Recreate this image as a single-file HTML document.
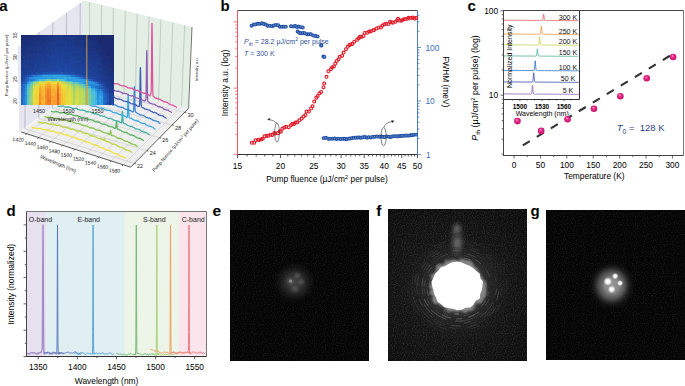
<!DOCTYPE html>
<html><head><meta charset="utf-8"><title>Figure</title>
<style>html,body{margin:0;padding:0;background:#fff;width:685px;height:386px;overflow:hidden}svg{display:block}text{font-family:"Liberation Sans",sans-serif}</style>
</head><body>
<svg width="685" height="386" viewBox="0 0 685 386" font-family='"Liberation Sans", sans-serif'><defs><radialGradient id="sph" cx="0.5" cy="0.5" r="0.5" fx="0.38" fy="0.3"><stop offset="0" stop-color="#ffd0e6"/><stop offset="0.35" stop-color="#f0308c"/><stop offset="1" stop-color="#c8106a"/></radialGradient><filter id="grain" x="0" y="0" width="100%" height="100%"><feTurbulence type="fractalNoise" baseFrequency="0.9" numOctaves="1" seed="3" result="n"/><feColorMatrix in="n" type="matrix" values="0 0 0 0 0.22  0 0 0 0 0.22  0 0 0 0 0.22  1.6 0 0 0 -0.72" result="g"/><feComposite in="g" in2="SourceGraphic" operator="in"/></filter><filter id="bl1" x="-50%" y="-50%" width="200%" height="200%"><feGaussianBlur stdDeviation="1.0"/></filter><filter id="bl2" x="-50%" y="-50%" width="200%" height="200%"><feGaussianBlur stdDeviation="2.2"/></filter><filter id="bl05" x="-50%" y="-50%" width="200%" height="200%"><feGaussianBlur stdDeviation="0.6"/></filter><radialGradient id="ge"><stop offset="0" stop-color="#4a4a4a" stop-opacity="0.9"/><stop offset="0.45" stop-color="#404040" stop-opacity="0.65"/><stop offset="0.75" stop-color="#2a2a2a" stop-opacity="0.35"/><stop offset="1" stop-color="#222" stop-opacity="0"/></radialGradient><radialGradient id="gdot"><stop offset="0" stop-color="#fff" stop-opacity="0.17"/><stop offset="1" stop-color="#fff" stop-opacity="0"/></radialGradient><clipPath id="cf"><rect x="388" y="209" width="139" height="152"/></clipPath><radialGradient id="gfw" cx="0.5" cy="0.5" r="0.5"><stop offset="0" stop-color="#444" stop-opacity="0.45"/><stop offset="0.5" stop-color="#333" stop-opacity="0.32"/><stop offset="1" stop-color="#262626" stop-opacity="0.2"/></radialGradient><radialGradient id="gfh" cx="0.5" cy="0.5" r="0.5"><stop offset="0.45" stop-color="#555" stop-opacity="0.5"/><stop offset="0.6" stop-color="#404040" stop-opacity="0.3"/><stop offset="0.8" stop-color="#303030" stop-opacity="0.15"/><stop offset="1" stop-color="#222" stop-opacity="0"/></radialGradient><radialGradient id="gg"><stop offset="0" stop-color="#a0a0a0" stop-opacity="0.95"/><stop offset="0.3" stop-color="#959595" stop-opacity="0.9"/><stop offset="0.5" stop-color="#707070" stop-opacity="0.72"/><stop offset="0.7" stop-color="#444" stop-opacity="0.42"/><stop offset="0.86" stop-color="#282828" stop-opacity="0.2"/><stop offset="1" stop-color="#222" stop-opacity="0"/></radialGradient><radialGradient id="gdot2"><stop offset="0" stop-color="#fff"/><stop offset="0.45" stop-color="#fff" stop-opacity="0.9"/><stop offset="1" stop-color="#fff" stop-opacity="0"/></radialGradient></defs><text x="-0.8" y="10.8" font-size="15" font-weight="bold">a</text>
<polygon points="83.7,0.6 17.6,47.4 19.2,131.9 84,84.2" fill="#e6e6f1" stroke="none" stroke-width="1"/>
<polygon points="83.7,0.6 192,27 188.6,108.3 84,84.2" fill="#e3eee5" stroke="none" stroke-width="1"/>
<line x1="89.44" y1="85.45" x2="89.62" y2="2.04" stroke="#aab4ac" stroke-width="0.6"/>
<line x1="100.95" y1="88.1" x2="101.5" y2="4.94" stroke="#aab4ac" stroke-width="0.6"/>
<line x1="112.45" y1="90.76" x2="113.38" y2="7.83" stroke="#aab4ac" stroke-width="0.6"/>
<line x1="123.96" y1="93.41" x2="125.26" y2="10.73" stroke="#aab4ac" stroke-width="0.6"/>
<line x1="135.46" y1="96.06" x2="137.14" y2="13.63" stroke="#aab4ac" stroke-width="0.6"/>
<line x1="146.97" y1="98.71" x2="149.02" y2="16.52" stroke="#aab4ac" stroke-width="0.6"/>
<line x1="158.48" y1="101.36" x2="160.9" y2="19.42" stroke="#aab4ac" stroke-width="0.6"/>
<line x1="169.98" y1="104.01" x2="172.78" y2="22.31" stroke="#aab4ac" stroke-width="0.6"/>
<line x1="181.49" y1="106.66" x2="184.66" y2="25.21" stroke="#aab4ac" stroke-width="0.6"/>
<line x1="24.94" y1="128.85" x2="25.34" y2="41.92" stroke="#a0a0aa" stroke-width="0.6"/>
<line x1="38.66" y1="118.47" x2="39.06" y2="32.2" stroke="#a0a0aa" stroke-width="0.6"/>
<line x1="52.39" y1="108.1" x2="52.79" y2="22.49" stroke="#a0a0aa" stroke-width="0.6"/>
<line x1="66.11" y1="97.72" x2="66.51" y2="12.77" stroke="#a0a0aa" stroke-width="0.6"/>
<line x1="79.84" y1="87.35" x2="80.24" y2="3.05" stroke="#a0a0aa" stroke-width="0.6"/>
<polygon points="20.9,131.9 130.6,167.2 188.6,108.3 84,84.2" fill="#efefef" stroke="none" stroke-width="1"/>
<line x1="26.6" y1="133.74" x2="89.44" y2="85.45" stroke="#c4c4c4" stroke-width="0.55"/>
<line x1="38.67" y1="137.62" x2="100.95" y2="88.1" stroke="#c4c4c4" stroke-width="0.55"/>
<line x1="50.74" y1="141.5" x2="112.45" y2="90.76" stroke="#c4c4c4" stroke-width="0.55"/>
<line x1="62.81" y1="145.38" x2="123.96" y2="93.41" stroke="#c4c4c4" stroke-width="0.55"/>
<line x1="74.87" y1="149.27" x2="135.46" y2="96.06" stroke="#c4c4c4" stroke-width="0.55"/>
<line x1="86.94" y1="153.15" x2="146.97" y2="98.71" stroke="#c4c4c4" stroke-width="0.55"/>
<line x1="99.01" y1="157.03" x2="158.48" y2="101.36" stroke="#c4c4c4" stroke-width="0.55"/>
<line x1="111.07" y1="160.92" x2="169.98" y2="104.01" stroke="#c4c4c4" stroke-width="0.55"/>
<line x1="123.14" y1="164.8" x2="181.49" y2="106.66" stroke="#c4c4c4" stroke-width="0.55"/>
<line x1="24.94" y1="128.85" x2="134.31" y2="163.43" stroke="#c4c4c4" stroke-width="0.55"/>
<line x1="38.66" y1="118.47" x2="146.93" y2="150.62" stroke="#c4c4c4" stroke-width="0.55"/>
<line x1="52.39" y1="108.1" x2="159.54" y2="137.81" stroke="#c4c4c4" stroke-width="0.55"/>
<line x1="66.11" y1="97.72" x2="172.16" y2="125" stroke="#c4c4c4" stroke-width="0.55"/>
<line x1="79.84" y1="87.35" x2="184.77" y2="112.19" stroke="#c4c4c4" stroke-width="0.55"/>
<line x1="188.6" y1="108.3" x2="192" y2="27" stroke="#555" stroke-width="0.8"/>
<line x1="20.9" y1="131.9" x2="130.6" y2="167.2" stroke="#333" stroke-width="0.8"/>
<line x1="130.6" y1="167.2" x2="188.6" y2="108.3" stroke="#333" stroke-width="0.8"/>
<line x1="26.6" y1="133.74" x2="25.4" y2="135.04" stroke="#333" stroke-width="0.7"/>
<text x="18" y="141.34" font-size="5.1" fill="#222" text-anchor="middle" transform="rotate(4 18 141.34)">1420</text>
<line x1="38.67" y1="137.62" x2="37.47" y2="138.92" stroke="#333" stroke-width="0.7"/>
<text x="30.07" y="145.22" font-size="5.1" fill="#222" text-anchor="middle" transform="rotate(4 30.07 145.22)">1440</text>
<line x1="50.74" y1="141.5" x2="49.54" y2="142.8" stroke="#333" stroke-width="0.7"/>
<text x="42.14" y="149.1" font-size="5.1" fill="#222" text-anchor="middle" transform="rotate(4 42.14 149.1)">1460</text>
<line x1="62.81" y1="145.38" x2="61.61" y2="146.68" stroke="#333" stroke-width="0.7"/>
<text x="54.21" y="152.98" font-size="5.1" fill="#222" text-anchor="middle" transform="rotate(4 54.21 152.98)">1480</text>
<line x1="74.87" y1="149.27" x2="73.67" y2="150.57" stroke="#333" stroke-width="0.7"/>
<text x="66.27" y="156.87" font-size="5.1" fill="#222" text-anchor="middle" transform="rotate(4 66.27 156.87)">1500</text>
<line x1="86.94" y1="153.15" x2="85.74" y2="154.45" stroke="#333" stroke-width="0.7"/>
<text x="78.34" y="160.75" font-size="5.1" fill="#222" text-anchor="middle" transform="rotate(4 78.34 160.75)">1520</text>
<line x1="99.01" y1="157.03" x2="97.81" y2="158.33" stroke="#333" stroke-width="0.7"/>
<text x="90.41" y="164.63" font-size="5.1" fill="#222" text-anchor="middle" transform="rotate(4 90.41 164.63)">1540</text>
<line x1="111.07" y1="160.92" x2="109.87" y2="162.22" stroke="#333" stroke-width="0.7"/>
<text x="102.47" y="168.52" font-size="5.1" fill="#222" text-anchor="middle" transform="rotate(4 102.47 168.52)">1560</text>
<line x1="123.14" y1="164.8" x2="121.94" y2="166.1" stroke="#333" stroke-width="0.7"/>
<text x="114.54" y="172.4" font-size="5.1" fill="#222" text-anchor="middle" transform="rotate(4 114.54 172.4)">1580</text>
<line x1="134.31" y1="163.43" x2="135.91" y2="163.93" stroke="#333" stroke-width="0.7"/>
<text x="140.11" y="168.03" font-size="5.4" fill="#222" text-anchor="middle">22</text>
<line x1="146.93" y1="150.62" x2="148.53" y2="151.12" stroke="#333" stroke-width="0.7"/>
<text x="152.73" y="155.22" font-size="5.4" fill="#222" text-anchor="middle">24</text>
<line x1="159.54" y1="137.81" x2="161.14" y2="138.31" stroke="#333" stroke-width="0.7"/>
<text x="165.34" y="142.41" font-size="5.4" fill="#222" text-anchor="middle">26</text>
<line x1="172.16" y1="125" x2="173.76" y2="125.5" stroke="#333" stroke-width="0.7"/>
<text x="177.96" y="129.6" font-size="5.4" fill="#222" text-anchor="middle">28</text>
<line x1="184.77" y1="112.19" x2="186.37" y2="112.69" stroke="#333" stroke-width="0.7"/>
<text x="190.57" y="116.79" font-size="5.4" fill="#222" text-anchor="middle">30</text>
<text x="57.6" y="165.4" font-size="5.1" fill="#222" text-anchor="middle" transform="rotate(23 57.6 165.4)">Wavelength (nm)</text>
<text x="176.5" y="146.5" font-size="4.7" fill="#222" text-anchor="middle" transform="rotate(-49 176.5 146.5)">Pump fluence (μJ/cm<tspan font-size="3.3" dy="-1.6">2</tspan><tspan dy="1.6"> per pulse)</tspan></text>
<text x="198.2" y="69.2" font-size="4.2" fill="#222" text-anchor="middle" transform="rotate(-90 198.2 69.2)">Intensity a.u.</text>
<polyline points="31.4,127.81 32.6,127.45 33.8,127.83 35,127.87 36.2,128.78 37.4,128.4 38.6,128.65 39.8,128.28 41,128.67 42.2,129.29 43.4,129.51 44.6,130.01 45.8,129.42 47,129.94 48.2,129.9 49.4,130.85 50.6,131.15 51.8,131.22 53,131.35 54.2,131.13 55.4,132.1 56.6,132.27 57.8,133.16 59,132.89 60.2,133.07 61.4,133.29 62.6,133.73 63.8,134.74 65,134.71 66.2,135.27 67.4,134.83 68.6,135.56 69.8,136 71,136.75 72.2,137.25 73.4,137.02 74.6,137.54 75.8,137.5 77,138.72 78.2,138.99 79.4,139.6 80.6,139.56 81.8,139.66 83,140.46 84.2,140.85 85.4,141.98 86.6,141.78 87.8,142.29 89,142.24 90.2,143.03 91.4,143.88 92.6,144.28 93.8,144.9 95,144.55 96.2,145.39 97.4,145.64 97.5,145.66 97.6,145.69 97.7,145.7 97.8,145.7 97.9,145.67 98,145.64 98.1,145.6 98.2,145.58 98.3,145.61 98.4,145.7 98.5,145.86 98.6,146.07 98.7,146.31 98.8,146.56 98.9,146.78 99,146.96 99.1,147.1 99.2,147.19 99.3,147.24 99.4,147.27 99.5,147.27 99.6,147.26 99.7,147.24 99.8,147.22 99.9,147.19 100,147.17 100.1,147.16 100.2,147.15 100.3,147.15 100.4,147.16 100.5,147.19 101.7,147.81 102.9,147.64 104.1,148.67 105.3,149.31 106.5,150.03 107.7,150.49 108.9,150.34 110.1,151.14 111.3,151.39 112.5,152.75 113.7,152.99 114.9,153.53 116.1,153.63 117.3,154 118.5,155.08 119.7,155.56 120.9,156.62 122.1,156.39 123.3,157.05 124.5,157.3 125.7,158.31" fill="none" stroke="#f0e23a" stroke-width="1.25" stroke-linejoin="round"/>
<polyline points="37.9,122.14 39.1,122.12 40.3,122.32 41.5,123.1 42.7,122.82 43.9,123.16 45.1,122.55 46.3,123.11 47.5,123.39 48.7,123.94 49.9,124.25 51.1,123.84 52.3,124.22 53.5,124.05 54.7,125.13 55.9,125.23 57.1,125.66 58.3,125.48 59.5,125.45 60.7,126.15 61.9,126.4 63.1,127.37 64.3,127.02 65.5,127.4 66.7,127.26 67.9,127.92 69.1,128.66 70.3,128.91 71.5,129.39 72.7,128.92 73.9,129.67 75.1,129.85 76.3,130.89 77.5,131.15 78.7,131.24 79.9,131.48 81.1,131.49 82.3,132.64 83.5,132.86 84.7,133.71 85.9,133.43 87.1,133.77 88.3,134.19 89.5,134.79 90.7,135.8 91.9,135.72 93.1,136.3 94.3,136.01 95.5,136.95 96.7,137.5 97.9,138.25 99.1,138.66 100.3,138.49 101.5,139.16 102.7,139.32 102.8,139.4 102.9,139.49 103,139.59 103.1,139.7 103.2,139.82 103.3,139.94 103.4,140.07 103.5,140.19 103.6,140.29 103.7,140.36 103.8,140.4 103.9,140.37 104,140.27 104.1,140.08 104.2,139.83 104.3,139.54 104.4,139.27 104.5,139.07 104.6,139 104.7,139.07 104.8,139.26 104.9,139.55 105,139.86 105.1,140.16 105.2,140.41 105.3,140.6 105.4,140.74 105.5,140.85 105.6,140.93 105.7,141 105.8,141.07 105.9,141.14 106,141.21 106.1,141.28 106.2,141.35 106.3,141.42 106.4,141.48 106.5,141.53 106.6,141.56 106.7,141.59 107.9,141.3 109.1,142.13 110.3,142.74 111.5,143.55 112.7,144.18 113.9,144.02 115.1,144.69 116.3,144.77 117.5,146.09 118.7,146.49 119.9,147.14 121.1,147.25 122.3,147.42 123.5,148.37 124.7,148.84 125.9,150.06 127.1,149.95 128.3,150.54 129.5,150.64 130.7,151.49 131.9,152.48" fill="none" stroke="#bcd43a" stroke-width="1.25" stroke-linejoin="round"/>
<polyline points="44.4,116.45 45.6,116.85 46.8,117.36 48,117.34 49.2,117.6 50.4,116.94 51.6,117.53 52.8,117.55 54,118.4 55.2,118.47 56.4,118.37 57.6,118.47 58.8,118.35 60,119.37 61.2,119.42 62.4,120.1 63.6,119.68 64.8,119.88 66,120.21 67.2,120.68 68.4,121.55 69.6,121.31 70.8,121.76 72,121.37 73.2,122.22 74.4,122.66 75.6,123.26 76.8,123.54 78,123.24 79.2,123.84 80.4,123.91 81.6,125.11 82.8,125.2 84,125.63 85.2,125.54 86.4,125.74 87.6,126.63 88.8,126.98 90,127.92 91.2,127.55 92.4,128.06 93.6,128.12 94.8,128.99 96,129.75 97.2,129.96 98.4,130.43 99.6,130.11 100.8,131.07 102,131.39 103.2,132.46 104.4,132.65 105.6,132.77 106.8,133.14 108,133.38 109.2,134.64 109.3,134.68 109.4,134.71 109.5,134.71 109.6,134.68 109.7,134.6 109.8,134.44 109.9,134.17 110,133.76 110.1,133.22 110.2,132.56 110.3,131.86 110.4,131.23 110.5,130.81 110.6,130.7 110.7,130.93 110.8,131.46 110.9,132.19 111,132.99 111.1,133.75 111.2,134.39 111.3,134.87 111.4,135.21 111.5,135.43 111.6,135.57 111.7,135.65 111.8,135.69 111.9,135.7 112,135.7 112.1,135.68 112.2,135.65 112.3,135.61 112.4,135.56 112.5,135.51 112.6,135.47 112.7,135.42 113.9,135.81 115.1,136.49 116.3,137.1 117.5,138.16 118.7,138.02 119.9,138.64 121.1,138.54 122.3,139.58 123.5,140.27 124.7,140.91 125.9,141.38 127.1,141.2 128.3,142.08 129.5,142.37 130.7,143.7 131.9,143.94 133.1,144.4 134.3,144.58 135.5,144.94 136.7,146.1 137.9,146.53" fill="none" stroke="#86c44a" stroke-width="1.25" stroke-linejoin="round"/>
<polyline points="50.9,111.42 52.1,111.6 53.3,111.93 54.5,111.97 55.7,111.45 56.9,111.88 58.1,111.79 59.3,112.8 60.5,112.69 61.7,112.91 62.9,112.68 64.1,112.74 65.3,113.5 66.5,113.68 67.7,114.44 68.9,113.91 70.1,114.28 71.3,114.24 72.5,114.98 73.7,115.61 74.9,115.65 76.1,115.98 77.3,115.54 78.5,116.41 79.7,116.62 80.9,117.54 82.1,117.59 83.3,117.57 84.5,117.86 85.7,118 86.9,119.16 88.1,119.23 89.3,119.89 90.5,119.52 91.7,119.94 92.9,120.47 94.1,121.07 95.3,121.91 96.5,121.65 97.7,122.17 98.9,121.99 100.1,123.04 101.3,123.54 102.5,124.11 103.7,124.35 104.9,124.17 106.1,124.96 107.3,125.21 108.5,126.45 109.7,126.47 110.9,126.9 112.1,126.91 113.3,127.34 114.5,128.36 114.6,128.38 114.7,128.39 114.8,128.4 114.9,128.41 115,128.42 115.1,128.44 115.2,128.45 115.3,128.47 115.4,128.47 115.5,128.44 115.6,128.33 115.7,128.09 115.8,127.64 115.9,126.94 116,125.96 116.1,124.74 116.2,123.44 116.3,122.26 116.4,121.45 116.5,121.2 116.6,121.58 116.7,122.53 116.8,123.83 116.9,125.25 117,126.56 117.1,127.63 117.2,128.4 117.3,128.88 117.4,129.15 117.5,129.28 117.6,129.32 117.7,129.31 117.8,129.28 117.9,129.25 118,129.23 118.1,129.22 118.2,129.22 118.3,129.23 118.4,129.26 118.5,129.3 118.6,129.36 119.8,130.08 121,130.33 122.2,131.65 123.4,131.78 124.6,132.33 125.8,132.31 127,132.74 128.2,133.72 129.4,134.2 130.6,135.17 131.8,134.88 133,135.54 134.2,135.71 135.4,136.77 136.6,137.54 137.8,137.86 139,138.37 140.2,138.2 141.4,139.31 142.6,139.72 143.8,140.89" fill="none" stroke="#58b45c" stroke-width="1.25" stroke-linejoin="round"/>
<polyline points="57.4,105.91 58.6,106.53 59.8,106.32 61,106.07 62.2,106.18 63.4,106.14 64.6,107.12 65.8,106.98 67,107.44 68.2,106.92 69.4,107.19 70.6,107.6 71.8,108.03 73,108.7 74.2,108.26 75.4,108.65 76.6,108.36 77.8,109.29 79,109.65 80.2,110.06 81.4,110.16 82.6,109.85 83.8,110.56 85,110.69 86.2,111.8 87.4,111.68 88.6,111.96 89.8,111.89 91,112.22 92.2,113.15 93.4,113.37 94.6,114.1 95.8,113.62 97,114.19 98.2,114.36 99.4,115.25 100.6,115.86 101.8,115.88 103,116.27 104.2,116.02 105.4,117.1 106.6,117.41 107.8,118.32 109,118.31 110.2,118.38 111.4,118.85 112.6,119.2 113.8,120.41 115,120.43 116.2,121.07 117.4,120.79 118.6,121.43 119.8,122.11 121,122.75 121.1,122.85 121.2,122.93 121.3,122.98 121.4,122.96 121.5,122.79 121.6,122.41 121.7,121.71 121.8,120.61 121.9,119.06 122,117.16 122.1,115.11 122.2,113.24 122.3,111.9 122.4,111.4 122.5,111.83 122.6,113.1 122.7,114.92 122.8,116.94 122.9,118.82 123,120.38 123.1,121.52 123.2,122.28 123.3,122.75 123.4,123.02 123.5,123.18 123.6,123.28 123.7,123.36 123.8,123.43 123.9,123.5 124,123.57 124.1,123.64 124.2,123.7 124.3,123.76 124.4,123.81 124.5,123.85 125.7,123.87 126.9,124.99 128.1,125.58 129.3,126.03 130.5,126.37 131.7,126.23 132.9,127.23 134.1,127.57 135.3,128.78 136.5,128.82 137.7,129.19 138.9,129.42 140.1,129.91 141.3,131.09 142.5,131.38 143.7,132.23 144.9,131.91 146.1,132.66 147.3,133.12 148.5,134.09 149.7,134.88" fill="none" stroke="#3fb0a2" stroke-width="1.25" stroke-linejoin="round"/>
<polyline points="63.9,101.1 65.1,100.7 66.3,100.73 67.5,100.47 68.7,100.61 69.9,101.36 71.1,101.38 72.3,101.91 73.5,101.25 74.7,101.67 75.9,101.72 77.1,102.45 78.3,102.9 79.5,102.73 80.7,102.99 81.9,102.63 83.1,103.59 84.3,103.77 85.5,104.51 86.7,104.36 87.9,104.31 89.1,104.7 90.3,104.93 91.5,106.03 92.7,105.9 93.9,106.4 95.1,106.03 96.3,106.58 97.5,107.17 98.7,107.69 99.9,108.32 101.1,107.93 102.3,108.49 103.5,108.43 104.7,109.54 105.9,109.91 107.1,110.3 108.3,110.43 109.5,110.31 110.7,111.23 111.9,111.51 113.1,112.61 114.3,112.44 115.5,112.79 116.7,112.89 117.9,113.45 119.1,114.46 120.3,114.67 121.5,115.35 122.7,114.94 123.9,115.71 125.1,116.06 126.3,117.04 126.4,117.15 126.5,117.26 126.6,117.36 126.7,117.44 126.8,117.5 126.9,117.54 127,117.53 127.1,117.44 127.2,117.21 127.3,116.72 127.4,115.81 127.5,114.31 127.6,112.05 127.7,108.98 127.8,105.24 127.9,101.26 128,97.65 128.1,95.11 128.2,94.2 128.3,95.12 128.4,97.67 128.5,101.29 128.6,105.29 128.7,109.04 128.8,112.14 128.9,114.44 129,115.98 129.1,116.93 129.2,117.47 129.3,117.76 129.4,117.92 129.5,118 129.6,118.04 129.7,118.06 129.8,118.06 129.9,118.05 130,118.04 130.1,118.01 130.2,117.98 130.3,117.95 131.5,118.38 132.7,119.48 133.9,119.79 135.1,120.64 136.3,120.29 137.5,120.96 138.7,121.31 139.9,122.28 141.1,123.04 142.3,123.11 143.5,123.64 144.7,123.51 145.9,124.72 147.1,125.15 148.3,126.12 149.5,126.24 150.7,126.39 151.9,127.02 153.1,127.45 154.3,128.79 155.5,128.89" fill="none" stroke="#3aa8e0" stroke-width="1.25" stroke-linejoin="round"/>
<polyline points="70.4,95.16 71.6,95.37 72.8,94.79 74,95.14 75.2,95.56 76.4,95.86 77.6,96.29 78.8,95.7 80,96.11 81.2,95.92 82.4,96.87 83.6,97.09 84.8,97.29 86,97.28 87.2,97.03 88.4,97.85 89.6,97.99 90.8,98.94 92,98.63 93.2,98.85 94.4,98.86 95.6,99.31 96.8,100.21 98,100.28 99.2,100.83 100.4,100.32 101.6,101 102.8,101.27 104,102.12 105.2,102.55 106.4,102.42 107.6,102.81 108.8,102.7 110,103.87 111.2,104.1 112.4,104.83 113.6,104.68 114.8,104.81 116,105.41 117.2,105.83 118.4,106.94 119.6,106.78 120.8,107.32 122,107.11 123.2,107.9 124.4,108.61 125.6,109.14 126.8,109.72 128,109.39 129.2,110.12 130.4,110.27 131.6,111.5 132.8,111.83 132.9,111.81 133,111.8 133.1,111.78 133.2,111.73 133.3,111.63 133.4,111.39 133.5,110.89 133.6,109.95 133.7,108.38 133.8,105.97 133.9,102.67 134,98.63 134.1,94.32 134.2,90.4 134.3,87.66 134.4,86.7 134.5,87.74 134.6,90.56 134.7,94.54 134.8,98.92 134.9,103.01 135,106.35 135.1,108.79 135.2,110.39 135.3,111.33 135.4,111.83 135.5,112.06 135.6,112.15 135.7,112.18 135.8,112.19 135.9,112.21 136,112.23 136.1,112.27 136.2,112.32 136.3,112.39 136.4,112.47 136.5,112.57 137.7,113.61 138.9,114 140.1,115.03 141.3,114.76 142.5,115.31 143.7,115.52 144.9,116.4 146.1,117.32 147.3,117.54 148.5,118.13 149.7,117.87 150.9,118.91 152.1,119.34 153.3,120.43 154.5,120.75 155.7,120.87 156.9,121.39 158.1,121.66 159.3,123.02 160.5,123.29" fill="none" stroke="#3a86d6" stroke-width="1.25" stroke-linejoin="round"/>
<polyline points="76.9,89.98 78.1,89.2 79.3,89.67 80.5,89.75 81.7,90.37 82.9,90.59 84.1,90.25 85.3,90.47 86.5,90.22 87.7,91.23 88.9,91.29 90.1,91.83 91.3,91.54 92.5,91.52 93.7,92.02 94.9,92.3 96.1,93.26 97.3,92.94 98.5,93.34 99.7,93.03 100.9,93.71 102.1,94.32 103.3,94.7 104.5,95.14 105.7,94.69 106.9,95.34 108.1,95.41 109.3,96.51 110.5,96.72 111.7,96.95 112.9,97.04 114.1,97.05 115.3,98.08 116.5,98.33 117.7,99.26 118.9,98.94 120.1,99.31 121.3,99.54 122.5,100.2 123.7,101.14 124.9,101.18 126.1,101.74 127.3,101.38 128.5,102.29 129.7,102.72 130.9,103.61 132.1,103.97 133.3,103.89 134.5,104.43 135.7,104.54 136.9,105.85 138.1,106.07 139.3,106.45 139.4,106.09 139.5,105.32 139.6,103.86 139.7,101.39 139.8,97.64 139.9,92.5 140,86.25 140.1,79.55 140.2,73.47 140.3,69.18 140.4,67.6 140.5,69.09 140.6,73.29 140.7,79.3 140.8,85.94 140.9,92.16 141,97.28 141.1,101.06 141.2,103.58 141.3,105.12 141.4,106 141.5,106.48 141.6,106.75 141.7,106.92 141.8,107.05 141.9,107.16 142,107.26 142.1,107.35 142.2,107.44 142.3,107.51 142.4,107.58 142.5,107.64 143.7,107.96 144.9,109.17 146.1,109.22 147.3,109.55 148.5,109.79 149.7,110.24 150.9,111.43 152.1,111.71 153.3,112.56 154.5,112.24 155.7,112.95 156.9,113.43 158.1,114.37 159.3,115.18 160.5,115.19 161.7,115.79 162.9,115.73 164.1,116.99 165.3,117.48 166.5,118.38" fill="none" stroke="#3a5cb8" stroke-width="1.25" stroke-linejoin="round"/>
<polyline points="83.4,83.76 84.6,84.16 85.8,84.01 87,84.88 88.2,84.86 89.4,84.85 90.6,84.78 91.8,84.62 93,85.5 94.2,85.56 95.4,86.31 96.6,85.81 97.8,86.03 99,86.15 100.2,86.67 101.4,87.47 102.6,87.33 103.8,87.75 105,87.27 106.2,88.08 107.4,88.4 108.6,89.14 109.8,89.36 111,89.14 112.2,89.59 113.4,89.61 114.6,90.81 115.8,90.89 117,91.44 118.2,91.23 119.4,91.46 120.6,92.18 121.8,92.6 123,93.56 124.2,93.23 125.4,93.74 126.6,93.65 127.8,94.56 129,95.23 130.2,95.61 131.4,96.02 132.6,95.71 133.8,96.58 135,96.83 136.2,98 137.4,98.15 138.6,98.4 139.8,98.61 141,98.86 142.2,100.04 143.4,100.31 144.6,101.19 145.8,99.95 145.9,98.87 146,96.93 146.1,93.71 146.2,88.85 146.3,82.24 146.4,74.2 146.5,65.61 146.6,57.84 146.7,52.41 146.8,50.5 146.9,52.57 147,58.17 147.1,66.09 147.2,74.81 147.3,82.97 147.4,89.67 147.5,94.59 147.6,97.85 147.7,99.82 147.8,100.89 147.9,101.43 148,101.68 148.1,101.78 148.2,101.83 148.3,101.85 148.4,101.87 148.5,101.9 148.6,101.93 148.7,101.98 148.8,102.04 148.9,102.12 150.1,103.42 151.3,103.47 152.5,104.01 153.7,104 154.9,104.53 156.1,105.53 157.3,106 158.5,106.9 159.7,106.59 160.9,107.31 162.1,107.54 163.3,108.65 164.5,109.37 165.7,109.65 166.9,110.13 168.1,110.04 169.3,111.22 170.5,111.64 171.7,112.79" fill="none" stroke="#8c5cb4" stroke-width="1.25" stroke-linejoin="round"/>
<polyline points="89.9,78.61 91.1,78.38 92.3,79.33 93.5,79.17 94.7,79.48 95.9,79.08 97.1,79.14 98.3,79.72 99.5,79.95 100.7,80.72 101.9,80.21 103.1,80.57 104.3,80.36 105.5,81.14 106.7,81.67 107.9,81.87 109.1,82.15 110.3,81.71 111.5,82.48 112.7,82.63 113.9,83.66 115.1,83.67 116.3,83.78 117.5,83.91 118.7,84.07 119.9,85.15 121.1,85.29 122.3,86.05 123.5,85.63 124.7,86.09 125.9,86.45 127.1,87.16 128.3,87.97 129.5,87.84 130.7,88.35 131.9,88.09 133.1,89.15 134.3,89.58 135.5,90.34 136.7,90.54 137.9,90.44 139.1,91.11 140.3,91.36 141.5,92.64 142.7,92.71 143.9,93.27 145.1,93.16 146.3,93.64 147.5,94.55 148.7,95.04 149.9,95.95 151.1,92.79 151.2,90.02 151.3,85.42 151.4,78.46 151.5,68.98 151.6,57.43 151.7,45.09 151.8,33.92 151.9,26.08 152,23.3 152.1,26.22 152.2,34.2 152.3,45.5 152.4,57.95 152.5,69.6 152.6,79.16 152.7,86.17 152.8,90.8 152.9,93.58 153,95.09 153.1,95.84 153.2,96.18 153.3,96.32 153.4,96.38 153.5,96.42 153.6,96.45 153.7,96.49 153.8,96.54 153.9,96.61 154,96.69 154.1,96.78 155.3,98.09 156.5,98.23 157.7,98.96 158.9,98.77 160.1,99.4 161.3,100.16 162.5,100.86 163.7,101.77 164.9,101.58 166.1,102.28 167.3,102.32 168.5,103.56 169.7,104.17 170.9,104.78 172.1,105.13 173.3,105.11 174.5,106.13 175.7,106.55 176.9,107.87" fill="none" stroke="#e0509c" stroke-width="1.25" stroke-linejoin="round"/>
<g shape-rendering="crispEdges"><rect x="21" y="35" width="2.05" height="1.8" fill="#1a2a71"/><rect x="23" y="35" width="2.05" height="1.8" fill="#1a2a70"/><rect x="25" y="35" width="2.05" height="1.8" fill="#1a2d75"/><rect x="27" y="35" width="2.05" height="1.8" fill="#1a2a70"/><rect x="29" y="35" width="2.05" height="1.8" fill="#1a2d76"/><rect x="31" y="35" width="2.05" height="1.8" fill="#1a2d75"/><rect x="33" y="35" width="2.05" height="1.8" fill="#1a2b73"/><rect x="35" y="35" width="2.05" height="1.8" fill="#1a2f78"/><rect x="37" y="35" width="2.05" height="1.8" fill="#1a2d75"/><rect x="39" y="35" width="2.05" height="1.8" fill="#1a307a"/><rect x="41" y="35" width="2.05" height="1.8" fill="#1a2e78"/><rect x="43" y="35" width="2.05" height="1.8" fill="#1a2f79"/><rect x="45" y="35" width="2.05" height="1.8" fill="#1b327d"/><rect x="47" y="35" width="2.05" height="1.8" fill="#1b3582"/><rect x="49" y="35" width="2.05" height="1.8" fill="#1b317d"/><rect x="51" y="35" width="2.05" height="1.8" fill="#1b327f"/><rect x="53" y="35" width="2.05" height="1.8" fill="#1b3584"/><rect x="55" y="35" width="2.05" height="1.8" fill="#1b3787"/><rect x="57" y="35" width="2.05" height="1.8" fill="#1b3684"/><rect x="59" y="35" width="2.05" height="1.8" fill="#1b3583"/><rect x="61" y="35" width="2.05" height="1.8" fill="#1c3889"/><rect x="63" y="35" width="2.05" height="1.8" fill="#1b3380"/><rect x="65" y="35" width="2.05" height="1.8" fill="#1b3787"/><rect x="67" y="35" width="2.05" height="1.8" fill="#1b3482"/><rect x="69" y="35" width="2.05" height="1.8" fill="#1b3380"/><rect x="71" y="35" width="2.05" height="1.8" fill="#1b327f"/><rect x="73" y="35" width="2.05" height="1.8" fill="#1b337f"/><rect x="75" y="35" width="2.05" height="1.8" fill="#1b3583"/><rect x="77" y="35" width="2.05" height="1.8" fill="#1b317c"/><rect x="79" y="35" width="2.05" height="1.8" fill="#1b327f"/><rect x="81" y="35" width="2.05" height="1.8" fill="#1b327e"/><rect x="83" y="35" width="2.05" height="1.8" fill="#1a307a"/><rect x="85" y="35" width="2.05" height="1.8" fill="#1a307b"/><rect x="87" y="35" width="2.05" height="1.8" fill="#1a2d75"/><rect x="89" y="35" width="2.05" height="1.8" fill="#1a2c74"/><rect x="91" y="35" width="2.05" height="1.8" fill="#1a2c74"/><rect x="93" y="35" width="2.05" height="1.8" fill="#1a2e78"/><rect x="95" y="35" width="2.05" height="1.8" fill="#1a2c74"/><rect x="97" y="35" width="2.05" height="1.8" fill="#1a2a70"/><rect x="99" y="35" width="2.05" height="1.8" fill="#1a2a70"/><rect x="101" y="35" width="2.05" height="1.8" fill="#1a2a70"/><rect x="103" y="35" width="2.05" height="1.8" fill="#1a2a70"/><rect x="105" y="35" width="2.05" height="1.8" fill="#1a2a70"/><rect x="107" y="35" width="2.05" height="1.8" fill="#1a2a70"/><rect x="109" y="35" width="2.05" height="1.8" fill="#1a2a70"/><rect x="111" y="35" width="2.05" height="1.8" fill="#1a2a70"/><rect x="113" y="35" width="1.05" height="1.8" fill="#1a2a70"/><rect x="21" y="36.75" width="2.05" height="1.8" fill="#1a2e78"/><rect x="23" y="36.75" width="2.05" height="1.8" fill="#1a2e77"/><rect x="25" y="36.75" width="2.05" height="1.8" fill="#1a2c73"/><rect x="27" y="36.75" width="2.05" height="1.8" fill="#1a307b"/><rect x="29" y="36.75" width="2.05" height="1.8" fill="#1a2c73"/><rect x="31" y="36.75" width="2.05" height="1.8" fill="#1a2e77"/><rect x="33" y="36.75" width="2.05" height="1.8" fill="#1a307b"/><rect x="35" y="36.75" width="2.05" height="1.8" fill="#1a2d76"/><rect x="37" y="36.75" width="2.05" height="1.8" fill="#1a307b"/><rect x="39" y="36.75" width="2.05" height="1.8" fill="#1a2e78"/><rect x="41" y="36.75" width="2.05" height="1.8" fill="#1b327f"/><rect x="43" y="36.75" width="2.05" height="1.8" fill="#1b3481"/><rect x="45" y="36.75" width="2.05" height="1.8" fill="#1b3380"/><rect x="47" y="36.75" width="2.05" height="1.8" fill="#1b3684"/><rect x="49" y="36.75" width="2.05" height="1.8" fill="#1b3380"/><rect x="51" y="36.75" width="2.05" height="1.8" fill="#1b3685"/><rect x="53" y="36.75" width="2.05" height="1.8" fill="#1b3685"/><rect x="55" y="36.75" width="2.05" height="1.8" fill="#1b3685"/><rect x="57" y="36.75" width="2.05" height="1.8" fill="#1b3685"/><rect x="59" y="36.75" width="2.05" height="1.8" fill="#1c3889"/><rect x="61" y="36.75" width="2.05" height="1.8" fill="#1c398a"/><rect x="63" y="36.75" width="2.05" height="1.8" fill="#1b3685"/><rect x="65" y="36.75" width="2.05" height="1.8" fill="#1b3787"/><rect x="67" y="36.75" width="2.05" height="1.8" fill="#1b3481"/><rect x="69" y="36.75" width="2.05" height="1.8" fill="#1b3786"/><rect x="71" y="36.75" width="2.05" height="1.8" fill="#1b3685"/><rect x="73" y="36.75" width="2.05" height="1.8" fill="#1c3888"/><rect x="75" y="36.75" width="2.05" height="1.8" fill="#1b3685"/><rect x="77" y="36.75" width="2.05" height="1.8" fill="#1b327f"/><rect x="79" y="36.75" width="2.05" height="1.8" fill="#1b327e"/><rect x="81" y="36.75" width="2.05" height="1.8" fill="#1b3380"/><rect x="83" y="36.75" width="2.05" height="1.8" fill="#1a2f78"/><rect x="85" y="36.75" width="2.05" height="1.8" fill="#1a307b"/><rect x="87" y="36.75" width="2.05" height="1.8" fill="#1a2e77"/><rect x="89" y="36.75" width="2.05" height="1.8" fill="#1a2d76"/><rect x="91" y="36.75" width="2.05" height="1.8" fill="#1a2c74"/><rect x="93" y="36.75" width="2.05" height="1.8" fill="#1a307a"/><rect x="95" y="36.75" width="2.05" height="1.8" fill="#1a2b72"/><rect x="97" y="36.75" width="2.05" height="1.8" fill="#1a2a70"/><rect x="99" y="36.75" width="2.05" height="1.8" fill="#1a2a70"/><rect x="101" y="36.75" width="2.05" height="1.8" fill="#1a2a70"/><rect x="103" y="36.75" width="2.05" height="1.8" fill="#1a2a70"/><rect x="105" y="36.75" width="2.05" height="1.8" fill="#1a2a70"/><rect x="107" y="36.75" width="2.05" height="1.8" fill="#1a2a70"/><rect x="109" y="36.75" width="2.05" height="1.8" fill="#1a2a70"/><rect x="111" y="36.75" width="2.05" height="1.8" fill="#1a2a70"/><rect x="113" y="36.75" width="1.05" height="1.8" fill="#1a2a70"/><rect x="21" y="38.5" width="2.05" height="1.8" fill="#1a2c73"/><rect x="23" y="38.5" width="2.05" height="1.8" fill="#1a2d75"/><rect x="25" y="38.5" width="2.05" height="1.8" fill="#1a2d75"/><rect x="27" y="38.5" width="2.05" height="1.8" fill="#1a307b"/><rect x="29" y="38.5" width="2.05" height="1.8" fill="#1b317d"/><rect x="31" y="38.5" width="2.05" height="1.8" fill="#1a2d76"/><rect x="33" y="38.5" width="2.05" height="1.8" fill="#1a2e77"/><rect x="35" y="38.5" width="2.05" height="1.8" fill="#1a2f79"/><rect x="37" y="38.5" width="2.05" height="1.8" fill="#1a2f7a"/><rect x="39" y="38.5" width="2.05" height="1.8" fill="#1b327d"/><rect x="41" y="38.5" width="2.05" height="1.8" fill="#1b3380"/><rect x="43" y="38.5" width="2.05" height="1.8" fill="#1b327e"/><rect x="45" y="38.5" width="2.05" height="1.8" fill="#1b317c"/><rect x="47" y="38.5" width="2.05" height="1.8" fill="#1b3482"/><rect x="49" y="38.5" width="2.05" height="1.8" fill="#1b3482"/><rect x="51" y="38.5" width="2.05" height="1.8" fill="#1b3685"/><rect x="53" y="38.5" width="2.05" height="1.8" fill="#1c398a"/><rect x="55" y="38.5" width="2.05" height="1.8" fill="#1c3888"/><rect x="57" y="38.5" width="2.05" height="1.8" fill="#1b3787"/><rect x="59" y="38.5" width="2.05" height="1.8" fill="#1c3888"/><rect x="61" y="38.5" width="2.05" height="1.8" fill="#1c3889"/><rect x="63" y="38.5" width="2.05" height="1.8" fill="#1b3583"/><rect x="65" y="38.5" width="2.05" height="1.8" fill="#1c398b"/><rect x="67" y="38.5" width="2.05" height="1.8" fill="#1c3989"/><rect x="69" y="38.5" width="2.05" height="1.8" fill="#1c398a"/><rect x="71" y="38.5" width="2.05" height="1.8" fill="#1c3888"/><rect x="73" y="38.5" width="2.05" height="1.8" fill="#1b3583"/><rect x="75" y="38.5" width="2.05" height="1.8" fill="#1b3482"/><rect x="77" y="38.5" width="2.05" height="1.8" fill="#1b327e"/><rect x="79" y="38.5" width="2.05" height="1.8" fill="#1b3482"/><rect x="81" y="38.5" width="2.05" height="1.8" fill="#1b317c"/><rect x="83" y="38.5" width="2.05" height="1.8" fill="#1a307a"/><rect x="85" y="38.5" width="2.05" height="1.8" fill="#1a307b"/><rect x="87" y="38.5" width="2.05" height="1.8" fill="#1a2f79"/><rect x="89" y="38.5" width="2.05" height="1.8" fill="#1a2f79"/><rect x="91" y="38.5" width="2.05" height="1.8" fill="#1a2d76"/><rect x="93" y="38.5" width="2.05" height="1.8" fill="#1a2c74"/><rect x="95" y="38.5" width="2.05" height="1.8" fill="#1a2c74"/><rect x="97" y="38.5" width="2.05" height="1.8" fill="#1a2a70"/><rect x="99" y="38.5" width="2.05" height="1.8" fill="#1a2a70"/><rect x="101" y="38.5" width="2.05" height="1.8" fill="#1a2a70"/><rect x="103" y="38.5" width="2.05" height="1.8" fill="#1a2a70"/><rect x="105" y="38.5" width="2.05" height="1.8" fill="#1a2a70"/><rect x="107" y="38.5" width="2.05" height="1.8" fill="#1a2a70"/><rect x="109" y="38.5" width="2.05" height="1.8" fill="#1a2a70"/><rect x="111" y="38.5" width="2.05" height="1.8" fill="#1a2a70"/><rect x="113" y="38.5" width="1.05" height="1.8" fill="#1a2a70"/><rect x="21" y="40.25" width="2.05" height="1.8" fill="#1a2c73"/><rect x="23" y="40.25" width="2.05" height="1.8" fill="#1a307b"/><rect x="25" y="40.25" width="2.05" height="1.8" fill="#1b317d"/><rect x="27" y="40.25" width="2.05" height="1.8" fill="#1a2f79"/><rect x="29" y="40.25" width="2.05" height="1.8" fill="#1a2f7a"/><rect x="31" y="40.25" width="2.05" height="1.8" fill="#1a2e77"/><rect x="33" y="40.25" width="2.05" height="1.8" fill="#1a2e78"/><rect x="35" y="40.25" width="2.05" height="1.8" fill="#1a307b"/><rect x="37" y="40.25" width="2.05" height="1.8" fill="#1b317c"/><rect x="39" y="40.25" width="2.05" height="1.8" fill="#1b3482"/><rect x="41" y="40.25" width="2.05" height="1.8" fill="#1b317d"/><rect x="43" y="40.25" width="2.05" height="1.8" fill="#1b317d"/><rect x="45" y="40.25" width="2.05" height="1.8" fill="#1b3787"/><rect x="47" y="40.25" width="2.05" height="1.8" fill="#1b3684"/><rect x="49" y="40.25" width="2.05" height="1.8" fill="#1b3482"/><rect x="51" y="40.25" width="2.05" height="1.8" fill="#1b3786"/><rect x="53" y="40.25" width="2.05" height="1.8" fill="#1b3482"/><rect x="55" y="40.25" width="2.05" height="1.8" fill="#1c3888"/><rect x="57" y="40.25" width="2.05" height="1.8" fill="#1c3b8d"/><rect x="59" y="40.25" width="2.05" height="1.8" fill="#1c3a8c"/><rect x="61" y="40.25" width="2.05" height="1.8" fill="#1c398b"/><rect x="63" y="40.25" width="2.05" height="1.8" fill="#1b3786"/><rect x="65" y="40.25" width="2.05" height="1.8" fill="#1b3787"/><rect x="67" y="40.25" width="2.05" height="1.8" fill="#1b3685"/><rect x="69" y="40.25" width="2.05" height="1.8" fill="#1c398a"/><rect x="71" y="40.25" width="2.05" height="1.8" fill="#1b3787"/><rect x="73" y="40.25" width="2.05" height="1.8" fill="#1c3888"/><rect x="75" y="40.25" width="2.05" height="1.8" fill="#1b3583"/><rect x="77" y="40.25" width="2.05" height="1.8" fill="#1b3481"/><rect x="79" y="40.25" width="2.05" height="1.8" fill="#1b3685"/><rect x="81" y="40.25" width="2.05" height="1.8" fill="#1b3786"/><rect x="83" y="40.25" width="2.05" height="1.8" fill="#1b3583"/><rect x="85" y="40.25" width="2.05" height="1.8" fill="#1b3482"/><rect x="87" y="40.25" width="2.05" height="1.8" fill="#1b3481"/><rect x="89" y="40.25" width="2.05" height="1.8" fill="#1b327f"/><rect x="91" y="40.25" width="2.05" height="1.8" fill="#1a2f79"/><rect x="93" y="40.25" width="2.05" height="1.8" fill="#1a307b"/><rect x="95" y="40.25" width="2.05" height="1.8" fill="#1a2e77"/><rect x="97" y="40.25" width="2.05" height="1.8" fill="#1a2a71"/><rect x="99" y="40.25" width="2.05" height="1.8" fill="#1a2a70"/><rect x="101" y="40.25" width="2.05" height="1.8" fill="#1a2a70"/><rect x="103" y="40.25" width="2.05" height="1.8" fill="#1a2a70"/><rect x="105" y="40.25" width="2.05" height="1.8" fill="#1a2a70"/><rect x="107" y="40.25" width="2.05" height="1.8" fill="#1a2a70"/><rect x="109" y="40.25" width="2.05" height="1.8" fill="#1a2a70"/><rect x="111" y="40.25" width="2.05" height="1.8" fill="#1a2a70"/><rect x="113" y="40.25" width="1.05" height="1.8" fill="#1a2a70"/><rect x="21" y="42" width="2.05" height="1.8" fill="#1b317d"/><rect x="23" y="42" width="2.05" height="1.8" fill="#1a2e78"/><rect x="25" y="42" width="2.05" height="1.8" fill="#1a2e77"/><rect x="27" y="42" width="2.05" height="1.8" fill="#1a2e78"/><rect x="29" y="42" width="2.05" height="1.8" fill="#1a2f78"/><rect x="31" y="42" width="2.05" height="1.8" fill="#1a2f79"/><rect x="33" y="42" width="2.05" height="1.8" fill="#1b327e"/><rect x="35" y="42" width="2.05" height="1.8" fill="#1b3482"/><rect x="37" y="42" width="2.05" height="1.8" fill="#1b3583"/><rect x="39" y="42" width="2.05" height="1.8" fill="#1b3380"/><rect x="41" y="42" width="2.05" height="1.8" fill="#1b3583"/><rect x="43" y="42" width="2.05" height="1.8" fill="#1b3786"/><rect x="45" y="42" width="2.05" height="1.8" fill="#1b3380"/><rect x="47" y="42" width="2.05" height="1.8" fill="#1b3787"/><rect x="49" y="42" width="2.05" height="1.8" fill="#1c398a"/><rect x="51" y="42" width="2.05" height="1.8" fill="#1c398a"/><rect x="53" y="42" width="2.05" height="1.8" fill="#1c398b"/><rect x="55" y="42" width="2.05" height="1.8" fill="#1c3889"/><rect x="57" y="42" width="2.05" height="1.8" fill="#1b3787"/><rect x="59" y="42" width="2.05" height="1.8" fill="#1c3b8d"/><rect x="61" y="42" width="2.05" height="1.8" fill="#1c3889"/><rect x="63" y="42" width="2.05" height="1.8" fill="#1c3b8d"/><rect x="65" y="42" width="2.05" height="1.8" fill="#1c3c8f"/><rect x="67" y="42" width="2.05" height="1.8" fill="#1c3889"/><rect x="69" y="42" width="2.05" height="1.8" fill="#1c3888"/><rect x="71" y="42" width="2.05" height="1.8" fill="#1c3a8c"/><rect x="73" y="42" width="2.05" height="1.8" fill="#1c3989"/><rect x="75" y="42" width="2.05" height="1.8" fill="#1b3583"/><rect x="77" y="42" width="2.05" height="1.8" fill="#1b3482"/><rect x="79" y="42" width="2.05" height="1.8" fill="#1b3381"/><rect x="81" y="42" width="2.05" height="1.8" fill="#1b3787"/><rect x="83" y="42" width="2.05" height="1.8" fill="#1b3684"/><rect x="85" y="42" width="2.05" height="1.8" fill="#1b317d"/><rect x="87" y="42" width="2.05" height="1.8" fill="#1b3482"/><rect x="89" y="42" width="2.05" height="1.8" fill="#1b3583"/><rect x="91" y="42" width="2.05" height="1.8" fill="#1b327e"/><rect x="93" y="42" width="2.05" height="1.8" fill="#1a307b"/><rect x="95" y="42" width="2.05" height="1.8" fill="#1a307b"/><rect x="97" y="42" width="2.05" height="1.8" fill="#1a2c73"/><rect x="99" y="42" width="2.05" height="1.8" fill="#1a2a70"/><rect x="101" y="42" width="2.05" height="1.8" fill="#1a2d75"/><rect x="103" y="42" width="2.05" height="1.8" fill="#1a2a70"/><rect x="105" y="42" width="2.05" height="1.8" fill="#1a2a70"/><rect x="107" y="42" width="2.05" height="1.8" fill="#1a2a70"/><rect x="109" y="42" width="2.05" height="1.8" fill="#1a2a70"/><rect x="111" y="42" width="2.05" height="1.8" fill="#1a2a70"/><rect x="113" y="42" width="1.05" height="1.8" fill="#1a2a70"/><rect x="21" y="43.75" width="2.05" height="1.8" fill="#1a2e77"/><rect x="23" y="43.75" width="2.05" height="1.8" fill="#1a2f78"/><rect x="25" y="43.75" width="2.05" height="1.8" fill="#1a2f79"/><rect x="27" y="43.75" width="2.05" height="1.8" fill="#1a2f79"/><rect x="29" y="43.75" width="2.05" height="1.8" fill="#1b327e"/><rect x="31" y="43.75" width="2.05" height="1.8" fill="#1a307b"/><rect x="33" y="43.75" width="2.05" height="1.8" fill="#1b327e"/><rect x="35" y="43.75" width="2.05" height="1.8" fill="#1b317c"/><rect x="37" y="43.75" width="2.05" height="1.8" fill="#1b3685"/><rect x="39" y="43.75" width="2.05" height="1.8" fill="#1b3381"/><rect x="41" y="43.75" width="2.05" height="1.8" fill="#1b3583"/><rect x="43" y="43.75" width="2.05" height="1.8" fill="#1b3685"/><rect x="45" y="43.75" width="2.05" height="1.8" fill="#1c398a"/><rect x="47" y="43.75" width="2.05" height="1.8" fill="#1b3786"/><rect x="49" y="43.75" width="2.05" height="1.8" fill="#1c3a8c"/><rect x="51" y="43.75" width="2.05" height="1.8" fill="#1c3889"/><rect x="53" y="43.75" width="2.05" height="1.8" fill="#1c398a"/><rect x="55" y="43.75" width="2.05" height="1.8" fill="#1c398b"/><rect x="57" y="43.75" width="2.05" height="1.8" fill="#1b3787"/><rect x="59" y="43.75" width="2.05" height="1.8" fill="#1c3a8b"/><rect x="61" y="43.75" width="2.05" height="1.8" fill="#1c3889"/><rect x="63" y="43.75" width="2.05" height="1.8" fill="#1b3787"/><rect x="65" y="43.75" width="2.05" height="1.8" fill="#1c3c8e"/><rect x="67" y="43.75" width="2.05" height="1.8" fill="#1c3888"/><rect x="69" y="43.75" width="2.05" height="1.8" fill="#1c398a"/><rect x="71" y="43.75" width="2.05" height="1.8" fill="#1c3a8c"/><rect x="73" y="43.75" width="2.05" height="1.8" fill="#1c3989"/><rect x="75" y="43.75" width="2.05" height="1.8" fill="#1b3786"/><rect x="77" y="43.75" width="2.05" height="1.8" fill="#1b3787"/><rect x="79" y="43.75" width="2.05" height="1.8" fill="#1b3786"/><rect x="81" y="43.75" width="2.05" height="1.8" fill="#1b3787"/><rect x="83" y="43.75" width="2.05" height="1.8" fill="#1b337f"/><rect x="85" y="43.75" width="2.05" height="1.8" fill="#1b3582"/><rect x="87" y="43.75" width="2.05" height="1.8" fill="#1b327e"/><rect x="89" y="43.75" width="2.05" height="1.8" fill="#1b327d"/><rect x="91" y="43.75" width="2.05" height="1.8" fill="#1b3481"/><rect x="93" y="43.75" width="2.05" height="1.8" fill="#1b327e"/><rect x="95" y="43.75" width="2.05" height="1.8" fill="#1b317c"/><rect x="97" y="43.75" width="2.05" height="1.8" fill="#1a307b"/><rect x="99" y="43.75" width="2.05" height="1.8" fill="#1a2f79"/><rect x="101" y="43.75" width="2.05" height="1.8" fill="#1a2b71"/><rect x="103" y="43.75" width="2.05" height="1.8" fill="#1a2a70"/><rect x="105" y="43.75" width="2.05" height="1.8" fill="#1a2a70"/><rect x="107" y="43.75" width="2.05" height="1.8" fill="#1a2a70"/><rect x="109" y="43.75" width="2.05" height="1.8" fill="#1a2a70"/><rect x="111" y="43.75" width="2.05" height="1.8" fill="#1a2a70"/><rect x="113" y="43.75" width="1.05" height="1.8" fill="#1a2a70"/><rect x="21" y="45.5" width="2.05" height="1.8" fill="#1a307b"/><rect x="23" y="45.5" width="2.05" height="1.8" fill="#1b3380"/><rect x="25" y="45.5" width="2.05" height="1.8" fill="#1b327f"/><rect x="27" y="45.5" width="2.05" height="1.8" fill="#1b3481"/><rect x="29" y="45.5" width="2.05" height="1.8" fill="#1b3582"/><rect x="31" y="45.5" width="2.05" height="1.8" fill="#1b317d"/><rect x="33" y="45.5" width="2.05" height="1.8" fill="#1b3481"/><rect x="35" y="45.5" width="2.05" height="1.8" fill="#1b3685"/><rect x="37" y="45.5" width="2.05" height="1.8" fill="#1b3686"/><rect x="39" y="45.5" width="2.05" height="1.8" fill="#1b3380"/><rect x="41" y="45.5" width="2.05" height="1.8" fill="#1b3481"/><rect x="43" y="45.5" width="2.05" height="1.8" fill="#1b3685"/><rect x="45" y="45.5" width="2.05" height="1.8" fill="#1b3583"/><rect x="47" y="45.5" width="2.05" height="1.8" fill="#1b3786"/><rect x="49" y="45.5" width="2.05" height="1.8" fill="#1b3685"/><rect x="51" y="45.5" width="2.05" height="1.8" fill="#1c3a8c"/><rect x="53" y="45.5" width="2.05" height="1.8" fill="#1c3b8e"/><rect x="55" y="45.5" width="2.05" height="1.8" fill="#1c3c90"/><rect x="57" y="45.5" width="2.05" height="1.8" fill="#1c3989"/><rect x="59" y="45.5" width="2.05" height="1.8" fill="#1c3c8f"/><rect x="61" y="45.5" width="2.05" height="1.8" fill="#1c3c8f"/><rect x="63" y="45.5" width="2.05" height="1.8" fill="#1c398a"/><rect x="65" y="45.5" width="2.05" height="1.8" fill="#1c3d91"/><rect x="67" y="45.5" width="2.05" height="1.8" fill="#1c3d91"/><rect x="69" y="45.5" width="2.05" height="1.8" fill="#1c3989"/><rect x="71" y="45.5" width="2.05" height="1.8" fill="#1c3c90"/><rect x="73" y="45.5" width="2.05" height="1.8" fill="#1c3989"/><rect x="75" y="45.5" width="2.05" height="1.8" fill="#1c3889"/><rect x="77" y="45.5" width="2.05" height="1.8" fill="#1c3b8d"/><rect x="79" y="45.5" width="2.05" height="1.8" fill="#1c398a"/><rect x="81" y="45.5" width="2.05" height="1.8" fill="#1b3582"/><rect x="83" y="45.5" width="2.05" height="1.8" fill="#1b3584"/><rect x="85" y="45.5" width="2.05" height="1.8" fill="#1b3583"/><rect x="87" y="45.5" width="2.05" height="1.8" fill="#1b3381"/><rect x="89" y="45.5" width="2.05" height="1.8" fill="#1b327e"/><rect x="91" y="45.5" width="2.05" height="1.8" fill="#1b327e"/><rect x="93" y="45.5" width="2.05" height="1.8" fill="#1b3481"/><rect x="95" y="45.5" width="2.05" height="1.8" fill="#1a2f79"/><rect x="97" y="45.5" width="2.05" height="1.8" fill="#1a307b"/><rect x="99" y="45.5" width="2.05" height="1.8" fill="#1a2d76"/><rect x="101" y="45.5" width="2.05" height="1.8" fill="#1a2a70"/><rect x="103" y="45.5" width="2.05" height="1.8" fill="#1a2a70"/><rect x="105" y="45.5" width="2.05" height="1.8" fill="#1a2a70"/><rect x="107" y="45.5" width="2.05" height="1.8" fill="#1a2a70"/><rect x="109" y="45.5" width="2.05" height="1.8" fill="#1a2a70"/><rect x="111" y="45.5" width="2.05" height="1.8" fill="#1a2a70"/><rect x="113" y="45.5" width="1.05" height="1.8" fill="#1a2a70"/><rect x="21" y="47.25" width="2.05" height="1.8" fill="#1b3482"/><rect x="23" y="47.25" width="2.05" height="1.8" fill="#1a307a"/><rect x="25" y="47.25" width="2.05" height="1.8" fill="#1b317c"/><rect x="27" y="47.25" width="2.05" height="1.8" fill="#1a307b"/><rect x="29" y="47.25" width="2.05" height="1.8" fill="#1b3582"/><rect x="31" y="47.25" width="2.05" height="1.8" fill="#1b327e"/><rect x="33" y="47.25" width="2.05" height="1.8" fill="#1b327e"/><rect x="35" y="47.25" width="2.05" height="1.8" fill="#1b3482"/><rect x="37" y="47.25" width="2.05" height="1.8" fill="#1c3888"/><rect x="39" y="47.25" width="2.05" height="1.8" fill="#1c3888"/><rect x="41" y="47.25" width="2.05" height="1.8" fill="#1b3584"/><rect x="43" y="47.25" width="2.05" height="1.8" fill="#1b3584"/><rect x="45" y="47.25" width="2.05" height="1.8" fill="#1c3b8d"/><rect x="47" y="47.25" width="2.05" height="1.8" fill="#1c398a"/><rect x="49" y="47.25" width="2.05" height="1.8" fill="#1c3b8d"/><rect x="51" y="47.25" width="2.05" height="1.8" fill="#1c3888"/><rect x="53" y="47.25" width="2.05" height="1.8" fill="#1c3889"/><rect x="55" y="47.25" width="2.05" height="1.8" fill="#1c3c8f"/><rect x="57" y="47.25" width="2.05" height="1.8" fill="#1c3b8d"/><rect x="59" y="47.25" width="2.05" height="1.8" fill="#1c398a"/><rect x="61" y="47.25" width="2.05" height="1.8" fill="#1c3e93"/><rect x="63" y="47.25" width="2.05" height="1.8" fill="#1c3c90"/><rect x="65" y="47.25" width="2.05" height="1.8" fill="#1c3d91"/><rect x="67" y="47.25" width="2.05" height="1.8" fill="#1c398a"/><rect x="69" y="47.25" width="2.05" height="1.8" fill="#1c3d91"/><rect x="71" y="47.25" width="2.05" height="1.8" fill="#1c3889"/><rect x="73" y="47.25" width="2.05" height="1.8" fill="#1c3c8f"/><rect x="75" y="47.25" width="2.05" height="1.8" fill="#1c398a"/><rect x="77" y="47.25" width="2.05" height="1.8" fill="#1c3888"/><rect x="79" y="47.25" width="2.05" height="1.8" fill="#1c3889"/><rect x="81" y="47.25" width="2.05" height="1.8" fill="#1c3a8b"/><rect x="83" y="47.25" width="2.05" height="1.8" fill="#1b3584"/><rect x="85" y="47.25" width="2.05" height="1.8" fill="#1b3481"/><rect x="87" y="47.25" width="2.05" height="1.8" fill="#1b3584"/><rect x="89" y="47.25" width="2.05" height="1.8" fill="#1b3380"/><rect x="91" y="47.25" width="2.05" height="1.8" fill="#1b327e"/><rect x="93" y="47.25" width="2.05" height="1.8" fill="#1b327d"/><rect x="95" y="47.25" width="2.05" height="1.8" fill="#1a307b"/><rect x="97" y="47.25" width="2.05" height="1.8" fill="#1a2f79"/><rect x="99" y="47.25" width="2.05" height="1.8" fill="#1a2e76"/><rect x="101" y="47.25" width="2.05" height="1.8" fill="#1a2c73"/><rect x="103" y="47.25" width="2.05" height="1.8" fill="#1a2c74"/><rect x="105" y="47.25" width="2.05" height="1.8" fill="#1a2a70"/><rect x="107" y="47.25" width="2.05" height="1.8" fill="#1a2a70"/><rect x="109" y="47.25" width="2.05" height="1.8" fill="#1a2a70"/><rect x="111" y="47.25" width="2.05" height="1.8" fill="#1a2a70"/><rect x="113" y="47.25" width="1.05" height="1.8" fill="#1a2a70"/><rect x="21" y="49" width="2.05" height="1.8" fill="#1b317c"/><rect x="23" y="49" width="2.05" height="1.8" fill="#1a307a"/><rect x="25" y="49" width="2.05" height="1.8" fill="#1b3482"/><rect x="27" y="49" width="2.05" height="1.8" fill="#1b3481"/><rect x="29" y="49" width="2.05" height="1.8" fill="#1b327e"/><rect x="31" y="49" width="2.05" height="1.8" fill="#1b3482"/><rect x="33" y="49" width="2.05" height="1.8" fill="#1b3787"/><rect x="35" y="49" width="2.05" height="1.8" fill="#1b3380"/><rect x="37" y="49" width="2.05" height="1.8" fill="#1c3888"/><rect x="39" y="49" width="2.05" height="1.8" fill="#1b3786"/><rect x="41" y="49" width="2.05" height="1.8" fill="#1c3888"/><rect x="43" y="49" width="2.05" height="1.8" fill="#1c3a8c"/><rect x="45" y="49" width="2.05" height="1.8" fill="#1c3889"/><rect x="47" y="49" width="2.05" height="1.8" fill="#1c3a8b"/><rect x="49" y="49" width="2.05" height="1.8" fill="#1c3b8e"/><rect x="51" y="49" width="2.05" height="1.8" fill="#1c3e92"/><rect x="53" y="49" width="2.05" height="1.8" fill="#1c3b8d"/><rect x="55" y="49" width="2.05" height="1.8" fill="#1c3e92"/><rect x="57" y="49" width="2.05" height="1.8" fill="#1c3d92"/><rect x="59" y="49" width="2.05" height="1.8" fill="#1c3d91"/><rect x="61" y="49" width="2.05" height="1.8" fill="#1c3c8f"/><rect x="63" y="49" width="2.05" height="1.8" fill="#1c3c8f"/><rect x="65" y="49" width="2.05" height="1.8" fill="#1c3a8c"/><rect x="67" y="49" width="2.05" height="1.8" fill="#1c3a8c"/><rect x="69" y="49" width="2.05" height="1.8" fill="#1c398b"/><rect x="71" y="49" width="2.05" height="1.8" fill="#1c3d91"/><rect x="73" y="49" width="2.05" height="1.8" fill="#1c3a8b"/><rect x="75" y="49" width="2.05" height="1.8" fill="#1c3889"/><rect x="77" y="49" width="2.05" height="1.8" fill="#1b3787"/><rect x="79" y="49" width="2.05" height="1.8" fill="#1c3b8d"/><rect x="81" y="49" width="2.05" height="1.8" fill="#1c3a8c"/><rect x="83" y="49" width="2.05" height="1.8" fill="#1c3889"/><rect x="85" y="49" width="2.05" height="1.8" fill="#1b3684"/><rect x="87" y="49" width="2.05" height="1.8" fill="#1b3583"/><rect x="89" y="49" width="2.05" height="1.8" fill="#1b3482"/><rect x="91" y="49" width="2.05" height="1.8" fill="#1b3583"/><rect x="93" y="49" width="2.05" height="1.8" fill="#1b327f"/><rect x="95" y="49" width="2.05" height="1.8" fill="#1b3380"/><rect x="97" y="49" width="2.05" height="1.8" fill="#1a307b"/><rect x="99" y="49" width="2.05" height="1.8" fill="#1b327e"/><rect x="101" y="49" width="2.05" height="1.8" fill="#1a307b"/><rect x="103" y="49" width="2.05" height="1.8" fill="#1a2c74"/><rect x="105" y="49" width="2.05" height="1.8" fill="#1a2a70"/><rect x="107" y="49" width="2.05" height="1.8" fill="#1a2b72"/><rect x="109" y="49" width="2.05" height="1.8" fill="#1a2a70"/><rect x="111" y="49" width="2.05" height="1.8" fill="#1a2a70"/><rect x="113" y="49" width="1.05" height="1.8" fill="#1a2a70"/><rect x="21" y="50.75" width="2.05" height="1.8" fill="#1b337f"/><rect x="23" y="50.75" width="2.05" height="1.8" fill="#1b3380"/><rect x="25" y="50.75" width="2.05" height="1.8" fill="#1b3481"/><rect x="27" y="50.75" width="2.05" height="1.8" fill="#1b337f"/><rect x="29" y="50.75" width="2.05" height="1.8" fill="#1b3583"/><rect x="31" y="50.75" width="2.05" height="1.8" fill="#1b327f"/><rect x="33" y="50.75" width="2.05" height="1.8" fill="#1b3482"/><rect x="35" y="50.75" width="2.05" height="1.8" fill="#1b3482"/><rect x="37" y="50.75" width="2.05" height="1.8" fill="#1b3786"/><rect x="39" y="50.75" width="2.05" height="1.8" fill="#1b3584"/><rect x="41" y="50.75" width="2.05" height="1.8" fill="#1b3685"/><rect x="43" y="50.75" width="2.05" height="1.8" fill="#1c3889"/><rect x="45" y="50.75" width="2.05" height="1.8" fill="#1c3889"/><rect x="47" y="50.75" width="2.05" height="1.8" fill="#1c3b8e"/><rect x="49" y="50.75" width="2.05" height="1.8" fill="#1c3b8e"/><rect x="51" y="50.75" width="2.05" height="1.8" fill="#1c3d91"/><rect x="53" y="50.75" width="2.05" height="1.8" fill="#1c3d91"/><rect x="55" y="50.75" width="2.05" height="1.8" fill="#1c3e93"/><rect x="57" y="50.75" width="2.05" height="1.8" fill="#1d3f95"/><rect x="59" y="50.75" width="2.05" height="1.8" fill="#1c3d90"/><rect x="61" y="50.75" width="2.05" height="1.8" fill="#1c3c90"/><rect x="63" y="50.75" width="2.05" height="1.8" fill="#1d4096"/><rect x="65" y="50.75" width="2.05" height="1.8" fill="#1c3b8e"/><rect x="67" y="50.75" width="2.05" height="1.8" fill="#1c3e93"/><rect x="69" y="50.75" width="2.05" height="1.8" fill="#1c3e92"/><rect x="71" y="50.75" width="2.05" height="1.8" fill="#1c3a8b"/><rect x="73" y="50.75" width="2.05" height="1.8" fill="#1c3e92"/><rect x="75" y="50.75" width="2.05" height="1.8" fill="#1c3d92"/><rect x="77" y="50.75" width="2.05" height="1.8" fill="#1c3b8e"/><rect x="79" y="50.75" width="2.05" height="1.8" fill="#1c3b8e"/><rect x="81" y="50.75" width="2.05" height="1.8" fill="#1c3b8d"/><rect x="83" y="50.75" width="2.05" height="1.8" fill="#1b3686"/><rect x="85" y="50.75" width="2.05" height="1.8" fill="#1c3888"/><rect x="87" y="50.75" width="2.05" height="1.8" fill="#1b3787"/><rect x="89" y="50.75" width="2.05" height="1.8" fill="#1c3889"/><rect x="91" y="50.75" width="2.05" height="1.8" fill="#1b3787"/><rect x="93" y="50.75" width="2.05" height="1.8" fill="#1b3787"/><rect x="95" y="50.75" width="2.05" height="1.8" fill="#1b3583"/><rect x="97" y="50.75" width="2.05" height="1.8" fill="#1b3482"/><rect x="99" y="50.75" width="2.05" height="1.8" fill="#1b317d"/><rect x="101" y="50.75" width="2.05" height="1.8" fill="#1a307a"/><rect x="103" y="50.75" width="2.05" height="1.8" fill="#1a2b72"/><rect x="105" y="50.75" width="2.05" height="1.8" fill="#1a2a70"/><rect x="107" y="50.75" width="2.05" height="1.8" fill="#1a2a70"/><rect x="109" y="50.75" width="2.05" height="1.8" fill="#1a2a70"/><rect x="111" y="50.75" width="2.05" height="1.8" fill="#1a2a70"/><rect x="113" y="50.75" width="1.05" height="1.8" fill="#1a2a70"/><rect x="21" y="52.5" width="2.05" height="1.8" fill="#1b3482"/><rect x="23" y="52.5" width="2.05" height="1.8" fill="#1b3583"/><rect x="25" y="52.5" width="2.05" height="1.8" fill="#1b3584"/><rect x="27" y="52.5" width="2.05" height="1.8" fill="#1b3685"/><rect x="29" y="52.5" width="2.05" height="1.8" fill="#1b3684"/><rect x="31" y="52.5" width="2.05" height="1.8" fill="#1b3380"/><rect x="33" y="52.5" width="2.05" height="1.8" fill="#1c3889"/><rect x="35" y="52.5" width="2.05" height="1.8" fill="#1c398a"/><rect x="37" y="52.5" width="2.05" height="1.8" fill="#1c3888"/><rect x="39" y="52.5" width="2.05" height="1.8" fill="#1c398a"/><rect x="41" y="52.5" width="2.05" height="1.8" fill="#1c3a8c"/><rect x="43" y="52.5" width="2.05" height="1.8" fill="#1c3888"/><rect x="45" y="52.5" width="2.05" height="1.8" fill="#1c3c8f"/><rect x="47" y="52.5" width="2.05" height="1.8" fill="#1c3a8c"/><rect x="49" y="52.5" width="2.05" height="1.8" fill="#1c3a8b"/><rect x="51" y="52.5" width="2.05" height="1.8" fill="#1c3b8e"/><rect x="53" y="52.5" width="2.05" height="1.8" fill="#1d3f94"/><rect x="55" y="52.5" width="2.05" height="1.8" fill="#1c3c8f"/><rect x="57" y="52.5" width="2.05" height="1.8" fill="#1d3f95"/><rect x="59" y="52.5" width="2.05" height="1.8" fill="#1d4198"/><rect x="61" y="52.5" width="2.05" height="1.8" fill="#1c3e93"/><rect x="63" y="52.5" width="2.05" height="1.8" fill="#1c3e92"/><rect x="65" y="52.5" width="2.05" height="1.8" fill="#1c3e93"/><rect x="67" y="52.5" width="2.05" height="1.8" fill="#1d3f94"/><rect x="69" y="52.5" width="2.05" height="1.8" fill="#1d3f95"/><rect x="71" y="52.5" width="2.05" height="1.8" fill="#1c3e92"/><rect x="73" y="52.5" width="2.05" height="1.8" fill="#1c3d92"/><rect x="75" y="52.5" width="2.05" height="1.8" fill="#1c3a8b"/><rect x="77" y="52.5" width="2.05" height="1.8" fill="#1c398b"/><rect x="79" y="52.5" width="2.05" height="1.8" fill="#1c398b"/><rect x="81" y="52.5" width="2.05" height="1.8" fill="#1c3b8e"/><rect x="83" y="52.5" width="2.05" height="1.8" fill="#1c3889"/><rect x="85" y="52.5" width="2.05" height="1.8" fill="#1c398a"/><rect x="87" y="52.5" width="2.05" height="1.8" fill="#1b3583"/><rect x="89" y="52.5" width="2.05" height="1.8" fill="#1b3583"/><rect x="91" y="52.5" width="2.05" height="1.8" fill="#1b3584"/><rect x="93" y="52.5" width="2.05" height="1.8" fill="#1b3787"/><rect x="95" y="52.5" width="2.05" height="1.8" fill="#1b3685"/><rect x="97" y="52.5" width="2.05" height="1.8" fill="#1b3482"/><rect x="99" y="52.5" width="2.05" height="1.8" fill="#1a307b"/><rect x="101" y="52.5" width="2.05" height="1.8" fill="#1a2f7a"/><rect x="103" y="52.5" width="2.05" height="1.8" fill="#1a2d76"/><rect x="105" y="52.5" width="2.05" height="1.8" fill="#1a2c73"/><rect x="107" y="52.5" width="2.05" height="1.8" fill="#1a2a70"/><rect x="109" y="52.5" width="2.05" height="1.8" fill="#1a2b71"/><rect x="111" y="52.5" width="2.05" height="1.8" fill="#1a2a70"/><rect x="113" y="52.5" width="1.05" height="1.8" fill="#1a2a70"/><rect x="21" y="54.25" width="2.05" height="1.8" fill="#1b3787"/><rect x="23" y="54.25" width="2.05" height="1.8" fill="#1b337f"/><rect x="25" y="54.25" width="2.05" height="1.8" fill="#1b3584"/><rect x="27" y="54.25" width="2.05" height="1.8" fill="#1c3888"/><rect x="29" y="54.25" width="2.05" height="1.8" fill="#1c398a"/><rect x="31" y="54.25" width="2.05" height="1.8" fill="#1b3786"/><rect x="33" y="54.25" width="2.05" height="1.8" fill="#1b3685"/><rect x="35" y="54.25" width="2.05" height="1.8" fill="#1b3786"/><rect x="37" y="54.25" width="2.05" height="1.8" fill="#1c3b8e"/><rect x="39" y="54.25" width="2.05" height="1.8" fill="#1c3888"/><rect x="41" y="54.25" width="2.05" height="1.8" fill="#1c3b8d"/><rect x="43" y="54.25" width="2.05" height="1.8" fill="#1c398a"/><rect x="45" y="54.25" width="2.05" height="1.8" fill="#1c3c8f"/><rect x="47" y="54.25" width="2.05" height="1.8" fill="#1d3f94"/><rect x="49" y="54.25" width="2.05" height="1.8" fill="#1c3b8d"/><rect x="51" y="54.25" width="2.05" height="1.8" fill="#1d3f95"/><rect x="53" y="54.25" width="2.05" height="1.8" fill="#1c3e93"/><rect x="55" y="54.25" width="2.05" height="1.8" fill="#1d4197"/><rect x="57" y="54.25" width="2.05" height="1.8" fill="#1d4096"/><rect x="59" y="54.25" width="2.05" height="1.8" fill="#1c3e92"/><rect x="61" y="54.25" width="2.05" height="1.8" fill="#1d4199"/><rect x="63" y="54.25" width="2.05" height="1.8" fill="#1d3f95"/><rect x="65" y="54.25" width="2.05" height="1.8" fill="#1c3c90"/><rect x="67" y="54.25" width="2.05" height="1.8" fill="#1c3c8f"/><rect x="69" y="54.25" width="2.05" height="1.8" fill="#1c3e93"/><rect x="71" y="54.25" width="2.05" height="1.8" fill="#1c3e92"/><rect x="73" y="54.25" width="2.05" height="1.8" fill="#1c3c90"/><rect x="75" y="54.25" width="2.05" height="1.8" fill="#1c3b8d"/><rect x="77" y="54.25" width="2.05" height="1.8" fill="#1c3b8e"/><rect x="79" y="54.25" width="2.05" height="1.8" fill="#1c3b8d"/><rect x="81" y="54.25" width="2.05" height="1.8" fill="#1c3d91"/><rect x="83" y="54.25" width="2.05" height="1.8" fill="#1b3787"/><rect x="85" y="54.25" width="2.05" height="1.8" fill="#1c3b8d"/><rect x="87" y="54.25" width="2.05" height="1.8" fill="#1c3b8d"/><rect x="89" y="54.25" width="2.05" height="1.8" fill="#1b3685"/><rect x="91" y="54.25" width="2.05" height="1.8" fill="#1c3a8c"/><rect x="93" y="54.25" width="2.05" height="1.8" fill="#1c3889"/><rect x="95" y="54.25" width="2.05" height="1.8" fill="#1c3889"/><rect x="97" y="54.25" width="2.05" height="1.8" fill="#1b337f"/><rect x="99" y="54.25" width="2.05" height="1.8" fill="#1b317d"/><rect x="101" y="54.25" width="2.05" height="1.8" fill="#1a307a"/><rect x="103" y="54.25" width="2.05" height="1.8" fill="#1b317d"/><rect x="105" y="54.25" width="2.05" height="1.8" fill="#1a2d76"/><rect x="107" y="54.25" width="2.05" height="1.8" fill="#1a2a71"/><rect x="109" y="54.25" width="2.05" height="1.8" fill="#1a2a70"/><rect x="111" y="54.25" width="2.05" height="1.8" fill="#1a2a70"/><rect x="113" y="54.25" width="1.05" height="1.8" fill="#1a2a70"/><rect x="21" y="56" width="2.05" height="1.8" fill="#1b3481"/><rect x="23" y="56" width="2.05" height="1.8" fill="#1c3888"/><rect x="25" y="56" width="2.05" height="1.8" fill="#1b3584"/><rect x="27" y="56" width="2.05" height="1.8" fill="#1c398b"/><rect x="29" y="56" width="2.05" height="1.8" fill="#1b3685"/><rect x="31" y="56" width="2.05" height="1.8" fill="#1b3786"/><rect x="33" y="56" width="2.05" height="1.8" fill="#1c3989"/><rect x="35" y="56" width="2.05" height="1.8" fill="#1b3787"/><rect x="37" y="56" width="2.05" height="1.8" fill="#1c398a"/><rect x="39" y="56" width="2.05" height="1.8" fill="#1c3d91"/><rect x="41" y="56" width="2.05" height="1.8" fill="#1c3d91"/><rect x="43" y="56" width="2.05" height="1.8" fill="#1c3e92"/><rect x="45" y="56" width="2.05" height="1.8" fill="#1c3d91"/><rect x="47" y="56" width="2.05" height="1.8" fill="#1d4095"/><rect x="49" y="56" width="2.05" height="1.8" fill="#1d4097"/><rect x="51" y="56" width="2.05" height="1.8" fill="#1d3f94"/><rect x="53" y="56" width="2.05" height="1.8" fill="#1d4096"/><rect x="55" y="56" width="2.05" height="1.8" fill="#1c3d91"/><rect x="57" y="56" width="2.05" height="1.8" fill="#1d4198"/><rect x="59" y="56" width="2.05" height="1.8" fill="#1d4096"/><rect x="61" y="56" width="2.05" height="1.8" fill="#1d4299"/><rect x="63" y="56" width="2.05" height="1.8" fill="#1d4198"/><rect x="65" y="56" width="2.05" height="1.8" fill="#1d3f94"/><rect x="67" y="56" width="2.05" height="1.8" fill="#1c3d91"/><rect x="69" y="56" width="2.05" height="1.8" fill="#1d4299"/><rect x="71" y="56" width="2.05" height="1.8" fill="#1c3d91"/><rect x="73" y="56" width="2.05" height="1.8" fill="#1c3e93"/><rect x="75" y="56" width="2.05" height="1.8" fill="#1c3d91"/><rect x="77" y="56" width="2.05" height="1.8" fill="#1c3c8f"/><rect x="79" y="56" width="2.05" height="1.8" fill="#1c3e92"/><rect x="81" y="56" width="2.05" height="1.8" fill="#1c3e93"/><rect x="83" y="56" width="2.05" height="1.8" fill="#1c3a8b"/><rect x="85" y="56" width="2.05" height="1.8" fill="#1c3b8e"/><rect x="87" y="56" width="2.05" height="1.8" fill="#1c3889"/><rect x="89" y="56" width="2.05" height="1.8" fill="#1c398b"/><rect x="91" y="56" width="2.05" height="1.8" fill="#1c3888"/><rect x="93" y="56" width="2.05" height="1.8" fill="#1b3685"/><rect x="95" y="56" width="2.05" height="1.8" fill="#1b3583"/><rect x="97" y="56" width="2.05" height="1.8" fill="#1b3380"/><rect x="99" y="56" width="2.05" height="1.8" fill="#1b3584"/><rect x="101" y="56" width="2.05" height="1.8" fill="#1b317c"/><rect x="103" y="56" width="2.05" height="1.8" fill="#1a2e77"/><rect x="105" y="56" width="2.05" height="1.8" fill="#1a307a"/><rect x="107" y="56" width="2.05" height="1.8" fill="#1a2f78"/><rect x="109" y="56" width="2.05" height="1.8" fill="#1a2a70"/><rect x="111" y="56" width="2.05" height="1.8" fill="#1a2a70"/><rect x="113" y="56" width="1.05" height="1.8" fill="#1a2a70"/><rect x="21" y="57.75" width="2.05" height="1.8" fill="#1b3482"/><rect x="23" y="57.75" width="2.05" height="1.8" fill="#1b3685"/><rect x="25" y="57.75" width="2.05" height="1.8" fill="#1b3583"/><rect x="27" y="57.75" width="2.05" height="1.8" fill="#1b3685"/><rect x="29" y="57.75" width="2.05" height="1.8" fill="#1b3786"/><rect x="31" y="57.75" width="2.05" height="1.8" fill="#1c398a"/><rect x="33" y="57.75" width="2.05" height="1.8" fill="#1c3b8e"/><rect x="35" y="57.75" width="2.05" height="1.8" fill="#1c3b8e"/><rect x="37" y="57.75" width="2.05" height="1.8" fill="#1c3a8c"/><rect x="39" y="57.75" width="2.05" height="1.8" fill="#1c3b8d"/><rect x="41" y="57.75" width="2.05" height="1.8" fill="#1c3c8f"/><rect x="43" y="57.75" width="2.05" height="1.8" fill="#1c3c8f"/><rect x="45" y="57.75" width="2.05" height="1.8" fill="#1c3d90"/><rect x="47" y="57.75" width="2.05" height="1.8" fill="#1c3c8f"/><rect x="49" y="57.75" width="2.05" height="1.8" fill="#1c3e92"/><rect x="51" y="57.75" width="2.05" height="1.8" fill="#1d4299"/><rect x="53" y="57.75" width="2.05" height="1.8" fill="#1c3e92"/><rect x="55" y="57.75" width="2.05" height="1.8" fill="#1d4097"/><rect x="57" y="57.75" width="2.05" height="1.8" fill="#1d4198"/><rect x="59" y="57.75" width="2.05" height="1.8" fill="#1d439b"/><rect x="61" y="57.75" width="2.05" height="1.8" fill="#1d3f95"/><rect x="63" y="57.75" width="2.05" height="1.8" fill="#1d4096"/><rect x="65" y="57.75" width="2.05" height="1.8" fill="#1d3f95"/><rect x="67" y="57.75" width="2.05" height="1.8" fill="#1d4096"/><rect x="69" y="57.75" width="2.05" height="1.8" fill="#1d4096"/><rect x="71" y="57.75" width="2.05" height="1.8" fill="#1d429a"/><rect x="73" y="57.75" width="2.05" height="1.8" fill="#1d4198"/><rect x="75" y="57.75" width="2.05" height="1.8" fill="#1d4197"/><rect x="77" y="57.75" width="2.05" height="1.8" fill="#1c3b8e"/><rect x="79" y="57.75" width="2.05" height="1.8" fill="#1c3b8d"/><rect x="81" y="57.75" width="2.05" height="1.8" fill="#1c3e92"/><rect x="83" y="57.75" width="2.05" height="1.8" fill="#1c3e93"/><rect x="85" y="57.75" width="2.05" height="1.8" fill="#1c3b8e"/><rect x="87" y="57.75" width="2.05" height="1.8" fill="#1c3b8d"/><rect x="89" y="57.75" width="2.05" height="1.8" fill="#1b3787"/><rect x="91" y="57.75" width="2.05" height="1.8" fill="#1c3989"/><rect x="93" y="57.75" width="2.05" height="1.8" fill="#1c3b8e"/><rect x="95" y="57.75" width="2.05" height="1.8" fill="#1c3a8b"/><rect x="97" y="57.75" width="2.05" height="1.8" fill="#1c3888"/><rect x="99" y="57.75" width="2.05" height="1.8" fill="#1b3686"/><rect x="101" y="57.75" width="2.05" height="1.8" fill="#1b317c"/><rect x="103" y="57.75" width="2.05" height="1.8" fill="#1a2e77"/><rect x="105" y="57.75" width="2.05" height="1.8" fill="#1a2c75"/><rect x="107" y="57.75" width="2.05" height="1.8" fill="#1a2d75"/><rect x="109" y="57.75" width="2.05" height="1.8" fill="#1a2c74"/><rect x="111" y="57.75" width="2.05" height="1.8" fill="#1a2c73"/><rect x="113" y="57.75" width="1.05" height="1.8" fill="#1a2a70"/><rect x="21" y="59.5" width="2.05" height="1.8" fill="#1c3889"/><rect x="23" y="59.5" width="2.05" height="1.8" fill="#1c398b"/><rect x="25" y="59.5" width="2.05" height="1.8" fill="#1c3888"/><rect x="27" y="59.5" width="2.05" height="1.8" fill="#1c398a"/><rect x="29" y="59.5" width="2.05" height="1.8" fill="#1b3786"/><rect x="31" y="59.5" width="2.05" height="1.8" fill="#1c3b8e"/><rect x="33" y="59.5" width="2.05" height="1.8" fill="#1c398a"/><rect x="35" y="59.5" width="2.05" height="1.8" fill="#1c3d91"/><rect x="37" y="59.5" width="2.05" height="1.8" fill="#1c3c90"/><rect x="39" y="59.5" width="2.05" height="1.8" fill="#1c3b8e"/><rect x="41" y="59.5" width="2.05" height="1.8" fill="#1c3b8d"/><rect x="43" y="59.5" width="2.05" height="1.8" fill="#1c3c90"/><rect x="45" y="59.5" width="2.05" height="1.8" fill="#1d3f94"/><rect x="47" y="59.5" width="2.05" height="1.8" fill="#1d4096"/><rect x="49" y="59.5" width="2.05" height="1.8" fill="#1c3d92"/><rect x="51" y="59.5" width="2.05" height="1.8" fill="#1c3e92"/><rect x="53" y="59.5" width="2.05" height="1.8" fill="#1d4198"/><rect x="55" y="59.5" width="2.05" height="1.8" fill="#1d4299"/><rect x="57" y="59.5" width="2.05" height="1.8" fill="#1d4198"/><rect x="59" y="59.5" width="2.05" height="1.8" fill="#1d4096"/><rect x="61" y="59.5" width="2.05" height="1.8" fill="#1d429a"/><rect x="63" y="59.5" width="2.05" height="1.8" fill="#1d3f95"/><rect x="65" y="59.5" width="2.05" height="1.8" fill="#1d4197"/><rect x="67" y="59.5" width="2.05" height="1.8" fill="#1d4198"/><rect x="69" y="59.5" width="2.05" height="1.8" fill="#1d449c"/><rect x="71" y="59.5" width="2.05" height="1.8" fill="#1d4199"/><rect x="73" y="59.5" width="2.05" height="1.8" fill="#1d429a"/><rect x="75" y="59.5" width="2.05" height="1.8" fill="#1d3f95"/><rect x="77" y="59.5" width="2.05" height="1.8" fill="#1c3d92"/><rect x="79" y="59.5" width="2.05" height="1.8" fill="#1c3d91"/><rect x="81" y="59.5" width="2.05" height="1.8" fill="#1d4096"/><rect x="83" y="59.5" width="2.05" height="1.8" fill="#1c3e92"/><rect x="85" y="59.5" width="2.05" height="1.8" fill="#1c3b8d"/><rect x="87" y="59.5" width="2.05" height="1.8" fill="#1c398a"/><rect x="89" y="59.5" width="2.05" height="1.8" fill="#1c3b8d"/><rect x="91" y="59.5" width="2.05" height="1.8" fill="#1c3b8e"/><rect x="93" y="59.5" width="2.05" height="1.8" fill="#1c398a"/><rect x="95" y="59.5" width="2.05" height="1.8" fill="#1b3787"/><rect x="97" y="59.5" width="2.05" height="1.8" fill="#1c3888"/><rect x="99" y="59.5" width="2.05" height="1.8" fill="#1b3787"/><rect x="101" y="59.5" width="2.05" height="1.8" fill="#1b317d"/><rect x="103" y="59.5" width="2.05" height="1.8" fill="#1a2e78"/><rect x="105" y="59.5" width="2.05" height="1.8" fill="#1a2e78"/><rect x="107" y="59.5" width="2.05" height="1.8" fill="#1a2d76"/><rect x="109" y="59.5" width="2.05" height="1.8" fill="#1a2d75"/><rect x="111" y="59.5" width="2.05" height="1.8" fill="#1a2a70"/><rect x="113" y="59.5" width="1.05" height="1.8" fill="#1a2b71"/><rect x="21" y="61.25" width="2.05" height="1.8" fill="#1c3a8b"/><rect x="23" y="61.25" width="2.05" height="1.8" fill="#1c398a"/><rect x="25" y="61.25" width="2.05" height="1.8" fill="#1b3787"/><rect x="27" y="61.25" width="2.05" height="1.8" fill="#1c3c8f"/><rect x="29" y="61.25" width="2.05" height="1.8" fill="#1c398a"/><rect x="31" y="61.25" width="2.05" height="1.8" fill="#1c3c90"/><rect x="33" y="61.25" width="2.05" height="1.8" fill="#1c3a8b"/><rect x="35" y="61.25" width="2.05" height="1.8" fill="#1c3a8c"/><rect x="37" y="61.25" width="2.05" height="1.8" fill="#1c3e92"/><rect x="39" y="61.25" width="2.05" height="1.8" fill="#1c3c8f"/><rect x="41" y="61.25" width="2.05" height="1.8" fill="#1d4097"/><rect x="43" y="61.25" width="2.05" height="1.8" fill="#1c3e93"/><rect x="45" y="61.25" width="2.05" height="1.8" fill="#1c3d92"/><rect x="47" y="61.25" width="2.05" height="1.8" fill="#1c3e93"/><rect x="49" y="61.25" width="2.05" height="1.8" fill="#1d4096"/><rect x="51" y="61.25" width="2.05" height="1.8" fill="#1d429a"/><rect x="53" y="61.25" width="2.05" height="1.8" fill="#1d449d"/><rect x="55" y="61.25" width="2.05" height="1.8" fill="#1d4096"/><rect x="57" y="61.25" width="2.05" height="1.8" fill="#1d4299"/><rect x="59" y="61.25" width="2.05" height="1.8" fill="#1d4198"/><rect x="61" y="61.25" width="2.05" height="1.8" fill="#1d459f"/><rect x="63" y="61.25" width="2.05" height="1.8" fill="#1d4197"/><rect x="65" y="61.25" width="2.05" height="1.8" fill="#1d4096"/><rect x="67" y="61.25" width="2.05" height="1.8" fill="#1d4096"/><rect x="69" y="61.25" width="2.05" height="1.8" fill="#1d4198"/><rect x="71" y="61.25" width="2.05" height="1.8" fill="#1d449d"/><rect x="73" y="61.25" width="2.05" height="1.8" fill="#1d439b"/><rect x="75" y="61.25" width="2.05" height="1.8" fill="#1d4299"/><rect x="77" y="61.25" width="2.05" height="1.8" fill="#1d439a"/><rect x="79" y="61.25" width="2.05" height="1.8" fill="#1d4199"/><rect x="81" y="61.25" width="2.05" height="1.8" fill="#1c3d92"/><rect x="83" y="61.25" width="2.05" height="1.8" fill="#1c3c8f"/><rect x="85" y="61.25" width="2.05" height="1.8" fill="#1d3f95"/><rect x="87" y="61.25" width="2.05" height="1.8" fill="#1c3e92"/><rect x="89" y="61.25" width="2.05" height="1.8" fill="#1c398a"/><rect x="91" y="61.25" width="2.05" height="1.8" fill="#1c3c8f"/><rect x="93" y="61.25" width="2.05" height="1.8" fill="#1c3a8b"/><rect x="95" y="61.25" width="2.05" height="1.8" fill="#1c398a"/><rect x="97" y="61.25" width="2.05" height="1.8" fill="#1b3786"/><rect x="99" y="61.25" width="2.05" height="1.8" fill="#1b3481"/><rect x="101" y="61.25" width="2.05" height="1.8" fill="#1b317c"/><rect x="103" y="61.25" width="2.05" height="1.8" fill="#1b317c"/><rect x="105" y="61.25" width="2.05" height="1.8" fill="#1a2f79"/><rect x="107" y="61.25" width="2.05" height="1.8" fill="#1b317c"/><rect x="109" y="61.25" width="2.05" height="1.8" fill="#1a2b71"/><rect x="111" y="61.25" width="2.05" height="1.8" fill="#1a2e77"/><rect x="113" y="61.25" width="1.05" height="1.8" fill="#1a2a70"/><rect x="21" y="63" width="2.05" height="1.8" fill="#1c3989"/><rect x="23" y="63" width="2.05" height="1.8" fill="#1c3b8e"/><rect x="25" y="63" width="2.05" height="1.8" fill="#1c3c8f"/><rect x="27" y="63" width="2.05" height="1.8" fill="#1c3a8c"/><rect x="29" y="63" width="2.05" height="1.8" fill="#1c3889"/><rect x="31" y="63" width="2.05" height="1.8" fill="#1c3b8e"/><rect x="33" y="63" width="2.05" height="1.8" fill="#1c3b8e"/><rect x="35" y="63" width="2.05" height="1.8" fill="#1d3f94"/><rect x="37" y="63" width="2.05" height="1.8" fill="#1c3c8e"/><rect x="39" y="63" width="2.05" height="1.8" fill="#1c3d91"/><rect x="41" y="63" width="2.05" height="1.8" fill="#1d4198"/><rect x="43" y="63" width="2.05" height="1.8" fill="#1c3d90"/><rect x="45" y="63" width="2.05" height="1.8" fill="#1d4095"/><rect x="47" y="63" width="2.05" height="1.8" fill="#1d439a"/><rect x="49" y="63" width="2.05" height="1.8" fill="#1d439b"/><rect x="51" y="63" width="2.05" height="1.8" fill="#1d3f95"/><rect x="53" y="63" width="2.05" height="1.8" fill="#1d4096"/><rect x="55" y="63" width="2.05" height="1.8" fill="#1d4097"/><rect x="57" y="63" width="2.05" height="1.8" fill="#1e46a0"/><rect x="59" y="63" width="2.05" height="1.8" fill="#1d429a"/><rect x="61" y="63" width="2.05" height="1.8" fill="#1d459f"/><rect x="63" y="63" width="2.05" height="1.8" fill="#1e46a0"/><rect x="65" y="63" width="2.05" height="1.8" fill="#1d439a"/><rect x="67" y="63" width="2.05" height="1.8" fill="#1d4299"/><rect x="69" y="63" width="2.05" height="1.8" fill="#1d459f"/><rect x="71" y="63" width="2.05" height="1.8" fill="#1d439b"/><rect x="73" y="63" width="2.05" height="1.8" fill="#1d4197"/><rect x="75" y="63" width="2.05" height="1.8" fill="#1d429a"/><rect x="77" y="63" width="2.05" height="1.8" fill="#1d4095"/><rect x="79" y="63" width="2.05" height="1.8" fill="#1d3f94"/><rect x="81" y="63" width="2.05" height="1.8" fill="#1c3c90"/><rect x="83" y="63" width="2.05" height="1.8" fill="#1d4096"/><rect x="85" y="63" width="2.05" height="1.8" fill="#1d4096"/><rect x="87" y="63" width="2.05" height="1.8" fill="#1c3e92"/><rect x="89" y="63" width="2.05" height="1.8" fill="#1d3f94"/><rect x="91" y="63" width="2.05" height="1.8" fill="#1c398a"/><rect x="93" y="63" width="2.05" height="1.8" fill="#1c3a8b"/><rect x="95" y="63" width="2.05" height="1.8" fill="#1c3a8c"/><rect x="97" y="63" width="2.05" height="1.8" fill="#1c3b8d"/><rect x="99" y="63" width="2.05" height="1.8" fill="#1c398a"/><rect x="101" y="63" width="2.05" height="1.8" fill="#1b3481"/><rect x="103" y="63" width="2.05" height="1.8" fill="#1b317d"/><rect x="105" y="63" width="2.05" height="1.8" fill="#1b317c"/><rect x="107" y="63" width="2.05" height="1.8" fill="#1a2f79"/><rect x="109" y="63" width="2.05" height="1.8" fill="#1a307b"/><rect x="111" y="63" width="2.05" height="1.8" fill="#1a2a71"/><rect x="113" y="63" width="1.05" height="1.8" fill="#1a2c75"/><rect x="21" y="64.75" width="2.05" height="1.8" fill="#1c3c8e"/><rect x="23" y="64.75" width="2.05" height="1.8" fill="#1c3c90"/><rect x="25" y="64.75" width="2.05" height="1.8" fill="#1c3c90"/><rect x="27" y="64.75" width="2.05" height="1.8" fill="#1c3c8f"/><rect x="29" y="64.75" width="2.05" height="1.8" fill="#1c3b8d"/><rect x="31" y="64.75" width="2.05" height="1.8" fill="#1c3b8e"/><rect x="33" y="64.75" width="2.05" height="1.8" fill="#1c3c8f"/><rect x="35" y="64.75" width="2.05" height="1.8" fill="#1d3f94"/><rect x="37" y="64.75" width="2.05" height="1.8" fill="#1c3c8f"/><rect x="39" y="64.75" width="2.05" height="1.8" fill="#1c3d91"/><rect x="41" y="64.75" width="2.05" height="1.8" fill="#1d4198"/><rect x="43" y="64.75" width="2.05" height="1.8" fill="#1d3f94"/><rect x="45" y="64.75" width="2.05" height="1.8" fill="#1d3f94"/><rect x="47" y="64.75" width="2.05" height="1.8" fill="#1d3f94"/><rect x="49" y="64.75" width="2.05" height="1.8" fill="#1d439b"/><rect x="51" y="64.75" width="2.05" height="1.8" fill="#1d4299"/><rect x="53" y="64.75" width="2.05" height="1.8" fill="#1e46a0"/><rect x="55" y="64.75" width="2.05" height="1.8" fill="#1e46a0"/><rect x="57" y="64.75" width="2.05" height="1.8" fill="#1e47a1"/><rect x="59" y="64.75" width="2.05" height="1.8" fill="#1d439b"/><rect x="61" y="64.75" width="2.05" height="1.8" fill="#1d429a"/><rect x="63" y="64.75" width="2.05" height="1.8" fill="#1d429a"/><rect x="65" y="64.75" width="2.05" height="1.8" fill="#1d449e"/><rect x="67" y="64.75" width="2.05" height="1.8" fill="#1d459f"/><rect x="69" y="64.75" width="2.05" height="1.8" fill="#1d439c"/><rect x="71" y="64.75" width="2.05" height="1.8" fill="#1d4299"/><rect x="73" y="64.75" width="2.05" height="1.8" fill="#1d429a"/><rect x="75" y="64.75" width="2.05" height="1.8" fill="#1d439b"/><rect x="77" y="64.75" width="2.05" height="1.8" fill="#1d429a"/><rect x="79" y="64.75" width="2.05" height="1.8" fill="#1d429a"/><rect x="81" y="64.75" width="2.05" height="1.8" fill="#1d429a"/><rect x="83" y="64.75" width="2.05" height="1.8" fill="#1d4097"/><rect x="85" y="64.75" width="2.05" height="1.8" fill="#1c3d90"/><rect x="87" y="64.75" width="2.05" height="1.8" fill="#1d4096"/><rect x="89" y="64.75" width="2.05" height="1.8" fill="#1c3c90"/><rect x="91" y="64.75" width="2.05" height="1.8" fill="#1c3d91"/><rect x="93" y="64.75" width="2.05" height="1.8" fill="#1c3b8e"/><rect x="95" y="64.75" width="2.05" height="1.8" fill="#1c3d90"/><rect x="97" y="64.75" width="2.05" height="1.8" fill="#1c3888"/><rect x="99" y="64.75" width="2.05" height="1.8" fill="#1b3685"/><rect x="101" y="64.75" width="2.05" height="1.8" fill="#1b3482"/><rect x="103" y="64.75" width="2.05" height="1.8" fill="#1b327e"/><rect x="105" y="64.75" width="2.05" height="1.8" fill="#1b3482"/><rect x="107" y="64.75" width="2.05" height="1.8" fill="#1b317c"/><rect x="109" y="64.75" width="2.05" height="1.8" fill="#1a2e76"/><rect x="111" y="64.75" width="2.05" height="1.8" fill="#1a2c74"/><rect x="113" y="64.75" width="1.05" height="1.8" fill="#1a2e78"/><rect x="21" y="66.5" width="2.05" height="1.8" fill="#1c3b8e"/><rect x="23" y="66.5" width="2.05" height="1.8" fill="#1c3a8c"/><rect x="25" y="66.5" width="2.05" height="1.8" fill="#1c3d92"/><rect x="27" y="66.5" width="2.05" height="1.8" fill="#1c3d91"/><rect x="29" y="66.5" width="2.05" height="1.8" fill="#1d3f95"/><rect x="31" y="66.5" width="2.05" height="1.8" fill="#1c3b8d"/><rect x="33" y="66.5" width="2.05" height="1.8" fill="#1c3e92"/><rect x="35" y="66.5" width="2.05" height="1.8" fill="#1d4096"/><rect x="37" y="66.5" width="2.05" height="1.8" fill="#1d4198"/><rect x="39" y="66.5" width="2.05" height="1.8" fill="#1d429a"/><rect x="41" y="66.5" width="2.05" height="1.8" fill="#1c3e93"/><rect x="43" y="66.5" width="2.05" height="1.8" fill="#1d4096"/><rect x="45" y="66.5" width="2.05" height="1.8" fill="#1d4096"/><rect x="47" y="66.5" width="2.05" height="1.8" fill="#1d4198"/><rect x="49" y="66.5" width="2.05" height="1.8" fill="#1e46a0"/><rect x="51" y="66.5" width="2.05" height="1.8" fill="#1d449e"/><rect x="53" y="66.5" width="2.05" height="1.8" fill="#1e47a1"/><rect x="55" y="66.5" width="2.05" height="1.8" fill="#1d449d"/><rect x="57" y="66.5" width="2.05" height="1.8" fill="#1e47a2"/><rect x="59" y="66.5" width="2.05" height="1.8" fill="#1d459f"/><rect x="61" y="66.5" width="2.05" height="1.8" fill="#1d449d"/><rect x="63" y="66.5" width="2.05" height="1.8" fill="#1e47a2"/><rect x="65" y="66.5" width="2.05" height="1.8" fill="#1e48a3"/><rect x="67" y="66.5" width="2.05" height="1.8" fill="#1d439b"/><rect x="69" y="66.5" width="2.05" height="1.8" fill="#1d459f"/><rect x="71" y="66.5" width="2.05" height="1.8" fill="#1d459e"/><rect x="73" y="66.5" width="2.05" height="1.8" fill="#1d429a"/><rect x="75" y="66.5" width="2.05" height="1.8" fill="#1d429a"/><rect x="77" y="66.5" width="2.05" height="1.8" fill="#1d4097"/><rect x="79" y="66.5" width="2.05" height="1.8" fill="#1d4096"/><rect x="81" y="66.5" width="2.05" height="1.8" fill="#1d4095"/><rect x="83" y="66.5" width="2.05" height="1.8" fill="#1d4197"/><rect x="85" y="66.5" width="2.05" height="1.8" fill="#1d4097"/><rect x="87" y="66.5" width="2.05" height="1.8" fill="#1c3d91"/><rect x="89" y="66.5" width="2.05" height="1.8" fill="#1c3b8e"/><rect x="91" y="66.5" width="2.05" height="1.8" fill="#1c3d90"/><rect x="93" y="66.5" width="2.05" height="1.8" fill="#1c3e93"/><rect x="95" y="66.5" width="2.05" height="1.8" fill="#1c3a8c"/><rect x="97" y="66.5" width="2.05" height="1.8" fill="#1c398a"/><rect x="99" y="66.5" width="2.05" height="1.8" fill="#1b3786"/><rect x="101" y="66.5" width="2.05" height="1.8" fill="#1c3888"/><rect x="103" y="66.5" width="2.05" height="1.8" fill="#1b3583"/><rect x="105" y="66.5" width="2.05" height="1.8" fill="#1a307b"/><rect x="107" y="66.5" width="2.05" height="1.8" fill="#1a2f79"/><rect x="109" y="66.5" width="2.05" height="1.8" fill="#1a2f79"/><rect x="111" y="66.5" width="2.05" height="1.8" fill="#1a2e77"/><rect x="113" y="66.5" width="1.05" height="1.8" fill="#1a2d76"/><rect x="21" y="68.25" width="2.05" height="1.8" fill="#1c3a8b"/><rect x="23" y="68.25" width="2.05" height="1.8" fill="#1c3a8c"/><rect x="25" y="68.25" width="2.05" height="1.8" fill="#1c3e92"/><rect x="27" y="68.25" width="2.05" height="1.8" fill="#1c3d90"/><rect x="29" y="68.25" width="2.05" height="1.8" fill="#1c3c90"/><rect x="31" y="68.25" width="2.05" height="1.8" fill="#1c3d91"/><rect x="33" y="68.25" width="2.05" height="1.8" fill="#1d4198"/><rect x="35" y="68.25" width="2.05" height="1.8" fill="#1c3e93"/><rect x="37" y="68.25" width="2.05" height="1.8" fill="#1d4197"/><rect x="39" y="68.25" width="2.05" height="1.8" fill="#1d4096"/><rect x="41" y="68.25" width="2.05" height="1.8" fill="#1d4198"/><rect x="43" y="68.25" width="2.05" height="1.8" fill="#1d449e"/><rect x="45" y="68.25" width="2.05" height="1.8" fill="#1e46a0"/><rect x="47" y="68.25" width="2.05" height="1.8" fill="#1d439b"/><rect x="49" y="68.25" width="2.05" height="1.8" fill="#1d439b"/><rect x="51" y="68.25" width="2.05" height="1.8" fill="#1e46a1"/><rect x="53" y="68.25" width="2.05" height="1.8" fill="#1d449d"/><rect x="55" y="68.25" width="2.05" height="1.8" fill="#1d439c"/><rect x="57" y="68.25" width="2.05" height="1.8" fill="#1e49a4"/><rect x="59" y="68.25" width="2.05" height="1.8" fill="#1e46a0"/><rect x="61" y="68.25" width="2.05" height="1.8" fill="#1e49a3"/><rect x="63" y="68.25" width="2.05" height="1.8" fill="#1e46a0"/><rect x="65" y="68.25" width="2.05" height="1.8" fill="#1e49a4"/><rect x="67" y="68.25" width="2.05" height="1.8" fill="#1e46a0"/><rect x="69" y="68.25" width="2.05" height="1.8" fill="#1d449d"/><rect x="71" y="68.25" width="2.05" height="1.8" fill="#1d429a"/><rect x="73" y="68.25" width="2.05" height="1.8" fill="#1d459e"/><rect x="75" y="68.25" width="2.05" height="1.8" fill="#1d459e"/><rect x="77" y="68.25" width="2.05" height="1.8" fill="#1e46a0"/><rect x="79" y="68.25" width="2.05" height="1.8" fill="#1d4097"/><rect x="81" y="68.25" width="2.05" height="1.8" fill="#1d439a"/><rect x="83" y="68.25" width="2.05" height="1.8" fill="#1d4097"/><rect x="85" y="68.25" width="2.05" height="1.8" fill="#1d4097"/><rect x="87" y="68.25" width="2.05" height="1.8" fill="#1c3e92"/><rect x="89" y="68.25" width="2.05" height="1.8" fill="#1c3e92"/><rect x="91" y="68.25" width="2.05" height="1.8" fill="#1d3f94"/><rect x="93" y="68.25" width="2.05" height="1.8" fill="#1d4097"/><rect x="95" y="68.25" width="2.05" height="1.8" fill="#1c3b8d"/><rect x="97" y="68.25" width="2.05" height="1.8" fill="#1c3b8d"/><rect x="99" y="68.25" width="2.05" height="1.8" fill="#1c3b8d"/><rect x="101" y="68.25" width="2.05" height="1.8" fill="#1c3a8c"/><rect x="103" y="68.25" width="2.05" height="1.8" fill="#1b3481"/><rect x="105" y="68.25" width="2.05" height="1.8" fill="#1b327d"/><rect x="107" y="68.25" width="2.05" height="1.8" fill="#1b3482"/><rect x="109" y="68.25" width="2.05" height="1.8" fill="#1b3380"/><rect x="111" y="68.25" width="2.05" height="1.8" fill="#1a2e78"/><rect x="113" y="68.25" width="1.05" height="1.8" fill="#1a2b72"/><rect x="21" y="70" width="2.05" height="1.8" fill="#1d3f95"/><rect x="23" y="70" width="2.05" height="1.8" fill="#1c3d90"/><rect x="25" y="70" width="2.05" height="1.8" fill="#1d4096"/><rect x="27" y="70" width="2.05" height="1.8" fill="#1d3f94"/><rect x="29" y="70" width="2.05" height="1.8" fill="#1d4097"/><rect x="31" y="70" width="2.05" height="1.8" fill="#1c3d92"/><rect x="33" y="70" width="2.05" height="1.8" fill="#1d4299"/><rect x="35" y="70" width="2.05" height="1.8" fill="#1d3f95"/><rect x="37" y="70" width="2.05" height="1.8" fill="#1d4198"/><rect x="39" y="70" width="2.05" height="1.8" fill="#1d449e"/><rect x="41" y="70" width="2.05" height="1.8" fill="#1d459f"/><rect x="43" y="70" width="2.05" height="1.8" fill="#1d429a"/><rect x="45" y="70" width="2.05" height="1.8" fill="#1d449c"/><rect x="47" y="70" width="2.05" height="1.8" fill="#1d459f"/><rect x="49" y="70" width="2.05" height="1.8" fill="#1e47a1"/><rect x="51" y="70" width="2.05" height="1.8" fill="#1e47a1"/><rect x="53" y="70" width="2.05" height="1.8" fill="#1e46a0"/><rect x="55" y="70" width="2.05" height="1.8" fill="#1e47a1"/><rect x="57" y="70" width="2.05" height="1.8" fill="#1f4aa5"/><rect x="59" y="70" width="2.05" height="1.8" fill="#1f4ba6"/><rect x="61" y="70" width="2.05" height="1.8" fill="#1e46a0"/><rect x="63" y="70" width="2.05" height="1.8" fill="#1e49a3"/><rect x="65" y="70" width="2.05" height="1.8" fill="#1e4aa4"/><rect x="67" y="70" width="2.05" height="1.8" fill="#1d459e"/><rect x="69" y="70" width="2.05" height="1.8" fill="#1e49a4"/><rect x="71" y="70" width="2.05" height="1.8" fill="#1d449d"/><rect x="73" y="70" width="2.05" height="1.8" fill="#1e46a1"/><rect x="75" y="70" width="2.05" height="1.8" fill="#1d459f"/><rect x="77" y="70" width="2.05" height="1.8" fill="#1d459f"/><rect x="79" y="70" width="2.05" height="1.8" fill="#1d439a"/><rect x="81" y="70" width="2.05" height="1.8" fill="#1d429a"/><rect x="83" y="70" width="2.05" height="1.8" fill="#1d439a"/><rect x="85" y="70" width="2.05" height="1.8" fill="#1d4198"/><rect x="87" y="70" width="2.05" height="1.8" fill="#1d4299"/><rect x="89" y="70" width="2.05" height="1.8" fill="#1d4096"/><rect x="91" y="70" width="2.05" height="1.8" fill="#1d3f94"/><rect x="93" y="70" width="2.05" height="1.8" fill="#1c3c8f"/><rect x="95" y="70" width="2.05" height="1.8" fill="#1d3f94"/><rect x="97" y="70" width="2.05" height="1.8" fill="#1c3c8f"/><rect x="99" y="70" width="2.05" height="1.8" fill="#1c3889"/><rect x="101" y="70" width="2.05" height="1.8" fill="#1c3a8b"/><rect x="103" y="70" width="2.05" height="1.8" fill="#1c3888"/><rect x="105" y="70" width="2.05" height="1.8" fill="#1b3482"/><rect x="107" y="70" width="2.05" height="1.8" fill="#1b317c"/><rect x="109" y="70" width="2.05" height="1.8" fill="#1b317c"/><rect x="111" y="70" width="2.05" height="1.8" fill="#1a2d76"/><rect x="113" y="70" width="1.05" height="1.8" fill="#1a2c74"/><rect x="21" y="71.75" width="2.05" height="1.8" fill="#1c3d92"/><rect x="23" y="71.75" width="2.05" height="1.8" fill="#1c3c8f"/><rect x="25" y="71.75" width="2.05" height="1.8" fill="#1c3e93"/><rect x="27" y="71.75" width="2.05" height="1.8" fill="#1d3f95"/><rect x="29" y="71.75" width="2.05" height="1.8" fill="#1c3e92"/><rect x="31" y="71.75" width="2.05" height="1.8" fill="#1d439a"/><rect x="33" y="71.75" width="2.05" height="1.8" fill="#1d4198"/><rect x="35" y="71.75" width="2.05" height="1.8" fill="#1e46a1"/><rect x="37" y="71.75" width="2.05" height="1.8" fill="#1e49a3"/><rect x="39" y="71.75" width="2.05" height="1.8" fill="#1e49a4"/><rect x="41" y="71.75" width="2.05" height="1.8" fill="#1e48a3"/><rect x="43" y="71.75" width="2.05" height="1.8" fill="#1f4da8"/><rect x="45" y="71.75" width="2.05" height="1.8" fill="#1f4ea9"/><rect x="47" y="71.75" width="2.05" height="1.8" fill="#2153b0"/><rect x="49" y="71.75" width="2.05" height="1.8" fill="#204fab"/><rect x="51" y="71.75" width="2.05" height="1.8" fill="#2154b1"/><rect x="53" y="71.75" width="2.05" height="1.8" fill="#2155b3"/><rect x="55" y="71.75" width="2.05" height="1.8" fill="#2154b1"/><rect x="57" y="71.75" width="2.05" height="1.8" fill="#2154b1"/><rect x="59" y="71.75" width="2.05" height="1.8" fill="#204fac"/><rect x="61" y="71.75" width="2.05" height="1.8" fill="#2153b1"/><rect x="63" y="71.75" width="2.05" height="1.8" fill="#204fab"/><rect x="65" y="71.75" width="2.05" height="1.8" fill="#2051ad"/><rect x="67" y="71.75" width="2.05" height="1.8" fill="#204fab"/><rect x="69" y="71.75" width="2.05" height="1.8" fill="#1e49a4"/><rect x="71" y="71.75" width="2.05" height="1.8" fill="#1f4ba7"/><rect x="73" y="71.75" width="2.05" height="1.8" fill="#1f4ba6"/><rect x="75" y="71.75" width="2.05" height="1.8" fill="#1d449d"/><rect x="77" y="71.75" width="2.05" height="1.8" fill="#1d459e"/><rect x="79" y="71.75" width="2.05" height="1.8" fill="#1e46a0"/><rect x="81" y="71.75" width="2.05" height="1.8" fill="#1d429a"/><rect x="83" y="71.75" width="2.05" height="1.8" fill="#1d459f"/><rect x="85" y="71.75" width="2.05" height="1.8" fill="#1d4198"/><rect x="87" y="71.75" width="2.05" height="1.8" fill="#1d439c"/><rect x="89" y="71.75" width="2.05" height="1.8" fill="#1d3f94"/><rect x="91" y="71.75" width="2.05" height="1.8" fill="#1d4097"/><rect x="93" y="71.75" width="2.05" height="1.8" fill="#1d429a"/><rect x="95" y="71.75" width="2.05" height="1.8" fill="#1c3d91"/><rect x="97" y="71.75" width="2.05" height="1.8" fill="#1c3b8e"/><rect x="99" y="71.75" width="2.05" height="1.8" fill="#1c3b8d"/><rect x="101" y="71.75" width="2.05" height="1.8" fill="#1c3888"/><rect x="103" y="71.75" width="2.05" height="1.8" fill="#1b3582"/><rect x="105" y="71.75" width="2.05" height="1.8" fill="#1b3481"/><rect x="107" y="71.75" width="2.05" height="1.8" fill="#1b327e"/><rect x="109" y="71.75" width="2.05" height="1.8" fill="#1b3482"/><rect x="111" y="71.75" width="2.05" height="1.8" fill="#1b317d"/><rect x="113" y="71.75" width="1.05" height="1.8" fill="#1b317d"/><rect x="21" y="73.5" width="2.05" height="1.8" fill="#1c3d91"/><rect x="23" y="73.5" width="2.05" height="1.8" fill="#1d4198"/><rect x="25" y="73.5" width="2.05" height="1.8" fill="#1d3f94"/><rect x="27" y="73.5" width="2.05" height="1.8" fill="#1d449d"/><rect x="29" y="73.5" width="2.05" height="1.8" fill="#1e48a3"/><rect x="31" y="73.5" width="2.05" height="1.8" fill="#1f4ba6"/><rect x="33" y="73.5" width="2.05" height="1.8" fill="#2052af"/><rect x="35" y="73.5" width="2.05" height="1.8" fill="#2155b2"/><rect x="37" y="73.5" width="2.05" height="1.8" fill="#2259b7"/><rect x="39" y="73.5" width="2.05" height="1.8" fill="#235ebe"/><rect x="41" y="73.5" width="2.05" height="1.8" fill="#235dbc"/><rect x="43" y="73.5" width="2.05" height="1.8" fill="#246cc7"/><rect x="45" y="73.5" width="2.05" height="1.8" fill="#246cc7"/><rect x="47" y="73.5" width="2.05" height="1.8" fill="#256dc8"/><rect x="49" y="73.5" width="2.05" height="1.8" fill="#2576cd"/><rect x="51" y="73.5" width="2.05" height="1.8" fill="#2570ca"/><rect x="53" y="73.5" width="2.05" height="1.8" fill="#267bd0"/><rect x="55" y="73.5" width="2.05" height="1.8" fill="#2575cc"/><rect x="57" y="73.5" width="2.05" height="1.8" fill="#2570ca"/><rect x="59" y="73.5" width="2.05" height="1.8" fill="#2572cb"/><rect x="61" y="73.5" width="2.05" height="1.8" fill="#246ac6"/><rect x="63" y="73.5" width="2.05" height="1.8" fill="#2461c1"/><rect x="65" y="73.5" width="2.05" height="1.8" fill="#2462c1"/><rect x="67" y="73.5" width="2.05" height="1.8" fill="#2259b8"/><rect x="69" y="73.5" width="2.05" height="1.8" fill="#225ab9"/><rect x="71" y="73.5" width="2.05" height="1.8" fill="#2153b0"/><rect x="73" y="73.5" width="2.05" height="1.8" fill="#2052af"/><rect x="75" y="73.5" width="2.05" height="1.8" fill="#2051ad"/><rect x="77" y="73.5" width="2.05" height="1.8" fill="#1f4ba7"/><rect x="79" y="73.5" width="2.05" height="1.8" fill="#1e49a4"/><rect x="81" y="73.5" width="2.05" height="1.8" fill="#1d459f"/><rect x="83" y="73.5" width="2.05" height="1.8" fill="#1d4299"/><rect x="85" y="73.5" width="2.05" height="1.8" fill="#1d4198"/><rect x="87" y="73.5" width="2.05" height="1.8" fill="#1d4197"/><rect x="89" y="73.5" width="2.05" height="1.8" fill="#1d439b"/><rect x="91" y="73.5" width="2.05" height="1.8" fill="#1d4198"/><rect x="93" y="73.5" width="2.05" height="1.8" fill="#1d4197"/><rect x="95" y="73.5" width="2.05" height="1.8" fill="#1d4299"/><rect x="97" y="73.5" width="2.05" height="1.8" fill="#1c3c8f"/><rect x="99" y="73.5" width="2.05" height="1.8" fill="#1c3a8c"/><rect x="101" y="73.5" width="2.05" height="1.8" fill="#1c3b8d"/><rect x="103" y="73.5" width="2.05" height="1.8" fill="#1b3584"/><rect x="105" y="73.5" width="2.05" height="1.8" fill="#1b3381"/><rect x="107" y="73.5" width="2.05" height="1.8" fill="#1b3481"/><rect x="109" y="73.5" width="2.05" height="1.8" fill="#1b317c"/><rect x="111" y="73.5" width="2.05" height="1.8" fill="#1a307b"/><rect x="113" y="73.5" width="1.05" height="1.8" fill="#1a2e78"/><rect x="21" y="75.25" width="2.05" height="1.8" fill="#1d4197"/><rect x="23" y="75.25" width="2.05" height="1.8" fill="#1d439b"/><rect x="25" y="75.25" width="2.05" height="1.8" fill="#1d459f"/><rect x="27" y="75.25" width="2.05" height="1.8" fill="#2051ad"/><rect x="29" y="75.25" width="2.05" height="1.8" fill="#225ab8"/><rect x="31" y="75.25" width="2.05" height="1.8" fill="#2461c0"/><rect x="33" y="75.25" width="2.05" height="1.8" fill="#2579cf"/><rect x="35" y="75.25" width="2.05" height="1.8" fill="#267bd0"/><rect x="37" y="75.25" width="2.05" height="1.8" fill="#2683d5"/><rect x="39" y="75.25" width="2.05" height="1.8" fill="#2789d9"/><rect x="41" y="75.25" width="2.05" height="1.8" fill="#2896e1"/><rect x="43" y="75.25" width="2.05" height="1.8" fill="#2d9de1"/><rect x="45" y="75.25" width="2.05" height="1.8" fill="#2f9fe2"/><rect x="47" y="75.25" width="2.05" height="1.8" fill="#2d9de1"/><rect x="49" y="75.25" width="2.05" height="1.8" fill="#2d9de1"/><rect x="51" y="75.25" width="2.05" height="1.8" fill="#2c9ce1"/><rect x="53" y="75.25" width="2.05" height="1.8" fill="#33a4e2"/><rect x="55" y="75.25" width="2.05" height="1.8" fill="#32a4e2"/><rect x="57" y="75.25" width="2.05" height="1.8" fill="#30a1e2"/><rect x="59" y="75.25" width="2.05" height="1.8" fill="#32a3e2"/><rect x="61" y="75.25" width="2.05" height="1.8" fill="#2e9ee2"/><rect x="63" y="75.25" width="2.05" height="1.8" fill="#30a0e2"/><rect x="65" y="75.25" width="2.05" height="1.8" fill="#2a99e1"/><rect x="67" y="75.25" width="2.05" height="1.8" fill="#278cda"/><rect x="69" y="75.25" width="2.05" height="1.8" fill="#278bda"/><rect x="71" y="75.25" width="2.05" height="1.8" fill="#2575cd"/><rect x="73" y="75.25" width="2.05" height="1.8" fill="#2570ca"/><rect x="75" y="75.25" width="2.05" height="1.8" fill="#2462c1"/><rect x="77" y="75.25" width="2.05" height="1.8" fill="#2259b8"/><rect x="79" y="75.25" width="2.05" height="1.8" fill="#2052af"/><rect x="81" y="75.25" width="2.05" height="1.8" fill="#2051ae"/><rect x="83" y="75.25" width="2.05" height="1.8" fill="#1e48a3"/><rect x="85" y="75.25" width="2.05" height="1.8" fill="#1e48a3"/><rect x="87" y="75.25" width="2.05" height="1.8" fill="#1e48a3"/><rect x="89" y="75.25" width="2.05" height="1.8" fill="#1d4299"/><rect x="91" y="75.25" width="2.05" height="1.8" fill="#1d4197"/><rect x="93" y="75.25" width="2.05" height="1.8" fill="#1d429a"/><rect x="95" y="75.25" width="2.05" height="1.8" fill="#1d4197"/><rect x="97" y="75.25" width="2.05" height="1.8" fill="#1d3f95"/><rect x="99" y="75.25" width="2.05" height="1.8" fill="#1c3e93"/><rect x="101" y="75.25" width="2.05" height="1.8" fill="#1c398a"/><rect x="103" y="75.25" width="2.05" height="1.8" fill="#1c3888"/><rect x="105" y="75.25" width="2.05" height="1.8" fill="#1b3685"/><rect x="107" y="75.25" width="2.05" height="1.8" fill="#1b3380"/><rect x="109" y="75.25" width="2.05" height="1.8" fill="#1b3685"/><rect x="111" y="75.25" width="2.05" height="1.8" fill="#1b3481"/><rect x="113" y="75.25" width="1.05" height="1.8" fill="#1b327e"/><rect x="21" y="77" width="2.05" height="1.8" fill="#1d4096"/><rect x="23" y="77" width="2.05" height="1.8" fill="#1e49a4"/><rect x="25" y="77" width="2.05" height="1.8" fill="#2153b0"/><rect x="27" y="77" width="2.05" height="1.8" fill="#2461c0"/><rect x="29" y="77" width="2.05" height="1.8" fill="#2680d3"/><rect x="31" y="77" width="2.05" height="1.8" fill="#278edc"/><rect x="33" y="77" width="2.05" height="1.8" fill="#2793df"/><rect x="35" y="77" width="2.05" height="1.8" fill="#2795e0"/><rect x="37" y="77" width="2.05" height="1.8" fill="#2997e1"/><rect x="39" y="77" width="2.05" height="1.8" fill="#2795e0"/><rect x="41" y="77" width="2.05" height="1.8" fill="#2997e1"/><rect x="43" y="77" width="2.05" height="1.8" fill="#2c9ce1"/><rect x="45" y="77" width="2.05" height="1.8" fill="#2b9ae1"/><rect x="47" y="77" width="2.05" height="1.8" fill="#30a0e2"/><rect x="49" y="77" width="2.05" height="1.8" fill="#30a0e2"/><rect x="51" y="77" width="2.05" height="1.8" fill="#2896e1"/><rect x="53" y="77" width="2.05" height="1.8" fill="#2c9be1"/><rect x="55" y="77" width="2.05" height="1.8" fill="#2c9ce1"/><rect x="57" y="77" width="2.05" height="1.8" fill="#33a5e2"/><rect x="59" y="77" width="2.05" height="1.8" fill="#31a2e2"/><rect x="61" y="77" width="2.05" height="1.8" fill="#30a1e2"/><rect x="63" y="77" width="2.05" height="1.8" fill="#36a8e3"/><rect x="65" y="77" width="2.05" height="1.8" fill="#3aaee4"/><rect x="67" y="77" width="2.05" height="1.8" fill="#34a6e3"/><rect x="69" y="77" width="2.05" height="1.8" fill="#39ade3"/><rect x="71" y="77" width="2.05" height="1.8" fill="#2fa0e2"/><rect x="73" y="77" width="2.05" height="1.8" fill="#2e9ee2"/><rect x="75" y="77" width="2.05" height="1.8" fill="#2795e0"/><rect x="77" y="77" width="2.05" height="1.8" fill="#2790dd"/><rect x="79" y="77" width="2.05" height="1.8" fill="#2684d6"/><rect x="81" y="77" width="2.05" height="1.8" fill="#2571ca"/><rect x="83" y="77" width="2.05" height="1.8" fill="#235dbd"/><rect x="85" y="77" width="2.05" height="1.8" fill="#2259b7"/><rect x="87" y="77" width="2.05" height="1.8" fill="#204fab"/><rect x="89" y="77" width="2.05" height="1.8" fill="#1e49a3"/><rect x="91" y="77" width="2.05" height="1.8" fill="#1e49a4"/><rect x="93" y="77" width="2.05" height="1.8" fill="#1d459e"/><rect x="95" y="77" width="2.05" height="1.8" fill="#1d439b"/><rect x="97" y="77" width="2.05" height="1.8" fill="#1d4197"/><rect x="99" y="77" width="2.05" height="1.8" fill="#1d4097"/><rect x="101" y="77" width="2.05" height="1.8" fill="#1c3c8e"/><rect x="103" y="77" width="2.05" height="1.8" fill="#1c3c8f"/><rect x="105" y="77" width="2.05" height="1.8" fill="#1c398a"/><rect x="107" y="77" width="2.05" height="1.8" fill="#1c3889"/><rect x="109" y="77" width="2.05" height="1.8" fill="#1b3482"/><rect x="111" y="77" width="2.05" height="1.8" fill="#1b3482"/><rect x="113" y="77" width="1.05" height="1.8" fill="#1b327e"/><rect x="21" y="78.75" width="2.05" height="1.8" fill="#1d449e"/><rect x="23" y="78.75" width="2.05" height="1.8" fill="#1e4aa5"/><rect x="25" y="78.75" width="2.05" height="1.8" fill="#2258b6"/><rect x="27" y="78.75" width="2.05" height="1.8" fill="#2464c2"/><rect x="29" y="78.75" width="2.05" height="1.8" fill="#2681d4"/><rect x="31" y="78.75" width="2.05" height="1.8" fill="#267cd1"/><rect x="33" y="78.75" width="2.05" height="1.8" fill="#2685d7"/><rect x="35" y="78.75" width="2.05" height="1.8" fill="#2896e1"/><rect x="37" y="78.75" width="2.05" height="1.8" fill="#36a9e3"/><rect x="39" y="78.75" width="2.05" height="1.8" fill="#4fc0d8"/><rect x="41" y="78.75" width="2.05" height="1.8" fill="#48bee2"/><rect x="43" y="78.75" width="2.05" height="1.8" fill="#4abfe0"/><rect x="45" y="78.75" width="2.05" height="1.8" fill="#65c7b9"/><rect x="47" y="78.75" width="2.05" height="1.8" fill="#80ce97"/><rect x="49" y="78.75" width="2.05" height="1.8" fill="#80ce96"/><rect x="51" y="78.75" width="2.05" height="1.8" fill="#6cc9b0"/><rect x="53" y="78.75" width="2.05" height="1.8" fill="#6dc9ae"/><rect x="55" y="78.75" width="2.05" height="1.8" fill="#61c6bf"/><rect x="57" y="78.75" width="2.05" height="1.8" fill="#8acf8c"/><rect x="59" y="78.75" width="2.05" height="1.8" fill="#5cc4c5"/><rect x="61" y="78.75" width="2.05" height="1.8" fill="#4ec0da"/><rect x="63" y="78.75" width="2.05" height="1.8" fill="#43bae5"/><rect x="65" y="78.75" width="2.05" height="1.8" fill="#3cb0e4"/><rect x="67" y="78.75" width="2.05" height="1.8" fill="#2795e0"/><rect x="69" y="78.75" width="2.05" height="1.8" fill="#2b9be1"/><rect x="71" y="78.75" width="2.05" height="1.8" fill="#2d9de1"/><rect x="73" y="78.75" width="2.05" height="1.8" fill="#32a4e2"/><rect x="75" y="78.75" width="2.05" height="1.8" fill="#2e9fe2"/><rect x="77" y="78.75" width="2.05" height="1.8" fill="#31a2e2"/><rect x="79" y="78.75" width="2.05" height="1.8" fill="#2f9fe2"/><rect x="81" y="78.75" width="2.05" height="1.8" fill="#2a98e1"/><rect x="83" y="78.75" width="2.05" height="1.8" fill="#2998e1"/><rect x="85" y="78.75" width="2.05" height="1.8" fill="#2687d8"/><rect x="87" y="78.75" width="2.05" height="1.8" fill="#2572cb"/><rect x="89" y="78.75" width="2.05" height="1.8" fill="#2460c0"/><rect x="91" y="78.75" width="2.05" height="1.8" fill="#2155b3"/><rect x="93" y="78.75" width="2.05" height="1.8" fill="#1f4ca7"/><rect x="95" y="78.75" width="2.05" height="1.8" fill="#1d459e"/><rect x="97" y="78.75" width="2.05" height="1.8" fill="#1d4096"/><rect x="99" y="78.75" width="2.05" height="1.8" fill="#1d4097"/><rect x="101" y="78.75" width="2.05" height="1.8" fill="#1c3b8e"/><rect x="103" y="78.75" width="2.05" height="1.8" fill="#1c3a8b"/><rect x="105" y="78.75" width="2.05" height="1.8" fill="#1c3989"/><rect x="107" y="78.75" width="2.05" height="1.8" fill="#1b3582"/><rect x="109" y="78.75" width="2.05" height="1.8" fill="#1b3482"/><rect x="111" y="78.75" width="2.05" height="1.8" fill="#1b337f"/><rect x="113" y="78.75" width="1.05" height="1.8" fill="#1b3481"/><rect x="21" y="80.5" width="2.05" height="1.8" fill="#1f4ba6"/><rect x="23" y="80.5" width="2.05" height="1.8" fill="#204fab"/><rect x="25" y="80.5" width="2.05" height="1.8" fill="#225bba"/><rect x="27" y="80.5" width="2.05" height="1.8" fill="#2573cc"/><rect x="29" y="80.5" width="2.05" height="1.8" fill="#2791de"/><rect x="31" y="80.5" width="2.05" height="1.8" fill="#2fa0e2"/><rect x="33" y="80.5" width="2.05" height="1.8" fill="#4bbfdd"/><rect x="35" y="80.5" width="2.05" height="1.8" fill="#67c8b7"/><rect x="37" y="80.5" width="2.05" height="1.8" fill="#70caab"/><rect x="39" y="80.5" width="2.05" height="1.8" fill="#bfd856"/><rect x="41" y="80.5" width="2.05" height="1.8" fill="#a8d46c"/><rect x="43" y="80.5" width="2.05" height="1.8" fill="#aed565"/><rect x="45" y="80.5" width="2.05" height="1.8" fill="#d0db4c"/><rect x="47" y="80.5" width="2.05" height="1.8" fill="#dcde44"/><rect x="49" y="80.5" width="2.05" height="1.8" fill="#e5df3f"/><rect x="51" y="80.5" width="2.05" height="1.8" fill="#bed856"/><rect x="53" y="80.5" width="2.05" height="1.8" fill="#cada4f"/><rect x="55" y="80.5" width="2.05" height="1.8" fill="#bed856"/><rect x="57" y="80.5" width="2.05" height="1.8" fill="#e6e03e"/><rect x="59" y="80.5" width="2.05" height="1.8" fill="#b7d65b"/><rect x="61" y="80.5" width="2.05" height="1.8" fill="#a0d374"/><rect x="63" y="80.5" width="2.05" height="1.8" fill="#92d183"/><rect x="65" y="80.5" width="2.05" height="1.8" fill="#70caaa"/><rect x="67" y="80.5" width="2.05" height="1.8" fill="#5bc4c7"/><rect x="69" y="80.5" width="2.05" height="1.8" fill="#5bc4c7"/><rect x="71" y="80.5" width="2.05" height="1.8" fill="#45bde5"/><rect x="73" y="80.5" width="2.05" height="1.8" fill="#2d9de1"/><rect x="75" y="80.5" width="2.05" height="1.8" fill="#31a2e2"/><rect x="77" y="80.5" width="2.05" height="1.8" fill="#2896e1"/><rect x="79" y="80.5" width="2.05" height="1.8" fill="#2793df"/><rect x="81" y="80.5" width="2.05" height="1.8" fill="#2896e1"/><rect x="83" y="80.5" width="2.05" height="1.8" fill="#33a5e2"/><rect x="85" y="80.5" width="2.05" height="1.8" fill="#2e9fe2"/><rect x="87" y="80.5" width="2.05" height="1.8" fill="#2a99e1"/><rect x="89" y="80.5" width="2.05" height="1.8" fill="#2793df"/><rect x="91" y="80.5" width="2.05" height="1.8" fill="#267dd2"/><rect x="93" y="80.5" width="2.05" height="1.8" fill="#2461c0"/><rect x="95" y="80.5" width="2.05" height="1.8" fill="#2258b6"/><rect x="97" y="80.5" width="2.05" height="1.8" fill="#1e49a4"/><rect x="99" y="80.5" width="2.05" height="1.8" fill="#1d459f"/><rect x="101" y="80.5" width="2.05" height="1.8" fill="#1d4096"/><rect x="103" y="80.5" width="2.05" height="1.8" fill="#1c3e92"/><rect x="105" y="80.5" width="2.05" height="1.8" fill="#1c3b8d"/><rect x="107" y="80.5" width="2.05" height="1.8" fill="#1b3787"/><rect x="109" y="80.5" width="2.05" height="1.8" fill="#1b3685"/><rect x="111" y="80.5" width="2.05" height="1.8" fill="#1b3482"/><rect x="113" y="80.5" width="1.05" height="1.8" fill="#1b3684"/><rect x="21" y="82.25" width="2.05" height="1.8" fill="#2051ae"/><rect x="23" y="82.25" width="2.05" height="1.8" fill="#235cbb"/><rect x="25" y="82.25" width="2.05" height="1.8" fill="#2463c2"/><rect x="27" y="82.25" width="2.05" height="1.8" fill="#2896e1"/><rect x="29" y="82.25" width="2.05" height="1.8" fill="#3db2e4"/><rect x="31" y="82.25" width="2.05" height="1.8" fill="#57c3ce"/><rect x="33" y="82.25" width="2.05" height="1.8" fill="#95d180"/><rect x="35" y="82.25" width="2.05" height="1.8" fill="#add566"/><rect x="37" y="82.25" width="2.05" height="1.8" fill="#bbd758"/><rect x="39" y="82.25" width="2.05" height="1.8" fill="#edd93a"/><rect x="41" y="82.25" width="2.05" height="1.8" fill="#e2df40"/><rect x="43" y="82.25" width="2.05" height="1.8" fill="#dfde43"/><rect x="45" y="82.25" width="2.05" height="1.8" fill="#f2ca36"/><rect x="47" y="82.25" width="2.05" height="1.8" fill="#f6bc32"/><rect x="49" y="82.25" width="2.05" height="1.8" fill="#f5bf33"/><rect x="51" y="82.25" width="2.05" height="1.8" fill="#ecdc3a"/><rect x="53" y="82.25" width="2.05" height="1.8" fill="#ecdc3a"/><rect x="55" y="82.25" width="2.05" height="1.8" fill="#ebdf3b"/><rect x="57" y="82.25" width="2.05" height="1.8" fill="#f6aa2f"/><rect x="59" y="82.25" width="2.05" height="1.8" fill="#ecdc3a"/><rect x="61" y="82.25" width="2.05" height="1.8" fill="#d5dc48"/><rect x="63" y="82.25" width="2.05" height="1.8" fill="#c0d855"/><rect x="65" y="82.25" width="2.05" height="1.8" fill="#b8d65a"/><rect x="67" y="82.25" width="2.05" height="1.8" fill="#99d27c"/><rect x="69" y="82.25" width="2.05" height="1.8" fill="#9ed276"/><rect x="71" y="82.25" width="2.05" height="1.8" fill="#73cba6"/><rect x="73" y="82.25" width="2.05" height="1.8" fill="#54c2d1"/><rect x="75" y="82.25" width="2.05" height="1.8" fill="#66c7b7"/><rect x="77" y="82.25" width="2.05" height="1.8" fill="#54c2d1"/><rect x="79" y="82.25" width="2.05" height="1.8" fill="#3cb1e4"/><rect x="81" y="82.25" width="2.05" height="1.8" fill="#37aae3"/><rect x="83" y="82.25" width="2.05" height="1.8" fill="#2998e1"/><rect x="85" y="82.25" width="2.05" height="1.8" fill="#2789d9"/><rect x="87" y="82.25" width="2.05" height="1.8" fill="#278ddb"/><rect x="89" y="82.25" width="2.05" height="1.8" fill="#2896e1"/><rect x="91" y="82.25" width="2.05" height="1.8" fill="#2a99e1"/><rect x="93" y="82.25" width="2.05" height="1.8" fill="#2791de"/><rect x="95" y="82.25" width="2.05" height="1.8" fill="#267ed2"/><rect x="97" y="82.25" width="2.05" height="1.8" fill="#235ebd"/><rect x="99" y="82.25" width="2.05" height="1.8" fill="#2050ac"/><rect x="101" y="82.25" width="2.05" height="1.8" fill="#1d449d"/><rect x="103" y="82.25" width="2.05" height="1.8" fill="#1d4299"/><rect x="105" y="82.25" width="2.05" height="1.8" fill="#1c3d90"/><rect x="107" y="82.25" width="2.05" height="1.8" fill="#1b3786"/><rect x="109" y="82.25" width="2.05" height="1.8" fill="#1c3a8c"/><rect x="111" y="82.25" width="2.05" height="1.8" fill="#1b3381"/><rect x="113" y="82.25" width="1.05" height="1.8" fill="#1b3481"/><rect x="21" y="84" width="2.05" height="1.8" fill="#235ebd"/><rect x="23" y="84" width="2.05" height="1.8" fill="#2467c4"/><rect x="25" y="84" width="2.05" height="1.8" fill="#267fd3"/><rect x="27" y="84" width="2.05" height="1.8" fill="#3cb1e4"/><rect x="29" y="84" width="2.05" height="1.8" fill="#56c2cf"/><rect x="31" y="84" width="2.05" height="1.8" fill="#71cba8"/><rect x="33" y="84" width="2.05" height="1.8" fill="#bad759"/><rect x="35" y="84" width="2.05" height="1.8" fill="#cddb4d"/><rect x="37" y="84" width="2.05" height="1.8" fill="#d1db4b"/><rect x="39" y="84" width="2.05" height="1.8" fill="#f5c134"/><rect x="41" y="84" width="2.05" height="1.8" fill="#efd138"/><rect x="43" y="84" width="2.05" height="1.8" fill="#efd338"/><rect x="45" y="84" width="2.05" height="1.8" fill="#f7b431"/><rect x="47" y="84" width="2.05" height="1.8" fill="#f6a42e"/><rect x="49" y="84" width="2.05" height="1.8" fill="#f6a62f"/><rect x="51" y="84" width="2.05" height="1.8" fill="#f2c835"/><rect x="53" y="84" width="2.05" height="1.8" fill="#f1cb36"/><rect x="55" y="84" width="2.05" height="1.8" fill="#f3c735"/><rect x="57" y="84" width="2.05" height="1.8" fill="#f4932c"/><rect x="59" y="84" width="2.05" height="1.8" fill="#f3c635"/><rect x="61" y="84" width="2.05" height="1.8" fill="#ecdb3a"/><rect x="63" y="84" width="2.05" height="1.8" fill="#dede43"/><rect x="65" y="84" width="2.05" height="1.8" fill="#d6dc48"/><rect x="67" y="84" width="2.05" height="1.8" fill="#bcd758"/><rect x="69" y="84" width="2.05" height="1.8" fill="#c2d854"/><rect x="71" y="84" width="2.05" height="1.8" fill="#9fd375"/><rect x="73" y="84" width="2.05" height="1.8" fill="#7bcd9c"/><rect x="75" y="84" width="2.05" height="1.8" fill="#99d27c"/><rect x="77" y="84" width="2.05" height="1.8" fill="#94d181"/><rect x="79" y="84" width="2.05" height="1.8" fill="#70caaa"/><rect x="81" y="84" width="2.05" height="1.8" fill="#70caaa"/><rect x="83" y="84" width="2.05" height="1.8" fill="#50c1d7"/><rect x="85" y="84" width="2.05" height="1.8" fill="#31a2e2"/><rect x="87" y="84" width="2.05" height="1.8" fill="#2a99e1"/><rect x="89" y="84" width="2.05" height="1.8" fill="#2684d6"/><rect x="91" y="84" width="2.05" height="1.8" fill="#2681d4"/><rect x="93" y="84" width="2.05" height="1.8" fill="#2687d8"/><rect x="95" y="84" width="2.05" height="1.8" fill="#278edc"/><rect x="97" y="84" width="2.05" height="1.8" fill="#2684d6"/><rect x="99" y="84" width="2.05" height="1.8" fill="#2468c5"/><rect x="101" y="84" width="2.05" height="1.8" fill="#2154b1"/><rect x="103" y="84" width="2.05" height="1.8" fill="#1d459e"/><rect x="105" y="84" width="2.05" height="1.8" fill="#1c3e93"/><rect x="107" y="84" width="2.05" height="1.8" fill="#1c3b8d"/><rect x="109" y="84" width="2.05" height="1.8" fill="#1c398a"/><rect x="111" y="84" width="2.05" height="1.8" fill="#1b3685"/><rect x="113" y="84" width="1.05" height="1.8" fill="#1b3685"/><rect x="21" y="85.75" width="2.05" height="1.8" fill="#2464c2"/><rect x="23" y="85.75" width="2.05" height="1.8" fill="#2468c5"/><rect x="25" y="85.75" width="2.05" height="1.8" fill="#2789d9"/><rect x="27" y="85.75" width="2.05" height="1.8" fill="#4cbfdd"/><rect x="29" y="85.75" width="2.05" height="1.8" fill="#6ac8b3"/><rect x="31" y="85.75" width="2.05" height="1.8" fill="#81ce95"/><rect x="33" y="85.75" width="2.05" height="1.8" fill="#d9dd46"/><rect x="35" y="85.75" width="2.05" height="1.8" fill="#dcde44"/><rect x="37" y="85.75" width="2.05" height="1.8" fill="#e2df40"/><rect x="39" y="85.75" width="2.05" height="1.8" fill="#f7b030"/><rect x="41" y="85.75" width="2.05" height="1.8" fill="#f5c134"/><rect x="43" y="85.75" width="2.05" height="1.8" fill="#f3c635"/><rect x="45" y="85.75" width="2.05" height="1.8" fill="#f6a82f"/><rect x="47" y="85.75" width="2.05" height="1.8" fill="#f59b2d"/><rect x="49" y="85.75" width="2.05" height="1.8" fill="#f4982c"/><rect x="51" y="85.75" width="2.05" height="1.8" fill="#f6bd33"/><rect x="53" y="85.75" width="2.05" height="1.8" fill="#f7ba32"/><rect x="55" y="85.75" width="2.05" height="1.8" fill="#f6be33"/><rect x="57" y="85.75" width="2.05" height="1.8" fill="#f27f29"/><rect x="59" y="85.75" width="2.05" height="1.8" fill="#f7ba32"/><rect x="61" y="85.75" width="2.05" height="1.8" fill="#eed539"/><rect x="63" y="85.75" width="2.05" height="1.8" fill="#ebe03b"/><rect x="65" y="85.75" width="2.05" height="1.8" fill="#ebe03b"/><rect x="67" y="85.75" width="2.05" height="1.8" fill="#c2d854"/><rect x="69" y="85.75" width="2.05" height="1.8" fill="#d8dd47"/><rect x="71" y="85.75" width="2.05" height="1.8" fill="#b9d759"/><rect x="73" y="85.75" width="2.05" height="1.8" fill="#93d182"/><rect x="75" y="85.75" width="2.05" height="1.8" fill="#a9d46b"/><rect x="77" y="85.75" width="2.05" height="1.8" fill="#bcd757"/><rect x="79" y="85.75" width="2.05" height="1.8" fill="#8fd086"/><rect x="81" y="85.75" width="2.05" height="1.8" fill="#90d085"/><rect x="83" y="85.75" width="2.05" height="1.8" fill="#74cba5"/><rect x="85" y="85.75" width="2.05" height="1.8" fill="#47bee3"/><rect x="87" y="85.75" width="2.05" height="1.8" fill="#43bae5"/><rect x="89" y="85.75" width="2.05" height="1.8" fill="#3bafe4"/><rect x="91" y="85.75" width="2.05" height="1.8" fill="#278bda"/><rect x="93" y="85.75" width="2.05" height="1.8" fill="#2682d4"/><rect x="95" y="85.75" width="2.05" height="1.8" fill="#246ac6"/><rect x="97" y="85.75" width="2.05" height="1.8" fill="#256fc9"/><rect x="99" y="85.75" width="2.05" height="1.8" fill="#2468c5"/><rect x="101" y="85.75" width="2.05" height="1.8" fill="#235dbd"/><rect x="103" y="85.75" width="2.05" height="1.8" fill="#2052af"/><rect x="105" y="85.75" width="2.05" height="1.8" fill="#1d459e"/><rect x="107" y="85.75" width="2.05" height="1.8" fill="#1c3c90"/><rect x="109" y="85.75" width="2.05" height="1.8" fill="#1c3c8f"/><rect x="111" y="85.75" width="2.05" height="1.8" fill="#1b3787"/><rect x="113" y="85.75" width="1.05" height="1.8" fill="#1b3583"/><rect x="21" y="87.5" width="2.05" height="1.8" fill="#235fbf"/><rect x="23" y="87.5" width="2.05" height="1.8" fill="#2575cc"/><rect x="25" y="87.5" width="2.05" height="1.8" fill="#2790dd"/><rect x="27" y="87.5" width="2.05" height="1.8" fill="#52c1d4"/><rect x="29" y="87.5" width="2.05" height="1.8" fill="#74cba5"/><rect x="31" y="87.5" width="2.05" height="1.8" fill="#8dd088"/><rect x="33" y="87.5" width="2.05" height="1.8" fill="#d7dd47"/><rect x="35" y="87.5" width="2.05" height="1.8" fill="#edda3a"/><rect x="37" y="87.5" width="2.05" height="1.8" fill="#e8e03d"/><rect x="39" y="87.5" width="2.05" height="1.8" fill="#f59f2e"/><rect x="41" y="87.5" width="2.05" height="1.8" fill="#f7ba32"/><rect x="43" y="87.5" width="2.05" height="1.8" fill="#f5c134"/><rect x="45" y="87.5" width="2.05" height="1.8" fill="#f5a02e"/><rect x="47" y="87.5" width="2.05" height="1.8" fill="#f4902b"/><rect x="49" y="87.5" width="2.05" height="1.8" fill="#f4902b"/><rect x="51" y="87.5" width="2.05" height="1.8" fill="#f6bc32"/><rect x="53" y="87.5" width="2.05" height="1.8" fill="#f7b130"/><rect x="55" y="87.5" width="2.05" height="1.8" fill="#f7ba32"/><rect x="57" y="87.5" width="2.05" height="1.8" fill="#f07227"/><rect x="59" y="87.5" width="2.05" height="1.8" fill="#f7bb32"/><rect x="61" y="87.5" width="2.05" height="1.8" fill="#f0d138"/><rect x="63" y="87.5" width="2.05" height="1.8" fill="#ecdc3a"/><rect x="65" y="87.5" width="2.05" height="1.8" fill="#ebe03b"/><rect x="67" y="87.5" width="2.05" height="1.8" fill="#c9da4f"/><rect x="69" y="87.5" width="2.05" height="1.8" fill="#d6dc48"/><rect x="71" y="87.5" width="2.05" height="1.8" fill="#c7d951"/><rect x="73" y="87.5" width="2.05" height="1.8" fill="#95d180"/><rect x="75" y="87.5" width="2.05" height="1.8" fill="#bad759"/><rect x="77" y="87.5" width="2.05" height="1.8" fill="#c0d855"/><rect x="79" y="87.5" width="2.05" height="1.8" fill="#a6d46e"/><rect x="81" y="87.5" width="2.05" height="1.8" fill="#b1d561"/><rect x="83" y="87.5" width="2.05" height="1.8" fill="#97d17e"/><rect x="85" y="87.5" width="2.05" height="1.8" fill="#62c6be"/><rect x="87" y="87.5" width="2.05" height="1.8" fill="#64c7ba"/><rect x="89" y="87.5" width="2.05" height="1.8" fill="#5fc5c2"/><rect x="91" y="87.5" width="2.05" height="1.8" fill="#38ace3"/><rect x="93" y="87.5" width="2.05" height="1.8" fill="#2b9be1"/><rect x="95" y="87.5" width="2.05" height="1.8" fill="#278bda"/><rect x="97" y="87.5" width="2.05" height="1.8" fill="#2469c5"/><rect x="99" y="87.5" width="2.05" height="1.8" fill="#2464c2"/><rect x="101" y="87.5" width="2.05" height="1.8" fill="#2155b2"/><rect x="103" y="87.5" width="2.05" height="1.8" fill="#2052af"/><rect x="105" y="87.5" width="2.05" height="1.8" fill="#1e49a4"/><rect x="107" y="87.5" width="2.05" height="1.8" fill="#1d3f94"/><rect x="109" y="87.5" width="2.05" height="1.8" fill="#1c3a8b"/><rect x="111" y="87.5" width="2.05" height="1.8" fill="#1c3c8f"/><rect x="113" y="87.5" width="1.05" height="1.8" fill="#1c3889"/><rect x="21" y="89.25" width="2.05" height="1.8" fill="#2462c1"/><rect x="23" y="89.25" width="2.05" height="1.8" fill="#256ec9"/><rect x="25" y="89.25" width="2.05" height="1.8" fill="#278ada"/><rect x="27" y="89.25" width="2.05" height="1.8" fill="#51c1d6"/><rect x="29" y="89.25" width="2.05" height="1.8" fill="#7fce98"/><rect x="31" y="89.25" width="2.05" height="1.8" fill="#8fd086"/><rect x="33" y="89.25" width="2.05" height="1.8" fill="#dcde44"/><rect x="35" y="89.25" width="2.05" height="1.8" fill="#eed639"/><rect x="37" y="89.25" width="2.05" height="1.8" fill="#edd93a"/><rect x="39" y="89.25" width="2.05" height="1.8" fill="#f59f2e"/><rect x="41" y="89.25" width="2.05" height="1.8" fill="#f7b331"/><rect x="43" y="89.25" width="2.05" height="1.8" fill="#f5bf33"/><rect x="45" y="89.25" width="2.05" height="1.8" fill="#f4952c"/><rect x="47" y="89.25" width="2.05" height="1.8" fill="#f38429"/><rect x="49" y="89.25" width="2.05" height="1.8" fill="#f38429"/><rect x="51" y="89.25" width="2.05" height="1.8" fill="#f7ae30"/><rect x="53" y="89.25" width="2.05" height="1.8" fill="#f6ab2f"/><rect x="55" y="89.25" width="2.05" height="1.8" fill="#f7b731"/><rect x="57" y="89.25" width="2.05" height="1.8" fill="#ee6d27"/><rect x="59" y="89.25" width="2.05" height="1.8" fill="#f7b230"/><rect x="61" y="89.25" width="2.05" height="1.8" fill="#f2c936"/><rect x="63" y="89.25" width="2.05" height="1.8" fill="#eed639"/><rect x="65" y="89.25" width="2.05" height="1.8" fill="#eed739"/><rect x="67" y="89.25" width="2.05" height="1.8" fill="#d4dc49"/><rect x="69" y="89.25" width="2.05" height="1.8" fill="#e0de42"/><rect x="71" y="89.25" width="2.05" height="1.8" fill="#c5d952"/><rect x="73" y="89.25" width="2.05" height="1.8" fill="#99d27c"/><rect x="75" y="89.25" width="2.05" height="1.8" fill="#c4d953"/><rect x="77" y="89.25" width="2.05" height="1.8" fill="#c4d953"/><rect x="79" y="89.25" width="2.05" height="1.8" fill="#b0d563"/><rect x="81" y="89.25" width="2.05" height="1.8" fill="#b9d759"/><rect x="83" y="89.25" width="2.05" height="1.8" fill="#a2d371"/><rect x="85" y="89.25" width="2.05" height="1.8" fill="#6bc9b1"/><rect x="87" y="89.25" width="2.05" height="1.8" fill="#76cca1"/><rect x="89" y="89.25" width="2.05" height="1.8" fill="#71caa9"/><rect x="91" y="89.25" width="2.05" height="1.8" fill="#3cb1e4"/><rect x="93" y="89.25" width="2.05" height="1.8" fill="#41b8e5"/><rect x="95" y="89.25" width="2.05" height="1.8" fill="#2d9de1"/><rect x="97" y="89.25" width="2.05" height="1.8" fill="#257ad0"/><rect x="99" y="89.25" width="2.05" height="1.8" fill="#2680d3"/><rect x="101" y="89.25" width="2.05" height="1.8" fill="#2571ca"/><rect x="103" y="89.25" width="2.05" height="1.8" fill="#2051ae"/><rect x="105" y="89.25" width="2.05" height="1.8" fill="#1f4aa5"/><rect x="107" y="89.25" width="2.05" height="1.8" fill="#1d459f"/><rect x="109" y="89.25" width="2.05" height="1.8" fill="#1c3c8f"/><rect x="111" y="89.25" width="2.05" height="1.8" fill="#1c3c8f"/><rect x="113" y="89.25" width="1.05" height="1.8" fill="#1c398b"/><rect x="21" y="91" width="2.05" height="1.8" fill="#2461c0"/><rect x="23" y="91" width="2.05" height="1.8" fill="#2576cd"/><rect x="25" y="91" width="2.05" height="1.8" fill="#2793df"/><rect x="27" y="91" width="2.05" height="1.8" fill="#5ec5c3"/><rect x="29" y="91" width="2.05" height="1.8" fill="#7acd9c"/><rect x="31" y="91" width="2.05" height="1.8" fill="#a0d374"/><rect x="33" y="91" width="2.05" height="1.8" fill="#e5df3f"/><rect x="35" y="91" width="2.05" height="1.8" fill="#edd839"/><rect x="37" y="91" width="2.05" height="1.8" fill="#eed539"/><rect x="39" y="91" width="2.05" height="1.8" fill="#f59c2d"/><rect x="41" y="91" width="2.05" height="1.8" fill="#f7b130"/><rect x="43" y="91" width="2.05" height="1.8" fill="#f6bc32"/><rect x="45" y="91" width="2.05" height="1.8" fill="#f4972c"/><rect x="47" y="91" width="2.05" height="1.8" fill="#f27b28"/><rect x="49" y="91" width="2.05" height="1.8" fill="#f3872a"/><rect x="51" y="91" width="2.05" height="1.8" fill="#f7ae30"/><rect x="53" y="91" width="2.05" height="1.8" fill="#f6ac30"/><rect x="55" y="91" width="2.05" height="1.8" fill="#f6a92f"/><rect x="57" y="91" width="2.05" height="1.8" fill="#ef7027"/><rect x="59" y="91" width="2.05" height="1.8" fill="#f7af30"/><rect x="61" y="91" width="2.05" height="1.8" fill="#f2c936"/><rect x="63" y="91" width="2.05" height="1.8" fill="#f0d138"/><rect x="65" y="91" width="2.05" height="1.8" fill="#eed438"/><rect x="67" y="91" width="2.05" height="1.8" fill="#d3dc49"/><rect x="69" y="91" width="2.05" height="1.8" fill="#ebdf3b"/><rect x="71" y="91" width="2.05" height="1.8" fill="#ccda4e"/><rect x="73" y="91" width="2.05" height="1.8" fill="#a4d36f"/><rect x="75" y="91" width="2.05" height="1.8" fill="#c5d952"/><rect x="77" y="91" width="2.05" height="1.8" fill="#cfdb4c"/><rect x="79" y="91" width="2.05" height="1.8" fill="#bed856"/><rect x="81" y="91" width="2.05" height="1.8" fill="#c6d951"/><rect x="83" y="91" width="2.05" height="1.8" fill="#b0d563"/><rect x="85" y="91" width="2.05" height="1.8" fill="#6ecaac"/><rect x="87" y="91" width="2.05" height="1.8" fill="#7bcd9b"/><rect x="89" y="91" width="2.05" height="1.8" fill="#72cba8"/><rect x="91" y="91" width="2.05" height="1.8" fill="#48bee2"/><rect x="93" y="91" width="2.05" height="1.8" fill="#48bee2"/><rect x="95" y="91" width="2.05" height="1.8" fill="#38ace3"/><rect x="97" y="91" width="2.05" height="1.8" fill="#2680d3"/><rect x="99" y="91" width="2.05" height="1.8" fill="#2795e0"/><rect x="101" y="91" width="2.05" height="1.8" fill="#278ad9"/><rect x="103" y="91" width="2.05" height="1.8" fill="#225bba"/><rect x="105" y="91" width="2.05" height="1.8" fill="#2051ad"/><rect x="107" y="91" width="2.05" height="1.8" fill="#1e47a2"/><rect x="109" y="91" width="2.05" height="1.8" fill="#1c3b8e"/><rect x="111" y="91" width="2.05" height="1.8" fill="#1c3d91"/><rect x="113" y="91" width="1.05" height="1.8" fill="#1c3c90"/><rect x="21" y="92.75" width="2.05" height="1.8" fill="#2469c5"/><rect x="23" y="92.75" width="2.05" height="1.8" fill="#2578ce"/><rect x="25" y="92.75" width="2.05" height="1.8" fill="#2896e1"/><rect x="27" y="92.75" width="2.05" height="1.8" fill="#60c5c0"/><rect x="29" y="92.75" width="2.05" height="1.8" fill="#83ce93"/><rect x="31" y="92.75" width="2.05" height="1.8" fill="#9dd277"/><rect x="33" y="92.75" width="2.05" height="1.8" fill="#eae03c"/><rect x="35" y="92.75" width="2.05" height="1.8" fill="#efd238"/><rect x="37" y="92.75" width="2.05" height="1.8" fill="#eed539"/><rect x="39" y="92.75" width="2.05" height="1.8" fill="#f48e2b"/><rect x="41" y="92.75" width="2.05" height="1.8" fill="#f7b531"/><rect x="43" y="92.75" width="2.05" height="1.8" fill="#f7b831"/><rect x="45" y="92.75" width="2.05" height="1.8" fill="#f4912b"/><rect x="47" y="92.75" width="2.05" height="1.8" fill="#f27828"/><rect x="49" y="92.75" width="2.05" height="1.8" fill="#f3872a"/><rect x="51" y="92.75" width="2.05" height="1.8" fill="#f7af30"/><rect x="53" y="92.75" width="2.05" height="1.8" fill="#f7af30"/><rect x="55" y="92.75" width="2.05" height="1.8" fill="#f6a52f"/><rect x="57" y="92.75" width="2.05" height="1.8" fill="#ea5f26"/><rect x="59" y="92.75" width="2.05" height="1.8" fill="#f6a72f"/><rect x="61" y="92.75" width="2.05" height="1.8" fill="#f3c735"/><rect x="63" y="92.75" width="2.05" height="1.8" fill="#f2cb36"/><rect x="65" y="92.75" width="2.05" height="1.8" fill="#efd238"/><rect x="67" y="92.75" width="2.05" height="1.8" fill="#dbdd45"/><rect x="69" y="92.75" width="2.05" height="1.8" fill="#e7e03e"/><rect x="71" y="92.75" width="2.05" height="1.8" fill="#cddb4d"/><rect x="73" y="92.75" width="2.05" height="1.8" fill="#a6d46d"/><rect x="75" y="92.75" width="2.05" height="1.8" fill="#c9da50"/><rect x="77" y="92.75" width="2.05" height="1.8" fill="#d2dc4a"/><rect x="79" y="92.75" width="2.05" height="1.8" fill="#bdd757"/><rect x="81" y="92.75" width="2.05" height="1.8" fill="#cedb4d"/><rect x="83" y="92.75" width="2.05" height="1.8" fill="#a7d46d"/><rect x="85" y="92.75" width="2.05" height="1.8" fill="#75cca2"/><rect x="87" y="92.75" width="2.05" height="1.8" fill="#7ccd9b"/><rect x="89" y="92.75" width="2.05" height="1.8" fill="#74cba4"/><rect x="91" y="92.75" width="2.05" height="1.8" fill="#51c1d6"/><rect x="93" y="92.75" width="2.05" height="1.8" fill="#4dc0da"/><rect x="95" y="92.75" width="2.05" height="1.8" fill="#3eb3e4"/><rect x="97" y="92.75" width="2.05" height="1.8" fill="#278bda"/><rect x="99" y="92.75" width="2.05" height="1.8" fill="#2896e1"/><rect x="101" y="92.75" width="2.05" height="1.8" fill="#2792de"/><rect x="103" y="92.75" width="2.05" height="1.8" fill="#2463c1"/><rect x="105" y="92.75" width="2.05" height="1.8" fill="#235dbc"/><rect x="107" y="92.75" width="2.05" height="1.8" fill="#2051ae"/><rect x="109" y="92.75" width="2.05" height="1.8" fill="#1d3f95"/><rect x="111" y="92.75" width="2.05" height="1.8" fill="#1d439a"/><rect x="113" y="92.75" width="1.05" height="1.8" fill="#1c3a8b"/><rect x="21" y="94.5" width="2.05" height="1.8" fill="#246ac6"/><rect x="23" y="94.5" width="2.05" height="1.8" fill="#2573cb"/><rect x="25" y="94.5" width="2.05" height="1.8" fill="#278edc"/><rect x="27" y="94.5" width="2.05" height="1.8" fill="#55c2d0"/><rect x="29" y="94.5" width="2.05" height="1.8" fill="#7bcd9c"/><rect x="31" y="94.5" width="2.05" height="1.8" fill="#a2d372"/><rect x="33" y="94.5" width="2.05" height="1.8" fill="#e6e03e"/><rect x="35" y="94.5" width="2.05" height="1.8" fill="#f1cc36"/><rect x="37" y="94.5" width="2.05" height="1.8" fill="#edd93a"/><rect x="39" y="94.5" width="2.05" height="1.8" fill="#f3862a"/><rect x="41" y="94.5" width="2.05" height="1.8" fill="#f7b231"/><rect x="43" y="94.5" width="2.05" height="1.8" fill="#f6bd33"/><rect x="45" y="94.5" width="2.05" height="1.8" fill="#f3882a"/><rect x="47" y="94.5" width="2.05" height="1.8" fill="#f27c28"/><rect x="49" y="94.5" width="2.05" height="1.8" fill="#f27928"/><rect x="51" y="94.5" width="2.05" height="1.8" fill="#f6ab2f"/><rect x="53" y="94.5" width="2.05" height="1.8" fill="#f6ab2f"/><rect x="55" y="94.5" width="2.05" height="1.8" fill="#f5a12e"/><rect x="57" y="94.5" width="2.05" height="1.8" fill="#e95d26"/><rect x="59" y="94.5" width="2.05" height="1.8" fill="#f5a02e"/><rect x="61" y="94.5" width="2.05" height="1.8" fill="#f5c033"/><rect x="63" y="94.5" width="2.05" height="1.8" fill="#f0d138"/><rect x="65" y="94.5" width="2.05" height="1.8" fill="#efd138"/><rect x="67" y="94.5" width="2.05" height="1.8" fill="#e0de42"/><rect x="69" y="94.5" width="2.05" height="1.8" fill="#ebde3b"/><rect x="71" y="94.5" width="2.05" height="1.8" fill="#dadd46"/><rect x="73" y="94.5" width="2.05" height="1.8" fill="#a7d46d"/><rect x="75" y="94.5" width="2.05" height="1.8" fill="#d6dc48"/><rect x="77" y="94.5" width="2.05" height="1.8" fill="#d9dd46"/><rect x="79" y="94.5" width="2.05" height="1.8" fill="#b6d65d"/><rect x="81" y="94.5" width="2.05" height="1.8" fill="#c3d953"/><rect x="83" y="94.5" width="2.05" height="1.8" fill="#b6d65c"/><rect x="85" y="94.5" width="2.05" height="1.8" fill="#7dcd99"/><rect x="87" y="94.5" width="2.05" height="1.8" fill="#81ce96"/><rect x="89" y="94.5" width="2.05" height="1.8" fill="#7bcd9c"/><rect x="91" y="94.5" width="2.05" height="1.8" fill="#52c1d4"/><rect x="93" y="94.5" width="2.05" height="1.8" fill="#4bbfde"/><rect x="95" y="94.5" width="2.05" height="1.8" fill="#40b6e5"/><rect x="97" y="94.5" width="2.05" height="1.8" fill="#278fdd"/><rect x="99" y="94.5" width="2.05" height="1.8" fill="#2c9be1"/><rect x="101" y="94.5" width="2.05" height="1.8" fill="#2998e1"/><rect x="103" y="94.5" width="2.05" height="1.8" fill="#2468c5"/><rect x="105" y="94.5" width="2.05" height="1.8" fill="#235dbd"/><rect x="107" y="94.5" width="2.05" height="1.8" fill="#2153b0"/><rect x="109" y="94.5" width="2.05" height="1.8" fill="#1d3f94"/><rect x="111" y="94.5" width="2.05" height="1.8" fill="#1e49a4"/><rect x="113" y="94.5" width="1.05" height="1.8" fill="#1c3d90"/><rect x="21" y="96.25" width="2.05" height="1.8" fill="#246bc6"/><rect x="23" y="96.25" width="2.05" height="1.8" fill="#2579cf"/><rect x="25" y="96.25" width="2.05" height="1.8" fill="#2792de"/><rect x="27" y="96.25" width="2.05" height="1.8" fill="#5bc4c7"/><rect x="29" y="96.25" width="2.05" height="1.8" fill="#8bd08a"/><rect x="31" y="96.25" width="2.05" height="1.8" fill="#a8d46b"/><rect x="33" y="96.25" width="2.05" height="1.8" fill="#ecdb3a"/><rect x="35" y="96.25" width="2.05" height="1.8" fill="#f0d037"/><rect x="37" y="96.25" width="2.05" height="1.8" fill="#eed539"/><rect x="39" y="96.25" width="2.05" height="1.8" fill="#f4912b"/><rect x="41" y="96.25" width="2.05" height="1.8" fill="#f6a42e"/><rect x="43" y="96.25" width="2.05" height="1.8" fill="#f7b231"/><rect x="45" y="96.25" width="2.05" height="1.8" fill="#f3852a"/><rect x="47" y="96.25" width="2.05" height="1.8" fill="#f27928"/><rect x="49" y="96.25" width="2.05" height="1.8" fill="#f27928"/><rect x="51" y="96.25" width="2.05" height="1.8" fill="#f59d2d"/><rect x="53" y="96.25" width="2.05" height="1.8" fill="#f59d2d"/><rect x="55" y="96.25" width="2.05" height="1.8" fill="#f5a32e"/><rect x="57" y="96.25" width="2.05" height="1.8" fill="#eb6226"/><rect x="59" y="96.25" width="2.05" height="1.8" fill="#f6a52f"/><rect x="61" y="96.25" width="2.05" height="1.8" fill="#f6bd33"/><rect x="63" y="96.25" width="2.05" height="1.8" fill="#f1cd37"/><rect x="65" y="96.25" width="2.05" height="1.8" fill="#f0d037"/><rect x="67" y="96.25" width="2.05" height="1.8" fill="#dfde42"/><rect x="69" y="96.25" width="2.05" height="1.8" fill="#edd839"/><rect x="71" y="96.25" width="2.05" height="1.8" fill="#d9dd46"/><rect x="73" y="96.25" width="2.05" height="1.8" fill="#a8d46b"/><rect x="75" y="96.25" width="2.05" height="1.8" fill="#c8da50"/><rect x="77" y="96.25" width="2.05" height="1.8" fill="#d3dc49"/><rect x="79" y="96.25" width="2.05" height="1.8" fill="#bdd757"/><rect x="81" y="96.25" width="2.05" height="1.8" fill="#cddb4d"/><rect x="83" y="96.25" width="2.05" height="1.8" fill="#bad758"/><rect x="85" y="96.25" width="2.05" height="1.8" fill="#80ce97"/><rect x="87" y="96.25" width="2.05" height="1.8" fill="#81ce95"/><rect x="89" y="96.25" width="2.05" height="1.8" fill="#87cf8f"/><rect x="91" y="96.25" width="2.05" height="1.8" fill="#55c2d0"/><rect x="93" y="96.25" width="2.05" height="1.8" fill="#57c3ce"/><rect x="95" y="96.25" width="2.05" height="1.8" fill="#3eb3e4"/><rect x="97" y="96.25" width="2.05" height="1.8" fill="#278ddc"/><rect x="99" y="96.25" width="2.05" height="1.8" fill="#34a7e3"/><rect x="101" y="96.25" width="2.05" height="1.8" fill="#2fa0e2"/><rect x="103" y="96.25" width="2.05" height="1.8" fill="#246cc7"/><rect x="105" y="96.25" width="2.05" height="1.8" fill="#2465c3"/><rect x="107" y="96.25" width="2.05" height="1.8" fill="#2052af"/><rect x="109" y="96.25" width="2.05" height="1.8" fill="#1d3f94"/><rect x="111" y="96.25" width="2.05" height="1.8" fill="#1f4aa5"/><rect x="113" y="96.25" width="1.05" height="1.8" fill="#1d4096"/><rect x="21" y="98" width="2.05" height="1.8" fill="#2465c3"/><rect x="23" y="98" width="2.05" height="1.8" fill="#257ad0"/><rect x="25" y="98" width="2.05" height="1.8" fill="#2a99e1"/><rect x="27" y="98" width="2.05" height="1.8" fill="#59c3ca"/><rect x="29" y="98" width="2.05" height="1.8" fill="#88cf8e"/><rect x="31" y="98" width="2.05" height="1.8" fill="#a3d371"/><rect x="33" y="98" width="2.05" height="1.8" fill="#ebdf3b"/><rect x="35" y="98" width="2.05" height="1.8" fill="#eed438"/><rect x="37" y="98" width="2.05" height="1.8" fill="#eed639"/><rect x="39" y="98" width="2.05" height="1.8" fill="#f3872a"/><rect x="41" y="98" width="2.05" height="1.8" fill="#f6a72f"/><rect x="43" y="98" width="2.05" height="1.8" fill="#f7b631"/><rect x="45" y="98" width="2.05" height="1.8" fill="#f4912b"/><rect x="47" y="98" width="2.05" height="1.8" fill="#ef7127"/><rect x="49" y="98" width="2.05" height="1.8" fill="#f17727"/><rect x="51" y="98" width="2.05" height="1.8" fill="#f6a82f"/><rect x="53" y="98" width="2.05" height="1.8" fill="#f5a12e"/><rect x="55" y="98" width="2.05" height="1.8" fill="#f59e2d"/><rect x="57" y="98" width="2.05" height="1.8" fill="#e85925"/><rect x="59" y="98" width="2.05" height="1.8" fill="#f6a42e"/><rect x="61" y="98" width="2.05" height="1.8" fill="#f4c234"/><rect x="63" y="98" width="2.05" height="1.8" fill="#f2ca36"/><rect x="65" y="98" width="2.05" height="1.8" fill="#eed639"/><rect x="67" y="98" width="2.05" height="1.8" fill="#d9dd46"/><rect x="69" y="98" width="2.05" height="1.8" fill="#eae03c"/><rect x="71" y="98" width="2.05" height="1.8" fill="#d7dd47"/><rect x="73" y="98" width="2.05" height="1.8" fill="#aad469"/><rect x="75" y="98" width="2.05" height="1.8" fill="#d1db4b"/><rect x="77" y="98" width="2.05" height="1.8" fill="#d5dc48"/><rect x="79" y="98" width="2.05" height="1.8" fill="#bfd856"/><rect x="81" y="98" width="2.05" height="1.8" fill="#c7d951"/><rect x="83" y="98" width="2.05" height="1.8" fill="#acd567"/><rect x="85" y="98" width="2.05" height="1.8" fill="#82ce94"/><rect x="87" y="98" width="2.05" height="1.8" fill="#88cf8e"/><rect x="89" y="98" width="2.05" height="1.8" fill="#79cd9e"/><rect x="91" y="98" width="2.05" height="1.8" fill="#52c1d4"/><rect x="93" y="98" width="2.05" height="1.8" fill="#56c2cf"/><rect x="95" y="98" width="2.05" height="1.8" fill="#3aafe4"/><rect x="97" y="98" width="2.05" height="1.8" fill="#2792de"/><rect x="99" y="98" width="2.05" height="1.8" fill="#30a1e2"/><rect x="101" y="98" width="2.05" height="1.8" fill="#2d9de1"/><rect x="103" y="98" width="2.05" height="1.8" fill="#2464c3"/><rect x="105" y="98" width="2.05" height="1.8" fill="#235dbd"/><rect x="107" y="98" width="2.05" height="1.8" fill="#2257b5"/><rect x="109" y="98" width="2.05" height="1.8" fill="#1d439c"/><rect x="111" y="98" width="2.05" height="1.8" fill="#1f4ba7"/><rect x="113" y="98" width="1.05" height="1.8" fill="#1d3f95"/><rect x="21" y="99.75" width="2.05" height="1.8" fill="#2466c3"/><rect x="23" y="99.75" width="2.05" height="1.8" fill="#267bd0"/><rect x="25" y="99.75" width="2.05" height="1.8" fill="#2792df"/><rect x="27" y="99.75" width="2.05" height="1.8" fill="#64c7bb"/><rect x="29" y="99.75" width="2.05" height="1.8" fill="#8bcf8b"/><rect x="31" y="99.75" width="2.05" height="1.8" fill="#a5d46e"/><rect x="33" y="99.75" width="2.05" height="1.8" fill="#edd93a"/><rect x="35" y="99.75" width="2.05" height="1.8" fill="#efd438"/><rect x="37" y="99.75" width="2.05" height="1.8" fill="#edd839"/><rect x="39" y="99.75" width="2.05" height="1.8" fill="#f48f2b"/><rect x="41" y="99.75" width="2.05" height="1.8" fill="#f7b030"/><rect x="43" y="99.75" width="2.05" height="1.8" fill="#f7bb32"/><rect x="45" y="99.75" width="2.05" height="1.8" fill="#f4912b"/><rect x="47" y="99.75" width="2.05" height="1.8" fill="#f17527"/><rect x="49" y="99.75" width="2.05" height="1.8" fill="#f17527"/><rect x="51" y="99.75" width="2.05" height="1.8" fill="#f6a52e"/><rect x="53" y="99.75" width="2.05" height="1.8" fill="#f59c2d"/><rect x="55" y="99.75" width="2.05" height="1.8" fill="#f59e2d"/><rect x="57" y="99.75" width="2.05" height="1.8" fill="#ec6626"/><rect x="59" y="99.75" width="2.05" height="1.8" fill="#f5a32e"/><rect x="61" y="99.75" width="2.05" height="1.8" fill="#f4c334"/><rect x="63" y="99.75" width="2.05" height="1.8" fill="#f0d037"/><rect x="65" y="99.75" width="2.05" height="1.8" fill="#f1cd37"/><rect x="67" y="99.75" width="2.05" height="1.8" fill="#dadd45"/><rect x="69" y="99.75" width="2.05" height="1.8" fill="#ecdc3a"/><rect x="71" y="99.75" width="2.05" height="1.8" fill="#d7dd47"/><rect x="73" y="99.75" width="2.05" height="1.8" fill="#b5d65d"/><rect x="75" y="99.75" width="2.05" height="1.8" fill="#d2dc4a"/><rect x="77" y="99.75" width="2.05" height="1.8" fill="#d5dc48"/><rect x="79" y="99.75" width="2.05" height="1.8" fill="#bed856"/><rect x="81" y="99.75" width="2.05" height="1.8" fill="#c7d951"/><rect x="83" y="99.75" width="2.05" height="1.8" fill="#bdd757"/><rect x="85" y="99.75" width="2.05" height="1.8" fill="#82ce94"/><rect x="87" y="99.75" width="2.05" height="1.8" fill="#85cf91"/><rect x="89" y="99.75" width="2.05" height="1.8" fill="#78cd9f"/><rect x="91" y="99.75" width="2.05" height="1.8" fill="#4dc0dc"/><rect x="93" y="99.75" width="2.05" height="1.8" fill="#4fc0d8"/><rect x="95" y="99.75" width="2.05" height="1.8" fill="#41b8e5"/><rect x="97" y="99.75" width="2.05" height="1.8" fill="#2896e1"/><rect x="99" y="99.75" width="2.05" height="1.8" fill="#35a7e3"/><rect x="101" y="99.75" width="2.05" height="1.8" fill="#2998e1"/><rect x="103" y="99.75" width="2.05" height="1.8" fill="#256fc9"/><rect x="105" y="99.75" width="2.05" height="1.8" fill="#2464c2"/><rect x="107" y="99.75" width="2.05" height="1.8" fill="#2155b3"/><rect x="109" y="99.75" width="2.05" height="1.8" fill="#1d449d"/><rect x="111" y="99.75" width="2.05" height="1.8" fill="#1e49a4"/><rect x="113" y="99.75" width="1.05" height="1.8" fill="#1c3d91"/><rect x="21" y="101.5" width="2.05" height="1.8" fill="#246cc7"/><rect x="23" y="101.5" width="2.05" height="1.8" fill="#267dd1"/><rect x="25" y="101.5" width="2.05" height="1.8" fill="#2896e1"/><rect x="27" y="101.5" width="2.05" height="1.8" fill="#5ac4c9"/><rect x="29" y="101.5" width="2.05" height="1.8" fill="#87cf8f"/><rect x="31" y="101.5" width="2.05" height="1.8" fill="#a4d36f"/><rect x="33" y="101.5" width="2.05" height="1.8" fill="#e7e03d"/><rect x="35" y="101.5" width="2.05" height="1.8" fill="#efd338"/><rect x="37" y="101.5" width="2.05" height="1.8" fill="#eed639"/><rect x="39" y="101.5" width="2.05" height="1.8" fill="#f4902b"/><rect x="41" y="101.5" width="2.05" height="1.8" fill="#f6ab2f"/><rect x="43" y="101.5" width="2.05" height="1.8" fill="#f7ba32"/><rect x="45" y="101.5" width="2.05" height="1.8" fill="#f48e2b"/><rect x="47" y="101.5" width="2.05" height="1.8" fill="#f27c28"/><rect x="49" y="101.5" width="2.05" height="1.8" fill="#f27828"/><rect x="51" y="101.5" width="2.05" height="1.8" fill="#f6ac30"/><rect x="53" y="101.5" width="2.05" height="1.8" fill="#f59f2e"/><rect x="55" y="101.5" width="2.05" height="1.8" fill="#f6a92f"/><rect x="57" y="101.5" width="2.05" height="1.8" fill="#ec6726"/><rect x="59" y="101.5" width="2.05" height="1.8" fill="#f59e2d"/><rect x="61" y="101.5" width="2.05" height="1.8" fill="#f3c535"/><rect x="63" y="101.5" width="2.05" height="1.8" fill="#f3c635"/><rect x="65" y="101.5" width="2.05" height="1.8" fill="#f1ce37"/><rect x="67" y="101.5" width="2.05" height="1.8" fill="#e3df40"/><rect x="69" y="101.5" width="2.05" height="1.8" fill="#e9e03c"/><rect x="71" y="101.5" width="2.05" height="1.8" fill="#d4dc49"/><rect x="73" y="101.5" width="2.05" height="1.8" fill="#a5d36f"/><rect x="75" y="101.5" width="2.05" height="1.8" fill="#d6dc48"/><rect x="77" y="101.5" width="2.05" height="1.8" fill="#dcde44"/><rect x="79" y="101.5" width="2.05" height="1.8" fill="#c1d855"/><rect x="81" y="101.5" width="2.05" height="1.8" fill="#cbda4e"/><rect x="83" y="101.5" width="2.05" height="1.8" fill="#b2d561"/><rect x="85" y="101.5" width="2.05" height="1.8" fill="#7fce98"/><rect x="87" y="101.5" width="2.05" height="1.8" fill="#8acf8c"/><rect x="89" y="101.5" width="2.05" height="1.8" fill="#83ce93"/><rect x="91" y="101.5" width="2.05" height="1.8" fill="#4bbfde"/><rect x="93" y="101.5" width="2.05" height="1.8" fill="#4dc0db"/><rect x="95" y="101.5" width="2.05" height="1.8" fill="#3aaee4"/><rect x="97" y="101.5" width="2.05" height="1.8" fill="#2794df"/><rect x="99" y="101.5" width="2.05" height="1.8" fill="#32a4e2"/><rect x="101" y="101.5" width="2.05" height="1.8" fill="#2a99e1"/><rect x="103" y="101.5" width="2.05" height="1.8" fill="#2570ca"/><rect x="105" y="101.5" width="2.05" height="1.8" fill="#235fbf"/><rect x="107" y="101.5" width="2.05" height="1.8" fill="#2154b1"/><rect x="109" y="101.5" width="2.05" height="1.8" fill="#1d3f95"/><rect x="111" y="101.5" width="2.05" height="1.8" fill="#1f4ba6"/><rect x="113" y="101.5" width="1.05" height="1.8" fill="#1d4198"/><rect x="21" y="103.25" width="2.05" height="1.8" fill="#2467c4"/><rect x="23" y="103.25" width="2.05" height="1.8" fill="#2573cb"/><rect x="25" y="103.25" width="2.05" height="1.8" fill="#2793df"/><rect x="27" y="103.25" width="2.05" height="1.8" fill="#5ac4c9"/><rect x="29" y="103.25" width="2.05" height="1.8" fill="#8dd088"/><rect x="31" y="103.25" width="2.05" height="1.8" fill="#98d17d"/><rect x="33" y="103.25" width="2.05" height="1.8" fill="#edd93a"/><rect x="35" y="103.25" width="2.05" height="1.8" fill="#eed639"/><rect x="37" y="103.25" width="2.05" height="1.8" fill="#f0ce37"/><rect x="39" y="103.25" width="2.05" height="1.8" fill="#f3882a"/><rect x="41" y="103.25" width="2.05" height="1.8" fill="#f7b030"/><rect x="43" y="103.25" width="2.05" height="1.8" fill="#f7b631"/><rect x="45" y="103.25" width="2.05" height="1.8" fill="#f48d2b"/><rect x="47" y="103.25" width="2.05" height="1.8" fill="#f27a28"/><rect x="49" y="103.25" width="2.05" height="1.8" fill="#f27f29"/><rect x="51" y="103.25" width="2.05" height="1.8" fill="#f6a62f"/><rect x="53" y="103.25" width="2.05" height="1.8" fill="#f59b2d"/><rect x="55" y="103.25" width="2.05" height="1.8" fill="#f59c2d"/><rect x="57" y="103.25" width="2.05" height="1.8" fill="#e85825"/><rect x="59" y="103.25" width="2.05" height="1.8" fill="#f6ab2f"/><rect x="61" y="103.25" width="2.05" height="1.8" fill="#f4c434"/><rect x="63" y="103.25" width="2.05" height="1.8" fill="#f3c635"/><rect x="65" y="103.25" width="2.05" height="1.8" fill="#edd739"/><rect x="67" y="103.25" width="2.05" height="1.8" fill="#e1df41"/><rect x="69" y="103.25" width="2.05" height="1.8" fill="#ebe03b"/><rect x="71" y="103.25" width="2.05" height="1.8" fill="#dcde44"/><rect x="73" y="103.25" width="2.05" height="1.8" fill="#a3d371"/><rect x="75" y="103.25" width="2.05" height="1.8" fill="#d4dc49"/><rect x="77" y="103.25" width="2.05" height="1.8" fill="#d4dc49"/><rect x="79" y="103.25" width="2.05" height="1.8" fill="#b9d759"/><rect x="81" y="103.25" width="2.05" height="1.8" fill="#c5d952"/><rect x="83" y="103.25" width="2.05" height="1.8" fill="#bbd758"/><rect x="85" y="103.25" width="2.05" height="1.8" fill="#79cd9e"/><rect x="87" y="103.25" width="2.05" height="1.8" fill="#84ce92"/><rect x="89" y="103.25" width="2.05" height="1.8" fill="#7fce97"/><rect x="91" y="103.25" width="2.05" height="1.8" fill="#56c3ce"/><rect x="93" y="103.25" width="2.05" height="1.8" fill="#4dc0db"/><rect x="95" y="103.25" width="2.05" height="1.8" fill="#3eb4e4"/><rect x="97" y="103.25" width="2.05" height="1.8" fill="#278cdb"/><rect x="99" y="103.25" width="2.05" height="1.8" fill="#2fa0e2"/><rect x="101" y="103.25" width="2.05" height="1.8" fill="#30a1e2"/><rect x="103" y="103.25" width="2.05" height="1.8" fill="#256ec8"/><rect x="105" y="103.25" width="2.05" height="1.8" fill="#235fbe"/><rect x="107" y="103.25" width="2.05" height="1.8" fill="#2052af"/><rect x="109" y="103.25" width="2.05" height="1.8" fill="#1d3f95"/><rect x="111" y="103.25" width="2.05" height="1.8" fill="#1f4da8"/><rect x="113" y="103.25" width="1.05" height="1.8" fill="#1d3f94"/></g>
<line x1="86.8" y1="35" x2="86.8" y2="105" stroke="#d09c48" stroke-width="1.0"/><line x1="86.8" y1="80" x2="86.8" y2="105" stroke="#e0a640" stroke-width="1.0"/>
<text x="38.9" y="113" font-size="5.4" fill="#222" text-anchor="middle">1450</text>
<text x="68.6" y="113" font-size="5.4" fill="#222" text-anchor="middle">1500</text>
<text x="97.5" y="113" font-size="5.4" fill="#222" text-anchor="middle">1550</text>
<text x="67.8" y="120.6" font-size="5.4" fill="#222" text-anchor="middle">Wavelength (nm)</text>
<text x="16.9" y="101" font-size="5.2" fill="#222" text-anchor="middle" transform="rotate(-90 16.9 101)">20</text>
<text x="16.9" y="79.1" font-size="5.2" fill="#222" text-anchor="middle" transform="rotate(-90 16.9 79.1)">25</text>
<text x="16.9" y="57.2" font-size="5.2" fill="#222" text-anchor="middle" transform="rotate(-90 16.9 57.2)">30</text>
<text x="16.9" y="35.3" font-size="5.2" fill="#222" text-anchor="middle" transform="rotate(-90 16.9 35.3)">35</text>
<text x="8.2" y="65.4" font-size="4.25" fill="#222" text-anchor="middle" transform="rotate(-90 8.2 65.4)">Pump fluence (μJ/cm<tspan font-size="3.0" dy="-1.5">2</tspan><tspan dy="1.5"> per pulse)</tspan></text>
<text x="220.6" y="10.8" font-size="15" font-weight="bold">b</text>
<line x1="237.5" y1="10.5" x2="417.5" y2="10.5" stroke="#444" stroke-width="1"/>
<line x1="237" y1="154.5" x2="417.5" y2="154.5" stroke="#333" stroke-width="1"/>
<line x1="237.5" y1="154.5" x2="237.5" y2="158.1" stroke="#333" stroke-width="0.8"/>
<line x1="247.15" y1="154.5" x2="247.15" y2="156.5" stroke="#333" stroke-width="0.8"/>
<line x1="256.21" y1="154.5" x2="256.21" y2="156.5" stroke="#333" stroke-width="0.8"/>
<line x1="264.76" y1="154.5" x2="264.76" y2="156.5" stroke="#333" stroke-width="0.8"/>
<line x1="272.84" y1="154.5" x2="272.84" y2="156.5" stroke="#333" stroke-width="0.8"/>
<line x1="280.51" y1="154.5" x2="280.51" y2="158.1" stroke="#333" stroke-width="0.8"/>
<line x1="287.8" y1="154.5" x2="287.8" y2="156.5" stroke="#333" stroke-width="0.8"/>
<line x1="294.76" y1="154.5" x2="294.76" y2="156.5" stroke="#333" stroke-width="0.8"/>
<line x1="301.41" y1="154.5" x2="301.41" y2="156.5" stroke="#333" stroke-width="0.8"/>
<line x1="307.77" y1="154.5" x2="307.77" y2="156.5" stroke="#333" stroke-width="0.8"/>
<line x1="313.87" y1="154.5" x2="313.87" y2="158.1" stroke="#333" stroke-width="0.8"/>
<line x1="319.73" y1="154.5" x2="319.73" y2="156.5" stroke="#333" stroke-width="0.8"/>
<line x1="325.38" y1="154.5" x2="325.38" y2="156.5" stroke="#333" stroke-width="0.8"/>
<line x1="330.81" y1="154.5" x2="330.81" y2="156.5" stroke="#333" stroke-width="0.8"/>
<line x1="336.06" y1="154.5" x2="336.06" y2="156.5" stroke="#333" stroke-width="0.8"/>
<line x1="341.13" y1="154.5" x2="341.13" y2="158.1" stroke="#333" stroke-width="0.8"/>
<line x1="346.03" y1="154.5" x2="346.03" y2="156.5" stroke="#333" stroke-width="0.8"/>
<line x1="350.78" y1="154.5" x2="350.78" y2="156.5" stroke="#333" stroke-width="0.8"/>
<line x1="355.38" y1="154.5" x2="355.38" y2="156.5" stroke="#333" stroke-width="0.8"/>
<line x1="359.84" y1="154.5" x2="359.84" y2="156.5" stroke="#333" stroke-width="0.8"/>
<line x1="364.18" y1="154.5" x2="364.18" y2="158.1" stroke="#333" stroke-width="0.8"/>
<line x1="368.39" y1="154.5" x2="368.39" y2="156.5" stroke="#333" stroke-width="0.8"/>
<line x1="372.48" y1="154.5" x2="372.48" y2="156.5" stroke="#333" stroke-width="0.8"/>
<line x1="376.47" y1="154.5" x2="376.47" y2="156.5" stroke="#333" stroke-width="0.8"/>
<line x1="380.35" y1="154.5" x2="380.35" y2="156.5" stroke="#333" stroke-width="0.8"/>
<line x1="384.14" y1="154.5" x2="384.14" y2="158.1" stroke="#333" stroke-width="0.8"/>
<line x1="387.83" y1="154.5" x2="387.83" y2="156.5" stroke="#333" stroke-width="0.8"/>
<line x1="391.43" y1="154.5" x2="391.43" y2="156.5" stroke="#333" stroke-width="0.8"/>
<line x1="394.95" y1="154.5" x2="394.95" y2="156.5" stroke="#333" stroke-width="0.8"/>
<line x1="398.39" y1="154.5" x2="398.39" y2="156.5" stroke="#333" stroke-width="0.8"/>
<line x1="401.75" y1="154.5" x2="401.75" y2="158.1" stroke="#333" stroke-width="0.8"/>
<line x1="405.03" y1="154.5" x2="405.03" y2="156.5" stroke="#333" stroke-width="0.8"/>
<line x1="408.25" y1="154.5" x2="408.25" y2="156.5" stroke="#333" stroke-width="0.8"/>
<line x1="411.4" y1="154.5" x2="411.4" y2="156.5" stroke="#333" stroke-width="0.8"/>
<line x1="414.48" y1="154.5" x2="414.48" y2="156.5" stroke="#333" stroke-width="0.8"/>
<line x1="417.5" y1="154.5" x2="417.5" y2="158.1" stroke="#333" stroke-width="0.8"/>
<text x="237.5" y="169" font-size="8.4" text-anchor="middle">15</text>
<text x="280.51" y="169" font-size="8.4" text-anchor="middle">20</text>
<text x="313.87" y="169" font-size="8.4" text-anchor="middle">25</text>
<text x="341.13" y="169" font-size="8.4" text-anchor="middle">30</text>
<text x="364.18" y="169" font-size="8.4" text-anchor="middle">35</text>
<text x="384.14" y="169" font-size="8.4" text-anchor="middle">40</text>
<text x="401.75" y="169" font-size="8.4" text-anchor="middle">45</text>
<text x="417.5" y="169" font-size="8.4" text-anchor="middle">50</text>
<line x1="237.5" y1="10.5" x2="237.5" y2="154.5" stroke="#ee5a68" stroke-width="1"/>
<line x1="233.5" y1="154.3" x2="237.5" y2="154.3" stroke="#ee5a68" stroke-width="0.8"/>
<line x1="235.3" y1="134.37" x2="237.5" y2="134.37" stroke="#ee5a68" stroke-width="0.8"/>
<line x1="235.3" y1="122.71" x2="237.5" y2="122.71" stroke="#ee5a68" stroke-width="0.8"/>
<line x1="235.3" y1="114.44" x2="237.5" y2="114.44" stroke="#ee5a68" stroke-width="0.8"/>
<line x1="235.3" y1="108.03" x2="237.5" y2="108.03" stroke="#ee5a68" stroke-width="0.8"/>
<line x1="235.3" y1="102.79" x2="237.5" y2="102.79" stroke="#ee5a68" stroke-width="0.8"/>
<line x1="235.3" y1="98.35" x2="237.5" y2="98.35" stroke="#ee5a68" stroke-width="0.8"/>
<line x1="235.3" y1="94.52" x2="237.5" y2="94.52" stroke="#ee5a68" stroke-width="0.8"/>
<line x1="235.3" y1="91.13" x2="237.5" y2="91.13" stroke="#ee5a68" stroke-width="0.8"/>
<line x1="233.5" y1="88.1" x2="237.5" y2="88.1" stroke="#ee5a68" stroke-width="0.8"/>
<line x1="235.3" y1="68.17" x2="237.5" y2="68.17" stroke="#ee5a68" stroke-width="0.8"/>
<line x1="235.3" y1="56.51" x2="237.5" y2="56.51" stroke="#ee5a68" stroke-width="0.8"/>
<line x1="235.3" y1="48.24" x2="237.5" y2="48.24" stroke="#ee5a68" stroke-width="0.8"/>
<line x1="235.3" y1="41.83" x2="237.5" y2="41.83" stroke="#ee5a68" stroke-width="0.8"/>
<line x1="235.3" y1="36.59" x2="237.5" y2="36.59" stroke="#ee5a68" stroke-width="0.8"/>
<line x1="235.3" y1="32.15" x2="237.5" y2="32.15" stroke="#ee5a68" stroke-width="0.8"/>
<line x1="235.3" y1="28.32" x2="237.5" y2="28.32" stroke="#ee5a68" stroke-width="0.8"/>
<line x1="235.3" y1="24.93" x2="237.5" y2="24.93" stroke="#ee5a68" stroke-width="0.8"/>
<line x1="233.5" y1="21.9" x2="237.5" y2="21.9" stroke="#ee5a68" stroke-width="0.8"/>
<line x1="417.5" y1="10.5" x2="417.5" y2="154.5" stroke="#4a7cc4" stroke-width="1"/>
<line x1="417.5" y1="154.5" x2="421.1" y2="154.5" stroke="#4a7cc4" stroke-width="0.8"/>
<line x1="417.5" y1="138.39" x2="419.5" y2="138.39" stroke="#4a7cc4" stroke-width="0.8"/>
<line x1="417.5" y1="128.97" x2="419.5" y2="128.97" stroke="#4a7cc4" stroke-width="0.8"/>
<line x1="417.5" y1="122.29" x2="419.5" y2="122.29" stroke="#4a7cc4" stroke-width="0.8"/>
<line x1="417.5" y1="117.11" x2="419.5" y2="117.11" stroke="#4a7cc4" stroke-width="0.8"/>
<line x1="417.5" y1="112.87" x2="419.5" y2="112.87" stroke="#4a7cc4" stroke-width="0.8"/>
<line x1="417.5" y1="109.29" x2="419.5" y2="109.29" stroke="#4a7cc4" stroke-width="0.8"/>
<line x1="417.5" y1="106.18" x2="419.5" y2="106.18" stroke="#4a7cc4" stroke-width="0.8"/>
<line x1="417.5" y1="103.45" x2="419.5" y2="103.45" stroke="#4a7cc4" stroke-width="0.8"/>
<line x1="417.5" y1="101" x2="421.1" y2="101" stroke="#4a7cc4" stroke-width="0.8"/>
<line x1="417.5" y1="84.89" x2="419.5" y2="84.89" stroke="#4a7cc4" stroke-width="0.8"/>
<line x1="417.5" y1="75.47" x2="419.5" y2="75.47" stroke="#4a7cc4" stroke-width="0.8"/>
<line x1="417.5" y1="68.79" x2="419.5" y2="68.79" stroke="#4a7cc4" stroke-width="0.8"/>
<line x1="417.5" y1="63.61" x2="419.5" y2="63.61" stroke="#4a7cc4" stroke-width="0.8"/>
<line x1="417.5" y1="59.37" x2="419.5" y2="59.37" stroke="#4a7cc4" stroke-width="0.8"/>
<line x1="417.5" y1="55.79" x2="419.5" y2="55.79" stroke="#4a7cc4" stroke-width="0.8"/>
<line x1="417.5" y1="52.68" x2="419.5" y2="52.68" stroke="#4a7cc4" stroke-width="0.8"/>
<line x1="417.5" y1="49.95" x2="419.5" y2="49.95" stroke="#4a7cc4" stroke-width="0.8"/>
<line x1="417.5" y1="47.5" x2="421.1" y2="47.5" stroke="#4a7cc4" stroke-width="0.8"/>
<line x1="417.5" y1="31.39" x2="419.5" y2="31.39" stroke="#4a7cc4" stroke-width="0.8"/>
<line x1="417.5" y1="21.97" x2="419.5" y2="21.97" stroke="#4a7cc4" stroke-width="0.8"/>
<line x1="417.5" y1="15.29" x2="419.5" y2="15.29" stroke="#4a7cc4" stroke-width="0.8"/>
<text x="426" y="157.6" font-size="8.4" fill="#3b6cb4">1</text>
<text x="425.4" y="104" font-size="8.4" fill="#3b6cb4">10</text>
<text x="425.4" y="50.6" font-size="8.4" fill="#3b6cb4">100</text>
<text x="228.2" y="82.9" font-size="8.4" text-anchor="middle" transform="rotate(-90 228.2 82.9)">Intensity a.u. (log)</text>
<text x="443.2" y="81.8" font-size="8.4" text-anchor="middle" transform="rotate(90 443.2 81.8)">FWHM (meV)</text>
<text x="327" y="181.6" font-size="8.4" text-anchor="middle">Pump fluence (μJ/cm<tspan font-size="5.6" dy="-3">2</tspan><tspan dy="3"> per pulse)</tspan></text>
<text x="244" y="44" font-size="7.0" fill="#2e4f96"><tspan font-style="italic">P</tspan><tspan font-size="5" dy="1.8">th</tspan><tspan dy="-1.8"> = 28.2 μJ/cm</tspan><tspan font-size="5" dy="-2.6">2</tspan><tspan dy="2.6"> per pulse</tspan></text>
<text x="244" y="55.8" font-size="7.0" fill="#2e4f96"><tspan font-style="italic">T</tspan> = 300 K</text>
<g fill="none" stroke="#e21d2a" stroke-width="1.15"><circle cx="251.81" cy="142.81" r="1.45"/><circle cx="254.32" cy="142.79" r="1.45"/><circle cx="255.46" cy="140.34" r="1.45"/><circle cx="258.15" cy="139.65" r="1.45"/><circle cx="259.12" cy="139.88" r="1.45"/><circle cx="261.42" cy="139.2" r="1.45"/><circle cx="262.72" cy="138.84" r="1.45"/><circle cx="264.6" cy="136.37" r="1.45"/><circle cx="266.71" cy="135.85" r="1.45"/><circle cx="268.22" cy="135.82" r="1.45"/><circle cx="270.55" cy="134.74" r="1.45"/><circle cx="272.27" cy="134.88" r="1.45"/><circle cx="274.33" cy="133.01" r="1.45"/><circle cx="275.36" cy="133.47" r="1.45"/><circle cx="277.97" cy="133.14" r="1.45"/><circle cx="279.83" cy="131.22" r="1.45"/><circle cx="280.83" cy="131.68" r="1.45"/><circle cx="282.34" cy="128.67" r="1.45"/><circle cx="284.31" cy="127.4" r="1.45"/><circle cx="286.23" cy="126.8" r="1.45"/><circle cx="288.63" cy="127.16" r="1.45"/><circle cx="290.98" cy="125.26" r="1.45"/><circle cx="292.25" cy="123.99" r="1.45"/><circle cx="294.2" cy="123.85" r="1.45"/><circle cx="295.48" cy="122.56" r="1.45"/><circle cx="297.38" cy="122.35" r="1.45"/><circle cx="299.27" cy="120.3" r="1.45"/><circle cx="301.62" cy="118.62" r="1.45"/><circle cx="303.48" cy="116.6" r="1.45"/><circle cx="305.43" cy="115.12" r="1.45"/><circle cx="306.62" cy="111.55" r="1.45"/><circle cx="308.83" cy="111.51" r="1.45"/><circle cx="311.08" cy="108.57" r="1.45"/><circle cx="312.55" cy="106.26" r="1.45"/><circle cx="314.25" cy="101.57" r="1.45"/><circle cx="316.29" cy="97.87" r="1.45"/><circle cx="317.63" cy="96.04" r="1.45"/><circle cx="319.42" cy="93.34" r="1.45"/><circle cx="321.16" cy="91.97" r="1.45"/><circle cx="323.52" cy="87.15" r="1.45"/><circle cx="324.23" cy="83.56" r="1.45"/><circle cx="326.49" cy="76.82" r="1.45"/><circle cx="328.42" cy="71.25" r="1.45"/><circle cx="330.94" cy="69.1" r="1.45"/><circle cx="332.23" cy="67.31" r="1.45"/><circle cx="333.95" cy="66.44" r="1.45"/><circle cx="335.28" cy="63.51" r="1.45"/><circle cx="336.77" cy="60.98" r="1.45"/><circle cx="338.48" cy="59.25" r="1.45"/><circle cx="339.75" cy="56.79" r="1.45"/><circle cx="342.12" cy="55.66" r="1.45"/><circle cx="343.58" cy="52.52" r="1.45"/><circle cx="345.94" cy="49.19" r="1.45"/><circle cx="347.62" cy="46.81" r="1.45"/><circle cx="349.36" cy="44.92" r="1.45"/><circle cx="350.54" cy="44.5" r="1.45"/><circle cx="352.42" cy="43.88" r="1.45"/><circle cx="354.33" cy="41.71" r="1.45"/><circle cx="357.1" cy="39.82" r="1.45"/><circle cx="358.66" cy="38.34" r="1.45"/><circle cx="359.91" cy="36.85" r="1.45"/><circle cx="361.38" cy="36.89" r="1.45"/><circle cx="363.53" cy="35.98" r="1.45"/><circle cx="364.6" cy="32.93" r="1.45"/><circle cx="367.07" cy="32.77" r="1.45"/><circle cx="369.08" cy="31.6" r="1.45"/><circle cx="370.86" cy="31.35" r="1.45"/><circle cx="373.39" cy="30.31" r="1.45"/><circle cx="373.9" cy="30.12" r="1.45"/><circle cx="376.46" cy="28.5" r="1.45"/><circle cx="378.64" cy="27.49" r="1.45"/><circle cx="380.92" cy="27.38" r="1.45"/><circle cx="382.45" cy="25.57" r="1.45"/><circle cx="384.4" cy="24.3" r="1.45"/><circle cx="386.19" cy="23.75" r="1.45"/><circle cx="388.45" cy="24.07" r="1.45"/><circle cx="390" cy="21.69" r="1.45"/><circle cx="391.73" cy="22.24" r="1.45"/><circle cx="392.86" cy="22.69" r="1.45"/><circle cx="395.63" cy="21.78" r="1.45"/><circle cx="397.09" cy="20.23" r="1.45"/><circle cx="398.06" cy="18.82" r="1.45"/><circle cx="400.06" cy="20.69" r="1.45"/><circle cx="401.64" cy="20.57" r="1.45"/><circle cx="403.33" cy="19.45" r="1.45"/><circle cx="404.95" cy="18.93" r="1.45"/><circle cx="407.37" cy="18.75" r="1.45"/><circle cx="408.65" cy="17.76" r="1.45"/><circle cx="410.99" cy="18.04" r="1.45"/><circle cx="412.81" cy="17.52" r="1.45"/><circle cx="414.64" cy="18.6" r="1.45"/><circle cx="416.3" cy="17.9" r="1.45"/></g>
<g fill="#6c8ccc" stroke="#1f4ea2" stroke-width="1.05"><circle cx="251.6" cy="25.77" r="1.45"/><circle cx="253.86" cy="24.46" r="1.45"/><circle cx="255.55" cy="24.36" r="1.45"/><circle cx="257.7" cy="23.84" r="1.45"/><circle cx="260.09" cy="23.68" r="1.45"/><circle cx="262.03" cy="23.19" r="1.45"/><circle cx="263.86" cy="24.06" r="1.45"/><circle cx="265.87" cy="24.47" r="1.45"/><circle cx="267.61" cy="25.68" r="1.45"/><circle cx="269.69" cy="25.71" r="1.45"/><circle cx="272.09" cy="26.22" r="1.45"/><circle cx="273.72" cy="25.54" r="1.45"/><circle cx="275.95" cy="25.08" r="1.45"/><circle cx="278.11" cy="25.26" r="1.45"/><circle cx="279.95" cy="26.66" r="1.45"/><circle cx="282.02" cy="26.65" r="1.45"/><circle cx="283.78" cy="26.64" r="1.45"/><circle cx="285.82" cy="26.65" r="1.45"/><circle cx="291" cy="26.34" r="1.45"/><circle cx="293.4" cy="26.51" r="1.45"/><circle cx="295.33" cy="26.06" r="1.45"/><circle cx="297.05" cy="26.92" r="1.45"/><circle cx="298.74" cy="26.36" r="1.45"/><circle cx="300.47" cy="27.11" r="1.45"/><circle cx="302.73" cy="27.53" r="1.45"/><circle cx="297.6" cy="31.57" r="1.45"/><circle cx="299.21" cy="32.81" r="1.45"/><circle cx="301.07" cy="33.19" r="1.45"/><circle cx="302.95" cy="32.99" r="1.45"/><circle cx="304.76" cy="33.2" r="1.45"/><circle cx="307.09" cy="34.15" r="1.45"/><circle cx="308.97" cy="34.35" r="1.45"/><circle cx="310.88" cy="34.3" r="1.45"/><circle cx="313.19" cy="35.46" r="1.45"/><circle cx="315.56" cy="36.01" r="1.45"/><circle cx="317.65" cy="36.42" r="1.45"/><circle cx="321.2" cy="45.2" r="1.45"/><circle cx="321.4" cy="45.4" r="1.45"/><circle cx="323.4" cy="56.6" r="1.45"/><circle cx="324.4" cy="57" r="1.45"/><circle cx="323.6" cy="138.12" r="1.45"/><circle cx="325.88" cy="137.73" r="1.45"/><circle cx="328.2" cy="138.7" r="1.45"/><circle cx="330.05" cy="138.72" r="1.45"/><circle cx="332.41" cy="138.67" r="1.45"/><circle cx="334.77" cy="138.44" r="1.45"/><circle cx="336.69" cy="139.07" r="1.45"/><circle cx="338.46" cy="138.63" r="1.45"/><circle cx="340.76" cy="138.91" r="1.45"/><circle cx="343" cy="138.69" r="1.45"/><circle cx="344.74" cy="138.68" r="1.45"/><circle cx="346.49" cy="139.27" r="1.45"/><circle cx="348.32" cy="138.62" r="1.45"/><circle cx="350.01" cy="138.44" r="1.45"/><circle cx="351.92" cy="138.12" r="1.45"/><circle cx="353.57" cy="137.65" r="1.45"/><circle cx="355.83" cy="137.73" r="1.45"/><circle cx="357.63" cy="137.44" r="1.45"/><circle cx="359.45" cy="137.41" r="1.45"/><circle cx="361.08" cy="137.84" r="1.45"/><circle cx="362.95" cy="137.14" r="1.45"/><circle cx="365.12" cy="136.95" r="1.45"/><circle cx="366.94" cy="137.75" r="1.45"/><circle cx="368.64" cy="137.2" r="1.45"/><circle cx="370.91" cy="137.52" r="1.45"/><circle cx="372.63" cy="136.89" r="1.45"/><circle cx="374.81" cy="136.81" r="1.45"/><circle cx="377.18" cy="136.48" r="1.45"/><circle cx="379.54" cy="136.72" r="1.45"/><circle cx="381.32" cy="136.57" r="1.45"/><circle cx="383.03" cy="136.83" r="1.45"/><circle cx="384.83" cy="137.03" r="1.45"/><circle cx="386.9" cy="136.36" r="1.45"/><circle cx="388.7" cy="136.63" r="1.45"/><circle cx="390.47" cy="136.92" r="1.45"/><circle cx="392.17" cy="136.46" r="1.45"/><circle cx="394.2" cy="136.14" r="1.45"/><circle cx="396.42" cy="136.21" r="1.45"/><circle cx="398.55" cy="136.34" r="1.45"/><circle cx="400.4" cy="136.06" r="1.45"/><circle cx="402.06" cy="135.73" r="1.45"/><circle cx="404.35" cy="135.82" r="1.45"/><circle cx="406.48" cy="135.48" r="1.45"/><circle cx="408.53" cy="135.63" r="1.45"/><circle cx="410.53" cy="135.31" r="1.45"/><circle cx="412.18" cy="135.13" r="1.45"/><circle cx="413.96" cy="134.69" r="1.45"/><circle cx="416.13" cy="134.62" r="1.45"/></g>
<ellipse cx="277" cy="132.6" rx="2.3" ry="9.6" fill="none" stroke="#333" stroke-width="0.6"/>
<path d="M276.5,123.4 C275.5,121 272,120 268.6,119.6" fill="none" stroke="#333" stroke-width="0.6"/>
<path d="M267.2,119.3 L270.2,117.9 L269.6,120.6 Z" fill="#222"/>
<ellipse cx="383.6" cy="136.6" rx="2.6" ry="9.2" fill="none" stroke="#333" stroke-width="0.6"/>
<path d="M384,127.4 C385,124 388,122 392,121.6" fill="none" stroke="#333" stroke-width="0.6"/>
<path d="M394.4,120.8 L391.2,120.2 L392.2,123.1 Z" fill="#222"/>
<text x="467.6" y="10.6" font-size="15" font-weight="bold">c</text>
<polyline points="503.5,20.05 505,20.32 506.5,20.18 508,20.18 509.5,20.36 511,20.1 512.5,20.38 514,20.2 515.5,20.25 517,20.38 518.5,20.14 520,20.44 521.5,20.22 523,20.32 524.5,20.41 526,20.2 527.5,20.49 529,20.24 530.5,20.39 532,20.43 533.5,20.26 535,20.54 536.5,20.27 538,20.46 539.5,20.45 541,20.32 541.35,20.4 541.7,20.49 542.05,20.56 542.4,20.53 542.75,19.95 543.1,17.6 543.45,14.28 543.8,14.55 544.15,17.87 544.5,19.86 544.85,20.34 545.2,20.46 545.55,20.54 545.9,20.6 546.25,20.6 546.6,20.55 548.1,20.32 549.6,20.62 551.1,20.39 552.6,20.51 554.1,20.58 555.6,20.38 557.1,20.67 558.6,20.42 560.1,20.58 561.6,20.6 563.1,20.44 564.6,20.72 566.1,20.45 567.6,20.65 569.1,20.61 570.6,20.5 572.1,20.76 573.6,20.48 575.1,20.72 576.6,20.63 578.1,20.57" fill="none" stroke="#ee6a6a" stroke-width="0.9" stroke-linejoin="round"/>
<text x="568" y="19.8" font-size="7.1" fill="#111" text-anchor="middle">300 K</text>
<polyline points="503.5,33.85 505,34.12 506.5,33.98 508,33.98 509.5,34.16 511,33.9 512.5,34.18 514,34 515.5,34.05 517,34.18 518.5,33.94 520,34.24 521.5,34.02 523,34.12 524.5,34.21 526,34 527.5,34.29 529,34.04 530.5,34.19 532,34.23 533.5,34.06 535,34.34 536.5,34.07 538,34.26 539.5,34.25 539.85,34.16 540.2,34.02 540.55,33.27 540.9,30.29 541.25,26.1 541.6,26.64 541.95,31.14 542.3,33.78 542.65,34.32 543,34.31 543.35,34.23 543.7,34.15 544.05,34.1 544.4,34.1 545.9,34.4 547.4,34.17 548.9,34.28 550.4,34.36 551.9,34.16 553.4,34.45 554.9,34.2 556.4,34.36 557.9,34.38 559.4,34.22 560.9,34.49 562.4,34.22 563.9,34.43 565.4,34.39 566.9,34.28 568.4,34.54 569.9,34.26 571.4,34.5 572.9,34.41 574.4,34.35 575.9,34.57 577.4,34.3 578.9,34.56" fill="none" stroke="#f0a050" stroke-width="0.9" stroke-linejoin="round"/>
<text x="568" y="33.6" font-size="7.1" fill="#111" text-anchor="middle">250 K</text>
<polyline points="503.5,44.65 505,44.92 506.5,44.78 508,44.78 509.5,44.96 511,44.7 512.5,44.98 514,44.8 515.5,44.85 517,44.98 518.5,44.74 520,45.04 521.5,44.82 523,44.92 524.5,45.01 526,44.8 527.5,45.09 529,44.84 530.5,44.99 532,45.03 533.5,44.86 535,45.14 536.5,44.87 538,45.06 538.35,45.08 538.7,44.56 539.05,41.9 539.4,37.36 539.75,36.81 540.1,41.06 540.45,44.07 540.8,44.81 541.15,44.95 541.5,45.04 541.85,45.12 542.2,45.17 542.55,45.18 542.9,45.13 544.4,44.9 545.9,45.2 547.4,44.97 548.9,45.08 550.4,45.16 551.9,44.96 553.4,45.25 554.9,45 556.4,45.16 557.9,45.18 559.4,45.02 560.9,45.29 562.4,45.02 563.9,45.23 565.4,45.19 566.9,45.08 568.4,45.34 569.9,45.06 571.4,45.3 572.9,45.21 574.4,45.15 575.9,45.37 577.4,45.1 578.9,45.36" fill="none" stroke="#c8d860" stroke-width="0.9" stroke-linejoin="round"/>
<text x="568" y="43.8" font-size="7.1" fill="#111" text-anchor="middle">200 K</text>
<polyline points="503.5,55.75 505,56.02 506.5,55.88 508,55.88 509.5,56.06 511,55.8 512.5,56.08 514,55.9 515.5,55.95 517,56.08 518.5,55.84 520,56.14 521.5,55.92 523,56.02 524.5,56.11 526,55.9 527.5,56.19 529,55.94 530.5,56.09 532,56.13 533.5,55.96 535,56.24 535.35,56.21 535.7,56.15 536.05,56.04 536.4,55.72 536.75,54.15 537.1,50.54 537.45,48.79 537.8,51.81 538.15,55.06 538.5,56.12 538.85,56.25 539.2,56.21 539.55,56.13 539.9,56.05 540.25,55.99 540.6,55.97 542.1,56.26 543.6,56.07 545.1,56.13 546.6,56.25 548.1,56.02 549.6,56.32 551.1,56.09 552.6,56.21 554.1,56.28 555.6,56.08 557.1,56.37 558.6,56.12 560.1,56.28 561.6,56.3 563.1,56.14 564.6,56.42 566.1,56.15 567.6,56.35 569.1,56.31 570.6,56.2 572.1,56.46 573.6,56.18 575.1,56.42 576.6,56.33 578.1,56.27" fill="none" stroke="#62b89c" stroke-width="0.9" stroke-linejoin="round"/>
<text x="568" y="55.4" font-size="7.1" fill="#111" text-anchor="middle">150 K</text>
<polyline points="503.5,70.25 505,70.52 506.5,70.38 508,70.38 509.5,70.56 511,70.3 512.5,70.58 514,70.4 515.5,70.45 517,70.58 518.5,70.34 520,70.64 521.5,70.42 523,70.52 524.5,70.61 526,70.4 527.5,70.69 529,70.44 530.5,70.59 532,70.63 533.5,70.46 533.85,70.5 534.2,70.25 534.55,68.22 534.9,63.31 535.25,60.81 535.6,64.78 535.95,69.03 536.3,70.32 536.65,70.45 537,70.46 537.35,70.51 537.7,70.59 538.05,70.68 538.4,70.74 539.9,70.55 541.4,70.61 542.9,70.73 544.4,70.5 545.9,70.8 547.4,70.57 548.9,70.68 550.4,70.76 551.9,70.56 553.4,70.85 554.9,70.6 556.4,70.76 557.9,70.78 559.4,70.62 560.9,70.89 562.4,70.62 563.9,70.83 565.4,70.79 566.9,70.68 568.4,70.94 569.9,70.66 571.4,70.9 572.9,70.81 574.4,70.75 575.9,70.97 577.4,70.7 578.9,70.96" fill="none" stroke="#3f7fcc" stroke-width="0.9" stroke-linejoin="round"/>
<text x="568" y="69.6" font-size="7.1" fill="#111" text-anchor="middle">100 K</text>
<polyline points="503.5,81.75 505,82.02 506.5,81.88 508,81.88 509.5,82.06 511,81.8 512.5,82.08 514,81.9 515.5,81.95 517,82.08 518.5,81.84 520,82.14 521.5,81.92 523,82.02 524.5,82.11 526,81.9 527.5,82.19 529,81.94 530.5,82.09 532,82.13 532.35,82.02 532.7,81.63 533.05,79.63 533.4,75.04 533.75,72.78 534.1,76.61 534.45,80.73 534.8,82.06 535.15,82.23 535.5,82.19 535.85,82.11 536.2,82.03 536.55,81.97 536.9,81.95 538.4,82.24 539.9,82.05 541.4,82.11 542.9,82.23 544.4,82 545.9,82.3 547.4,82.07 548.9,82.18 550.4,82.26 551.9,82.06 553.4,82.35 554.9,82.1 556.4,82.26 557.9,82.28 559.4,82.12 560.9,82.39 562.4,82.12 563.9,82.33 565.4,82.29 566.9,82.18 568.4,82.44 569.9,82.16 571.4,82.4 572.9,82.31 574.4,82.25 575.9,82.47 577.4,82.2 578.9,82.46" fill="none" stroke="#4a5fb4" stroke-width="0.9" stroke-linejoin="round"/>
<text x="568" y="80.7" font-size="7.1" fill="#111" text-anchor="middle">50 K</text>
<polyline points="503.5,93.75 505,94.02 506.5,93.88 508,93.88 509.5,94.06 511,93.8 512.5,94.08 514,93.9 515.5,93.95 517,94.08 518.5,93.84 520,94.14 521.5,93.92 523,94.02 524.5,94.11 526,93.9 527.5,94.19 529,93.94 530.5,94.09 530.85,94.17 531.2,94.18 531.55,93.74 531.9,91.38 532.25,86.66 532.6,85.18 532.95,89.28 533.3,92.84 533.65,93.87 534,94.06 534.35,94.15 534.7,94.22 535.05,94.24 535.4,94.21 535.75,94.14 537.25,93.99 538.75,94.26 540.25,93.99 541.75,94.2 543.25,94.15 544.75,94.05 546.25,94.3 547.75,94.02 549.25,94.27 550.75,94.17 552.25,94.12 553.75,94.34 555.25,94.06 556.75,94.33 558.25,94.19 559.75,94.19 561.25,94.37 562.75,94.11 564.25,94.39 565.75,94.21 567.25,94.26 568.75,94.39 570.25,94.15 571.75,94.45 573.25,94.23 574.75,94.33 576.25,94.42 577.75,94.21 579.25,94.5" fill="none" stroke="#9a70b8" stroke-width="0.9" stroke-linejoin="round"/>
<text x="568" y="92.8" font-size="7.1" fill="#111" text-anchor="middle">5 K</text>
<line x1="503.5" y1="99.5" x2="579.5" y2="99.5" stroke="#333" stroke-width="1"/>
<line x1="579.5" y1="10.5" x2="579.5" y2="99.5" stroke="#333" stroke-width="1"/>
<line x1="512.57" y1="99.5" x2="512.57" y2="100.5" stroke="#333" stroke-width="0.7"/>
<line x1="519.9" y1="99.5" x2="519.9" y2="101.3" stroke="#333" stroke-width="0.7"/>
<line x1="527.23" y1="99.5" x2="527.23" y2="100.5" stroke="#333" stroke-width="0.7"/>
<line x1="534.57" y1="99.5" x2="534.57" y2="100.5" stroke="#333" stroke-width="0.7"/>
<line x1="541.9" y1="99.5" x2="541.9" y2="101.3" stroke="#333" stroke-width="0.7"/>
<line x1="549.23" y1="99.5" x2="549.23" y2="100.5" stroke="#333" stroke-width="0.7"/>
<line x1="556.57" y1="99.5" x2="556.57" y2="100.5" stroke="#333" stroke-width="0.7"/>
<line x1="563.9" y1="99.5" x2="563.9" y2="101.3" stroke="#333" stroke-width="0.7"/>
<line x1="571.23" y1="99.5" x2="571.23" y2="100.5" stroke="#333" stroke-width="0.7"/>
<text x="519.9" y="108.8" font-size="6.5" text-anchor="middle" font-weight="bold">1500</text>
<text x="541.9" y="108.8" font-size="6.5" text-anchor="middle" font-weight="bold">1530</text>
<text x="563.9" y="108.8" font-size="6.5" text-anchor="middle" font-weight="bold">1560</text>
<text x="542.2" y="116.4" font-size="7.0" text-anchor="middle">Wavelength (nm)</text>
<text x="511.6" y="56.3" font-size="7.0" text-anchor="middle" transform="rotate(-90 511.6 56.3)">Normalized Intensity</text>
<line x1="503.5" y1="10.5" x2="683.5" y2="10.5" stroke="#444" stroke-width="1"/>
<line x1="683.5" y1="10.5" x2="683.5" y2="155.5" stroke="#777" stroke-width="1"/>
<line x1="503.5" y1="155.5" x2="683.5" y2="155.5" stroke="#444" stroke-width="1"/>
<line x1="503.5" y1="10" x2="503.5" y2="156" stroke="#444" stroke-width="1"/>
<line x1="501.7" y1="154.12" x2="503.5" y2="154.12" stroke="#444" stroke-width="0.8"/>
<line x1="501.7" y1="139.28" x2="503.5" y2="139.28" stroke="#444" stroke-width="0.8"/>
<line x1="501.7" y1="128.75" x2="503.5" y2="128.75" stroke="#444" stroke-width="0.8"/>
<line x1="501.7" y1="120.58" x2="503.5" y2="120.58" stroke="#444" stroke-width="0.8"/>
<line x1="501.7" y1="113.9" x2="503.5" y2="113.9" stroke="#444" stroke-width="0.8"/>
<line x1="501.7" y1="108.26" x2="503.5" y2="108.26" stroke="#444" stroke-width="0.8"/>
<line x1="501.7" y1="103.37" x2="503.5" y2="103.37" stroke="#444" stroke-width="0.8"/>
<line x1="501.7" y1="99.06" x2="503.5" y2="99.06" stroke="#444" stroke-width="0.8"/>
<line x1="500.5" y1="95.2" x2="503.5" y2="95.2" stroke="#444" stroke-width="0.8"/>
<line x1="501.7" y1="69.82" x2="503.5" y2="69.82" stroke="#444" stroke-width="0.8"/>
<line x1="501.7" y1="54.98" x2="503.5" y2="54.98" stroke="#444" stroke-width="0.8"/>
<line x1="501.7" y1="44.45" x2="503.5" y2="44.45" stroke="#444" stroke-width="0.8"/>
<line x1="501.7" y1="36.28" x2="503.5" y2="36.28" stroke="#444" stroke-width="0.8"/>
<line x1="501.7" y1="29.6" x2="503.5" y2="29.6" stroke="#444" stroke-width="0.8"/>
<line x1="501.7" y1="23.96" x2="503.5" y2="23.96" stroke="#444" stroke-width="0.8"/>
<line x1="501.7" y1="19.07" x2="503.5" y2="19.07" stroke="#444" stroke-width="0.8"/>
<line x1="501.7" y1="14.76" x2="503.5" y2="14.76" stroke="#444" stroke-width="0.8"/>
<line x1="500.5" y1="10.9" x2="503.5" y2="10.9" stroke="#444" stroke-width="0.8"/>
<text x="498.2" y="13.8" font-size="8.4" text-anchor="end">100</text>
<text x="498.2" y="98.3" font-size="8.4" text-anchor="end">10</text>
<line x1="514.1" y1="155.5" x2="514.1" y2="158.5" stroke="#444" stroke-width="0.8"/>
<line x1="527.29" y1="155.5" x2="527.29" y2="157.1" stroke="#444" stroke-width="0.8"/>
<line x1="540.49" y1="155.5" x2="540.49" y2="158.5" stroke="#444" stroke-width="0.8"/>
<line x1="553.68" y1="155.5" x2="553.68" y2="157.1" stroke="#444" stroke-width="0.8"/>
<line x1="566.87" y1="155.5" x2="566.87" y2="158.5" stroke="#444" stroke-width="0.8"/>
<line x1="580.06" y1="155.5" x2="580.06" y2="157.1" stroke="#444" stroke-width="0.8"/>
<line x1="593.25" y1="155.5" x2="593.25" y2="158.5" stroke="#444" stroke-width="0.8"/>
<line x1="606.45" y1="155.5" x2="606.45" y2="157.1" stroke="#444" stroke-width="0.8"/>
<line x1="619.64" y1="155.5" x2="619.64" y2="158.5" stroke="#444" stroke-width="0.8"/>
<line x1="632.83" y1="155.5" x2="632.83" y2="157.1" stroke="#444" stroke-width="0.8"/>
<line x1="646.02" y1="155.5" x2="646.02" y2="158.5" stroke="#444" stroke-width="0.8"/>
<line x1="659.22" y1="155.5" x2="659.22" y2="157.1" stroke="#444" stroke-width="0.8"/>
<line x1="672.41" y1="155.5" x2="672.41" y2="158.5" stroke="#444" stroke-width="0.8"/>
<text x="514.1" y="168.3" font-size="8.4" text-anchor="middle">0</text>
<text x="540.49" y="168.3" font-size="8.4" text-anchor="middle">50</text>
<text x="566.87" y="168.3" font-size="8.4" text-anchor="middle">100</text>
<text x="593.25" y="168.3" font-size="8.4" text-anchor="middle">150</text>
<text x="619.64" y="168.3" font-size="8.4" text-anchor="middle">200</text>
<text x="646.02" y="168.3" font-size="8.4" text-anchor="middle">250</text>
<text x="672.41" y="168.3" font-size="8.4" text-anchor="middle">300</text>
<text x="594.3" y="179" font-size="8.4" text-anchor="middle">Temperature (K)</text>
<text x="478.4" y="88" font-size="8.9" text-anchor="middle" transform="rotate(-90 478.4 88)"><tspan font-style="italic">P</tspan><tspan font-size="5.9" dy="1.9">th</tspan><tspan dy="-1.9"> (μJ/cm</tspan><tspan font-size="5.9" dy="-3.2">2</tspan><tspan dy="3.2"> per pulse) (log)</tspan></text>
<line x1="522.8" y1="145.4" x2="671.4" y2="54.8" stroke="#333" stroke-width="2.1" stroke-dasharray="8.2 8.2"/>
<text x="616.8" y="131.2" font-size="9.5" fill="#2f3f7e"><tspan font-style="italic">T</tspan><tspan font-size="6.6" dy="2.3">0</tspan><tspan dy="-2.3"> =&#160; 128 K</tspan></text>
<circle cx="517.44" cy="121.1" r="3.3" fill="url(#sph)"/>
<circle cx="541.19" cy="130.9" r="3.3" fill="url(#sph)"/>
<circle cx="567.57" cy="119.3" r="3.3" fill="url(#sph)"/>
<circle cx="593.96" cy="108.7" r="3.3" fill="url(#sph)"/>
<circle cx="620.34" cy="96.2" r="3.3" fill="url(#sph)"/>
<circle cx="646.73" cy="78.2" r="3.3" fill="url(#sph)"/>
<circle cx="673.11" cy="57" r="3.3" fill="url(#sph)"/>
<text x="6.6" y="215.6" font-size="15" font-weight="bold">d</text>
<rect x="26.5" y="211.5" width="19.8" height="145" fill="#e7e0ee"/>
<rect x="46.3" y="211.5" width="78.6" height="145" fill="#e0eff1"/>
<rect x="124.9" y="211.5" width="54.2" height="145" fill="#edf4e8"/>
<rect x="179.1" y="211.5" width="27.4" height="145" fill="#fbe4ec"/>
<text x="28.8" y="222.1" font-size="7.0" fill="#222">O-band</text>
<text x="88.7" y="222.1" font-size="7.0" fill="#222" text-anchor="middle">E-band</text>
<text x="154.3" y="222.1" font-size="7.0" fill="#222" text-anchor="middle">S-band</text>
<text x="193.2" y="222.1" font-size="7.0" fill="#222" text-anchor="middle">C-band</text>
<polyline points="27,353.4 27.8,353.53 28.6,354.02 29.4,354.19 30.2,353.13 31,353.07 31.8,352.37 32.6,353.01 33.4,352.94 34.2,352.7 35,353.12 35.8,353.78 36.6,353.98 37.4,353.24 38.2,353.77 39,352.73 39.8,352.9 40.6,352.3 41.4,352.45 42.2,348.45 42.3,342.26 42.4,331.96 42.5,315.63 42.6,294.84 42.7,270.95 42.8,247.97 42.9,231.18 43,225 43.1,231.17 43.2,248.01 43.3,271.24 43.4,295.05 43.5,316.59 43.6,332.03 43.7,342.53 43.8,347.91 43.9,351.24 44,353.01 44.1,353.12 44.2,352.83 44.3,354.05 44.4,353.96 44.5,353.25 45.3,352.6 46.1,353.39 46.9,352.86 47.7,352.13 48.5,352.68 49.3,352.84 50.1,354.06 50.9,353.28 51.7,354.06 52.5,353.49 53.3,352.25 54.1,352.97 54.9,352.67 55.7,353.48 56.5,353.94 57.3,353.38 58.1,353.08 58.9,354.02 59.7,352.93 60.5,353.37 61.3,352.98 62.1,353.23 62.9,353.69 63.7,353.73" fill="none" stroke="#a08cc8" stroke-width="1.3" stroke-linejoin="round"/>
<polyline points="44,353.41 44.8,352.62 45.6,353.18 46.4,352.5 47.2,352.52 48,353.25 48.8,352.45 49.6,353.67 50.4,352.85 51.2,353.72 52,353.59 52.8,352.47 53.6,352.62 54.4,353.17 55.2,352.92 56,353.13 56.8,352.47 56.9,350.45 57,345.26 57.1,331.64 57.2,305.94 57.3,271.01 57.4,238.46 57.5,225 57.6,238.54 57.7,270.98 57.8,305.99 57.9,331.78 58,345.41 58.1,351.7 58.2,352.67 58.3,353.02 58.4,353.9 58.5,352.84 58.6,353.4 58.7,353.04 58.8,353.68 58.9,353.26 59,353.52 59.1,352.64 59.9,352.99 60.7,352.67 61.5,352.48 62.3,353.14 63.1,353.58 63.9,352.87 64.7,353.2 65.5,353.14 66.3,352.6 67.1,352.06 67.9,352.2 68.7,352.15 69.5,353.14 70.3,353.14 71.1,352.92 71.9,353.23 72.7,353.21 73.5,352.72 74.3,352.14 75.1,351.9 75.9,351.95 76.7,353.65 77.5,353.65 78.3,352.91 79.1,353.74 79.9,353.84 80.7,352.91 81.5,352.01" fill="none" stroke="#5a7cc0" stroke-width="1.0" stroke-linejoin="round"/>
<polyline points="74,353.29 74.8,353.02 75.6,352.73 76.4,353.49 77.2,353.09 78,354.63 78.8,354.29 79.6,354.07 80.4,354.16 81.2,353.45 82,352.75 82.8,352.86 83.6,353.02 84.4,353.21 85.2,354.46 86,354.53 86.8,353.52 87.6,353.01 88.4,353.37 89.2,353.59 90,353.88 90.8,353.16 91.6,354.34 92.4,354 92.5,352.07 92.6,345.84 92.7,331.91 92.8,306.88 92.9,271.22 93,238.55 93.1,225 93.2,238.55 93.3,271.45 93.4,306.28 93.5,331.59 93.6,345.95 93.7,351.65 93.8,353.69 93.9,353.94 94,354.26 94.1,354.29 94.2,353.61 94.3,353.58 94.4,353.05 94.5,353.21 94.6,353.56 94.7,352.81 95.5,353.41 96.3,352.65 97.1,353.25 97.9,354.33 98.7,353.41 99.5,353.46 100.3,353.89 101.1,353.23 101.9,353.63 102.7,352.42 103.5,353.63 104.3,353.91 105.1,354.17 105.9,353.93 106.7,353.79 107.5,354.12 108.3,353.58 109.1,353.13 109.9,352.87 110.7,353.12 111.5,353.74 112.3,354.31 113.1,354.64 113.9,353.59" fill="none" stroke="#5aa6d8" stroke-width="1.0" stroke-linejoin="round"/>
<polyline points="116.4,353.47 117.2,353.63 118,354 118.8,354.04 119.6,354.14 120.4,354.12 121.2,354.34 122,354.22 122.8,354.59 123.6,354.29 124.4,354.26 125.2,354.66 126,355 126.8,354.79 127.6,355.13 128.4,353.9 129.2,354.43 130,354.01 130.8,353.42 131.6,353.9 132.4,354.72 133.2,354.41 134,354.88 134.8,354.39 134.9,354.43 135,355.17 135.1,353.94 135.2,354.14 135.3,354.79 135.4,354.42 135.5,353.78 135.6,354.1 135.7,351.85 135.8,346.41 135.9,332.35 136,306.74 136.1,271.4 136.2,238.57 136.3,225 136.4,238.53 136.5,271.5 136.6,306.58 136.7,331.71 136.8,346.38 136.9,351.18 137,352.73 137.1,353.76 137.2,353.43 137.3,353.75 137.4,353.82 137.5,353.35 137.6,353.82 137.7,353.16 137.8,353.72 137.9,353.82 138.7,353.24 139.5,354.01 140.3,353.89 141.1,354.6 141.9,355.15 142.7,354.45 143.5,354.33 144.3,354.12 145.1,353.17 145.9,354.59 146.7,354.55 147.5,354 148.3,355.16 149.1,354.44 149.9,353.83 150.7,354.59 151.5,353.81 152.3,354.13 153.1,353.48 153.9,354.72 154.7,354" fill="none" stroke="#78b878" stroke-width="1.0" stroke-linejoin="round"/>
<polyline points="153,353.98 153.8,354.52 154.6,354.32 155.4,355.23 155.5,354.69 155.6,354.81 155.7,355.36 155.8,354.95 155.9,355.56 156,355.08 156.1,354.94 156.2,352.66 156.3,347.39 156.4,333.37 156.5,306.79 156.6,271.7 156.7,238.62 156.8,225 156.9,238.66 157,271.68 157.1,306.58 157.2,332.5 157.3,346.76 157.4,352.7 157.5,354.17 157.6,353.63 157.7,354.46 157.8,353.74 157.9,354.33 158,354.66 158.1,353.66 158.2,354.77 158.3,354.4 158.4,353.79 159.2,353.7 160,354.28 160.8,355.18 161.6,355.11 162.4,354.56 163.2,354.28 164,354.08 164.8,354.71 165.6,353.67 166.4,354.25 167.2,354.15 168,355.06 168.8,354.88 169.6,354.58 170.4,355.4 171.2,354.58 172,354.49 172.8,354.53 173.6,354.86 174.4,353.86 175.2,354.66" fill="none" stroke="#a8d47c" stroke-width="1.0" stroke-linejoin="round"/>
<polyline points="150.4,349.2 151.2,349.82 152,349.33 152.8,350.18 153.6,350.19 154.4,350.89 155.2,351.18 156,350.48 156.8,350.91 157.6,351.61 158.4,351.36 159.2,351.98 160,352.66 160.8,352.75 161.6,352.99 162.4,352.61 163.2,353.26 164,352.59 164.8,351.82 165.6,352.25 166.4,353.05 167.2,352.01 168,352.5 168.8,353.49 169.6,352.95 169.7,352.85 169.8,352.7 169.9,350.55 170,345.32 170.1,331.54 170.2,306.41 170.3,271.22 170.4,238.4 170.5,225 170.6,238.5 170.7,271.1 170.8,306.1 170.9,331.41 171,345.05 171.1,350.25 171.2,351.87 171.3,352.99 171.4,353.15 171.5,353.21 171.6,352.81 171.7,352.25 171.8,352.85 171.9,352.79 172,352.43 172.8,352.49 173.6,352.22 174.4,352.81 175.2,352.95 176,352.67 176.8,353.02 177.6,352.74 178.4,353.32 179.2,352.34 180,352.12 180.8,352.14 181.6,352.47 182.4,352.95 183.2,352.79 184,352.5 184.8,353.41 185.6,352.48 186.4,352.25 187.2,352.44 188,352.31 188.8,352.47 189.6,352.61 190.4,353.02 191.2,352.86" fill="none" stroke="#f0a060" stroke-width="1.0" stroke-linejoin="round"/>
<polyline points="169,353.6 169.8,353.32 170.6,353.61 171.4,352.42 172.2,352.96 173,352.43 173.8,351.91 174.6,352.38 175.4,353.26 176.2,353.98 177,353 177.8,353.28 178.6,352.45 179.4,352.84 180.2,351.73 181,352.56 181.8,353.49 182.6,352.9 183.4,352.96 184.2,352.46 185,352.33 185.8,352.15 186.6,352.59 187.4,351.99 188.2,352.42 188.3,351.74 188.4,350.56 188.5,345.33 188.6,331.41 188.7,305.57 188.8,271.02 188.9,238.53 189,225 189.1,238.4 189.2,271.12 189.3,306.33 189.4,331.32 189.5,344.75 189.6,350.44 189.7,352.74 189.8,353.68 189.9,353.46 190,353.88 190.1,352.89 190.2,353.06 190.3,353.65 190.4,353.5 190.5,353.15 191.3,353.34 192.1,352.52 192.9,351.81 193.7,352.18 194.5,351.78 195.3,352.9 196.1,352.83 196.9,353.27 197.7,353.39 198.5,352.66 199.3,352.6 200.1,351.69 200.9,352.9 201.7,352.57 202.5,353.5 203.3,352.52 204.1,353.46 204.9,353.52 205.7,352.67" fill="none" stroke="#f07c84" stroke-width="1.0" stroke-linejoin="round"/>
<line x1="26.5" y1="211.5" x2="206.5" y2="211.5" stroke="#777" stroke-width="1"/>
<line x1="206.5" y1="211.5" x2="206.5" y2="356.5" stroke="#777" stroke-width="1"/>
<line x1="26.5" y1="211.5" x2="26.5" y2="356.5" stroke="#444" stroke-width="1"/>
<line x1="26" y1="356.5" x2="206.5" y2="356.5" stroke="#333" stroke-width="1"/>
<line x1="23.5" y1="224.9" x2="26.5" y2="224.9" stroke="#444" stroke-width="0.8"/>
<line x1="24.7" y1="238.06" x2="26.5" y2="238.06" stroke="#444" stroke-width="0.8"/>
<line x1="23.5" y1="251.22" x2="26.5" y2="251.22" stroke="#444" stroke-width="0.8"/>
<line x1="24.7" y1="264.38" x2="26.5" y2="264.38" stroke="#444" stroke-width="0.8"/>
<line x1="23.5" y1="277.54" x2="26.5" y2="277.54" stroke="#444" stroke-width="0.8"/>
<line x1="24.7" y1="290.7" x2="26.5" y2="290.7" stroke="#444" stroke-width="0.8"/>
<line x1="23.5" y1="303.86" x2="26.5" y2="303.86" stroke="#444" stroke-width="0.8"/>
<line x1="24.7" y1="317.02" x2="26.5" y2="317.02" stroke="#444" stroke-width="0.8"/>
<line x1="23.5" y1="330.18" x2="26.5" y2="330.18" stroke="#444" stroke-width="0.8"/>
<line x1="24.7" y1="343.34" x2="26.5" y2="343.34" stroke="#444" stroke-width="0.8"/>
<line x1="23.5" y1="356.5" x2="26.5" y2="356.5" stroke="#444" stroke-width="0.8"/>
<line x1="38.2" y1="356.5" x2="38.2" y2="359.3" stroke="#333" stroke-width="0.8"/>
<line x1="57.76" y1="356.5" x2="57.76" y2="358.1" stroke="#333" stroke-width="0.8"/>
<line x1="77.33" y1="356.5" x2="77.33" y2="359.3" stroke="#333" stroke-width="0.8"/>
<line x1="96.89" y1="356.5" x2="96.89" y2="358.1" stroke="#333" stroke-width="0.8"/>
<line x1="116.45" y1="356.5" x2="116.45" y2="359.3" stroke="#333" stroke-width="0.8"/>
<line x1="136.01" y1="356.5" x2="136.01" y2="358.1" stroke="#333" stroke-width="0.8"/>
<line x1="155.57" y1="356.5" x2="155.57" y2="359.3" stroke="#333" stroke-width="0.8"/>
<line x1="175.14" y1="356.5" x2="175.14" y2="358.1" stroke="#333" stroke-width="0.8"/>
<line x1="194.7" y1="356.5" x2="194.7" y2="359.3" stroke="#333" stroke-width="0.8"/>
<text x="38.2" y="370.3" font-size="8.4" text-anchor="middle">1350</text>
<text x="77.33" y="370.3" font-size="8.4" text-anchor="middle">1400</text>
<text x="116.45" y="370.3" font-size="8.4" text-anchor="middle">1450</text>
<text x="155.57" y="370.3" font-size="8.4" text-anchor="middle">1500</text>
<text x="194.7" y="370.3" font-size="8.4" text-anchor="middle">1550</text>
<text x="106.6" y="383.8" font-size="8.4" text-anchor="middle">Wavelength (nm)</text>
<text x="14.4" y="284.2" font-size="8.45" text-anchor="middle" transform="rotate(-90 14.4 284.2)">Intensity (normalized)</text>
<text x="212.6" y="215.8" font-size="15.5" font-weight="bold">e</text>
<rect x="230" y="210" width="139" height="151" fill="#040404"/>
<rect x="230" y="210" width="139" height="151" fill="#fff" filter="url(#grain)" opacity="0.3"/>
<ellipse cx="294.5" cy="282.5" rx="21" ry="20.5" fill="url(#ge)"/>
<circle cx="290.3" cy="281.1" r="5.2" fill="url(#gdot)"/>
<circle cx="297.3" cy="275.7" r="4.6" fill="url(#gdot)"/>
<circle cx="301.2" cy="281.9" r="4.4" fill="url(#gdot)"/>
<circle cx="295" cy="288.9" r="5.0" fill="url(#gdot)"/>
<circle cx="290.6" cy="281.0" r="1.6" fill="#bbb" opacity="0.55" filter="url(#bl05)"/>
<text x="376.2" y="215.6" font-size="15.5" font-weight="bold">f</text>
<rect x="388" y="209" width="139" height="152" fill="#040404"/>
<rect x="388" y="209" width="139" height="152" fill="#fff" filter="url(#grain)" opacity="0.3"/>
<g clip-path="url(#cf)">
<ellipse cx="455" cy="290" rx="115" ry="115" fill="url(#gfw)"/>
<rect x="388" y="209" width="139" height="152" fill="#fff" filter="url(#grain)" opacity="0.25"/>
<ellipse cx="458" cy="287" rx="54" ry="52" fill="url(#gfh)"/>
<g fill="none" stroke="#b0b0b0" stroke-width="1.0" filter="url(#bl05)"><path d="M486.32,290.02 A28.5,27.07 0 0 1 484.24,297.56" stroke-opacity="0.33"/><path d="M483.45,299.18 A28.5,27.07 0 0 1 480.79,303.26" stroke-opacity="0.34"/><path d="M476.67,307.46 A28.5,27.07 0 0 1 472.9,310.08" stroke-opacity="0.27"/><path d="M459.02,314.06 A28.5,27.07 0 0 1 454.58,313.88" stroke-opacity="0.52"/><path d="M449.43,312.82 A28.5,27.07 0 0 1 443.16,310.12" stroke-opacity="0.21"/><path d="M435.95,304.16 A28.5,27.07 0 0 1 433.09,300.16" stroke-opacity="0.25"/><path d="M429.61,284.62 A28.5,27.07 0 0 1 431.37,277.35" stroke-opacity="0.25"/><path d="M432.33,275.25 A28.5,27.07 0 0 1 436.17,269.59" stroke-opacity="0.23"/><path d="M448.91,261.34 A28.5,27.07 0 0 1 456.62,259.96" stroke-opacity="0.30"/><path d="M485.48,279.8 A28.5,27.07 0 0 1 486.5,287.22" stroke-opacity="0.21"/><path d="M488.56,291.97 A31,29.45 0 0 1 487.43,296.25" stroke-opacity="0.21"/><path d="M486.01,299.63 A31,29.45 0 0 1 480.89,306.86" stroke-opacity="0.27"/><path d="M469.15,314.48 A31,29.45 0 0 1 463.47,315.99" stroke-opacity="0.17"/><path d="M448.07,314.9 A31,29.45 0 0 1 443.31,312.93" stroke-opacity="0.22"/><path d="M428.51,296.08 A31,29.45 0 0 1 427.1,289.34" stroke-opacity="0.21"/><path d="M429.16,276.21 A31,29.45 0 0 1 432.8,269.85" stroke-opacity="0.13"/><path d="M435.12,267.13 A31,29.45 0 0 1 439.5,263.37" stroke-opacity="0.33"/><path d="M444.16,260.65 A31,29.45 0 0 1 452.45,258.03" stroke-opacity="0.15"/><path d="M457.89,257.55 A31,29.45 0 0 1 465.45,258.41" stroke-opacity="0.13"/><path d="M464.68,258.24 A31,29.45 0 0 1 470.24,259.94" stroke-opacity="0.28"/><path d="M488.89,299.32 A33.5,31.82 0 0 1 484.91,305.95" stroke-opacity="0.24"/><path d="M479.09,311.73 A33.5,31.82 0 0 1 472.82,315.54" stroke-opacity="0.30"/><path d="M473.68,315.12 A33.5,31.82 0 0 1 468.34,317.27" stroke-opacity="0.40"/><path d="M462.16,318.58 A33.5,31.82 0 0 1 456.2,318.78" stroke-opacity="0.35"/><path d="M450.89,318.1 A33.5,31.82 0 0 1 441.75,314.83" stroke-opacity="0.39"/><path d="M438.87,313.12 A33.5,31.82 0 0 1 434.6,309.77" stroke-opacity="0.14"/><path d="M431.34,306.27 A33.5,31.82 0 0 1 427.08,299.24" stroke-opacity="0.20"/><path d="M425.38,294.25 A33.5,31.82 0 0 1 424.52,288.14" stroke-opacity="0.13"/><path d="M424.5,286.56 A33.5,31.82 0 0 1 425.15,280.74" stroke-opacity="0.21"/><path d="M428.16,272.53 A33.5,31.82 0 0 1 431.62,267.39" stroke-opacity="0.29"/><path d="M464.22,255.73 A33.5,31.82 0 0 1 469.9,257.25" stroke-opacity="0.17"/><path d="M475.51,259.87 A33.5,31.82 0 0 1 480.94,263.81" stroke-opacity="0.28"/><path d="M486.26,269.91 A33.5,31.82 0 0 1 489.87,277.2" stroke-opacity="0.21"/><path d="M482.07,312.43 A36,34.2 0 0 1 473.27,317.97" stroke-opacity="0.12"/><path d="M472.91,318.13 A36,34.2 0 0 1 464,320.72" stroke-opacity="0.20"/><path d="M463.72,320.77 A36,34.2 0 0 1 455.39,321.11" stroke-opacity="0.31"/><path d="M446.61,319.44 A36,34.2 0 0 1 438.35,315.65" stroke-opacity="0.32"/><path d="M437.85,315.34 A36,34.2 0 0 1 431.03,309.66" stroke-opacity="0.35"/><path d="M428.59,306.72 A36,34.2 0 0 1 424.13,298.6" stroke-opacity="0.34"/><path d="M422.9,294.6 A36,34.2 0 0 1 422.01,287.57" stroke-opacity="0.19"/><path d="M422,286.45 A36,34.2 0 0 1 423.23,278.14" stroke-opacity="0.27"/><path d="M426.32,270.76 A36,34.2 0 0 1 430.53,264.89" stroke-opacity="0.22"/><path d="M432.57,262.8 A36,34.2 0 0 1 440.46,257.13" stroke-opacity="0.10"/><path d="M440.19,257.28 A36,34.2 0 0 1 448.14,254.11" stroke-opacity="0.17"/><path d="M467.74,254.08 A36,34.2 0 0 1 475.77,257.26" stroke-opacity="0.25"/><path d="M496.47,288.48 A38.5,36.57 0 0 1 495.61,294.84" stroke-opacity="0.22"/><path d="M492.87,302.49 A38.5,36.57 0 0 1 486.91,311.15" stroke-opacity="0.17"/><path d="M486.49,311.6 A38.5,36.57 0 0 1 480.32,316.8" stroke-opacity="0.28"/><path d="M471.11,321.39 A38.5,36.57 0 0 1 463.37,323.22" stroke-opacity="0.23"/><path d="M433.46,315.18 A38.5,36.57 0 0 1 426.28,307.73" stroke-opacity="0.26"/><path d="M427.18,308.92 A38.5,36.57 0 0 1 423.63,303.48" stroke-opacity="0.20"/><path d="M423.75,270.3 A38.5,36.57 0 0 1 428.51,263.49" stroke-opacity="0.12"/><path d="M433.9,258.47 A38.5,36.57 0 0 1 440.96,254.2" stroke-opacity="0.08"/><path d="M451.63,250.93 A38.5,36.57 0 0 1 461.46,250.57" stroke-opacity="0.16"/><path d="M477.38,255.4 A38.5,36.57 0 0 1 482.74,258.97" stroke-opacity="0.14"/><path d="M494.76,276.14 A38.5,36.57 0 0 1 496.17,282.24" stroke-opacity="0.08"/><path d="M498.84,290.47 A41,38.95 0 0 1 496.74,299.76" stroke-opacity="0.21"/><path d="M493.15,307.05 A41,38.95 0 0 1 486.76,314.76" stroke-opacity="0.12"/><path d="M488.45,313.09 A41,38.95 0 0 1 483.95,317.16" stroke-opacity="0.17"/><path d="M477.22,321.41 A41,38.95 0 0 1 470,324.25" stroke-opacity="0.15"/><path d="M460.89,325.85 A41,38.95 0 0 1 450.99,325.38" stroke-opacity="0.23"/><path d="M444.6,323.81 A41,38.95 0 0 1 434.22,318.73" stroke-opacity="0.10"/><path d="M432.6,317.58 A41,38.95 0 0 1 427.54,313.07" stroke-opacity="0.17"/><path d="M422.34,306.22 A41,38.95 0 0 1 418.95,298.87" stroke-opacity="0.19"/><path d="M417.74,294.35 A41,38.95 0 0 1 417.21,283.04" stroke-opacity="0.12"/><path d="M417.03,285.4 A41,38.95 0 0 1 418.82,275.52" stroke-opacity="0.17"/><path d="M421.87,268.58 A41,38.95 0 0 1 425.98,262.67" stroke-opacity="0.18"/><path d="M432.31,256.64 A41,38.95 0 0 1 440.29,251.87" stroke-opacity="0.17"/><path d="M457.86,248.05 A41,38.95 0 0 1 466.1,248.82" stroke-opacity="0.07"/><path d="M469.51,249.62 A41,38.95 0 0 1 479.42,253.79" stroke-opacity="0.13"/><path d="M489.74,262.35 A41,38.95 0 0 1 495.51,271.28" stroke-opacity="0.08"/><path d="M501.48,288.16 A43.5,41.32 0 0 1 500.63,295.23" stroke-opacity="0.11"/><path d="M495.81,307.43 A43.5,41.32 0 0 1 489.21,315.78" stroke-opacity="0.22"/><path d="M485.45,319.06 A43.5,41.32 0 0 1 479.61,322.86" stroke-opacity="0.10"/><path d="M477.53,323.93 A43.5,41.32 0 0 1 466.91,327.45" stroke-opacity="0.17"/><path d="M458.25,328.32 A43.5,41.32 0 0 1 448.16,327.25" stroke-opacity="0.12"/><path d="M443.35,325.91 A43.5,41.32 0 0 1 432.42,320.42" stroke-opacity="0.10"/><path d="M429.41,318.14 A43.5,41.32 0 0 1 422.72,311.17" stroke-opacity="0.16"/><path d="M415.84,297.16 A43.5,41.32 0 0 1 414.5,287.32" stroke-opacity="0.05"/><path d="M414.73,282.74 A43.5,41.32 0 0 1 416.62,274.26" stroke-opacity="0.14"/><path d="M418.78,269.13 A43.5,41.32 0 0 1 424.76,260.35" stroke-opacity="0.06"/><path d="M427.1,257.91 A43.5,41.32 0 0 1 437.28,250.66" stroke-opacity="0.15"/><path d="M451.54,246.13 A43.5,41.32 0 0 1 460.87,245.76" stroke-opacity="0.14"/><path d="M469.6,247.17 A43.5,41.32 0 0 1 477.6,250.11" stroke-opacity="0.07"/><path d="M486.31,255.62 A43.5,41.32 0 0 1 491.47,260.61" stroke-opacity="0.14"/><path d="M500.12,304.56 A46,43.7 0 0 1 495.52,312.28" stroke-opacity="0.13"/><path d="M480.01,325.37 A46,43.7 0 0 1 470.38,329.09" stroke-opacity="0.09"/><path d="M446.09,329.21 A46,43.7 0 0 1 437.24,326" stroke-opacity="0.11"/><path d="M433.74,324.13 A46,43.7 0 0 1 427.11,319.38" stroke-opacity="0.13"/><path d="M419.83,311.39 A46,43.7 0 0 1 414.26,300.52" stroke-opacity="0.13"/><path d="M414.09,300.02 A46,43.7 0 0 1 412.04,288.81" stroke-opacity="0.11"/><path d="M412.09,284.24 A46,43.7 0 0 1 413.55,275.75" stroke-opacity="0.12"/><path d="M428.54,253.44 A46,43.7 0 0 1 434.94,249.19" stroke-opacity="0.06"/><path d="M437.1,248.07 A46,43.7 0 0 1 444.09,245.35" stroke-opacity="0.11"/><path d="M457.24,243.31 A46,43.7 0 0 1 464.98,243.81" stroke-opacity="0.07"/><path d="M466.15,243.99 A46,43.7 0 0 1 474.13,246.07" stroke-opacity="0.10"/><path d="M488.24,254.07 A46,43.7 0 0 1 493.59,259.31" stroke-opacity="0.08"/><path d="M496.03,262.41 A46,43.7 0 0 1 501.29,272.23" stroke-opacity="0.06"/><path d="M492.1,320.43 A49,46.55 0 0 1 482.96,327.06" stroke-opacity="0.05"/><path d="M440.16,330.36 A49,46.55 0 0 1 427.89,323.73" stroke-opacity="0.04"/><path d="M417.72,313.5 A49,46.55 0 0 1 411.82,302.57" stroke-opacity="0.06"/><path d="M410.48,298.34 A49,46.55 0 0 1 409.02,288.47" stroke-opacity="0.06"/><path d="M415.43,263.95 A49,46.55 0 0 1 420.37,257.19" stroke-opacity="0.05"/><path d="M423.14,254.29 A49,46.55 0 0 1 429.84,248.91" stroke-opacity="0.04"/><path d="M433.63,246.61 A49,46.55 0 0 1 446.52,241.75" stroke-opacity="0.07"/><path d="M457.88,240.45 A49,46.55 0 0 1 469.74,241.81" stroke-opacity="0.05"/><path d="M471.32,242.2 A49,46.55 0 0 1 484.56,247.88" stroke-opacity="0.07"/><path d="M499.79,262.7 A49,46.55 0 0 1 505.06,274.02" stroke-opacity="0.07"/><path d="M506.3,279.14 A49,46.55 0 0 1 506.69,292.21" stroke-opacity="0.07"/></g>
<g filter="url(#bl2)" fill="#8a8a8a"><ellipse cx="457" cy="228.5" rx="3.4" ry="4.2" opacity="0.6"/><ellipse cx="457.5" cy="242.5" rx="4" ry="5.2" opacity="0.55"/><ellipse cx="457" cy="240" rx="5.5" ry="16" opacity="0.28"/></g>
<path d="M486.05,286.2 L486.33,289.75 L485.82,293.3 L485.2,296.94 L482.68,299.8 L481.21,303.23 L475.81,303.33 L474.45,306.87 L472.49,310.5 L468.47,310.98 L465.21,313.13 L460.93,310.57 L457.5,312.27 L453.99,311.12 L450.2,311.68 L446.66,310.69 L444.59,307.12 L441.23,306.04 L438.4,304.07 L433.81,303.21 L432.22,299.86 L433.04,295.68 L429.17,293.3 L431.34,289.42 L428.97,286.2 L431.4,282.98 L432.61,279.96 L430.09,275.58 L434.38,273.71 L436.3,270.98 L436.17,266.24 L439.44,264.18 L443.97,264.28 L445.99,260.21 L450.21,260.73 L453.74,259.49 L457.5,261.24 L461.41,258.39 L464.97,260.12 L469.02,260.19 L472.38,262.08 L474,266.08 L476.86,268.09 L478.53,271.1 L480.37,273.84 L481.57,276.87 L483.69,279.63 L485.72,282.72 Z" fill="#999" opacity="0.8" filter="url(#bl1)"/>
<path d="M482.42,286 L481.83,290.12 L480.21,293.94 L479.84,298.4 L475.75,300.74 L473.5,304.39 L470.35,307.53 L465.59,307.7 L461.7,309.75 L457.3,310.25 L453.1,308.66 L448.77,308.31 L444.47,307.17 L441.17,304.31 L437.6,301.74 L436.15,297.63 L434.18,294.01 L433.35,290.02 L432.09,286 L431.54,281.67 L433.43,277.72 L434.94,273.7 L438.2,270.73 L440.74,267.21 L445.15,265.96 L448.84,263.87 L452.86,261.99 L457.3,261.51 L461.65,262.53 L465.6,264.28 L469.64,265.65 L473.08,268.09 L476.22,270.88 L479.73,273.67 L480.34,278.01 L482.98,281.69 Z" fill="#fff" filter="url(#bl05)"/>
</g>
<text x="530.4" y="215.9" font-size="15" font-weight="bold">g</text>
<rect x="546" y="210" width="139" height="150" fill="#040404"/>
<rect x="546" y="210" width="139" height="150" fill="#fff" filter="url(#grain)" opacity="0.3"/>
<ellipse cx="612" cy="285.5" rx="24" ry="25" fill="url(#gg)"/>
<ellipse cx="611" cy="285" rx="13" ry="14" fill="none" stroke="#999" stroke-width="3" stroke-opacity="0.22" filter="url(#bl2)"/>
<circle cx="607.8" cy="281.5" r="4.4" fill="url(#gdot2)"/>
<circle cx="615.2" cy="276.1" r="3.3" fill="url(#gdot2)"/>
<circle cx="620.1" cy="283.1" r="3.1" fill="url(#gdot2)"/>
<circle cx="611.7" cy="289.4" r="3.9" fill="url(#gdot2)"/></svg>
</body></html>
